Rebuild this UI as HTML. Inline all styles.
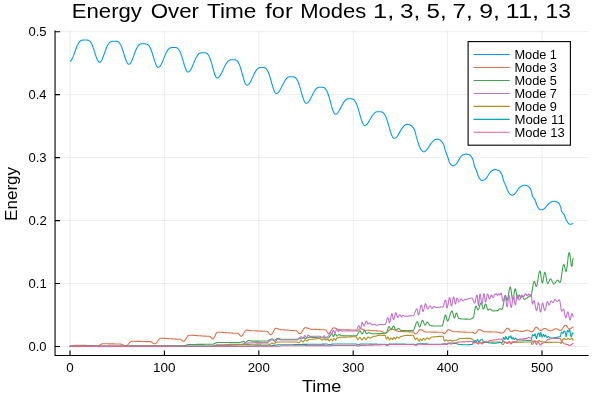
<!DOCTYPE html>
<html><head><meta charset="utf-8"><title>Energy Over Time</title>
<style>html,body{margin:0;padding:0;background:#fff;}svg{display:block;}text{font-family:"Liberation Sans",sans-serif;fill:#000;}</style></head><body>
<svg width="600" height="400" viewBox="0 0 600 400">
<rect width="600" height="400" fill="#fff"/>
<path d="M70.00 31.00 V355.50 M164.40 31.00 V355.50 M258.80 31.00 V355.50 M353.20 31.00 V355.50 M447.60 31.00 V355.50 M542.00 31.00 V355.50 M55.05 346.50 H588.70 M55.05 283.54 H588.70 M55.05 220.58 H588.70 M55.05 157.62 H588.70 M55.05 94.66 H588.70 M55.05 31.70 H588.70" stroke="#000" stroke-opacity="0.1" stroke-width="0.7" fill="none"/>
<g fill="none" stroke-width="1.1" stroke-linejoin="round" stroke-linecap="butt">
<path d="M69.7 61.3 L70.0 61.2 L70.4 61.1 L70.7 60.8 L71.1 60.5 L71.4 60.0 L71.7 59.5 L72.1 58.9 L72.4 58.2 L72.8 57.5 L73.1 56.7 L73.4 55.8 L73.8 54.9 L74.1 54.0 L74.5 53.0 L74.8 52.1 L75.1 51.1 L75.5 50.1 L75.8 49.2 L76.2 48.3 L76.5 47.4 L76.8 46.6 L77.2 45.8 L77.5 45.0 L77.9 44.3 L78.2 43.7 L78.5 43.1 L78.9 42.6 L79.2 42.1 L79.6 41.7 L79.9 41.4 L80.2 41.1 L80.6 40.8 L80.9 40.6 L81.3 40.4 L81.6 40.3 L81.9 40.2 L82.3 40.1 L82.6 40.1 L83.0 40.0 L83.3 40.0 L83.6 40.0 L84.0 40.0 L84.3 40.0 L84.7 40.0 L85.0 40.0 L85.3 40.0 L85.7 40.0 L86.0 40.0 L86.3 40.0 L86.7 40.0 L87.0 40.0 L87.4 40.1 L87.7 40.1 L88.0 40.2 L88.4 40.3 L88.7 40.4 L89.0 40.6 L89.4 40.8 L89.7 41.1 L90.1 41.4 L90.4 41.8 L90.7 42.3 L91.1 42.8 L91.4 43.4 L91.7 44.1 L92.1 44.8 L92.4 45.6 L92.8 46.4 L93.1 47.4 L93.4 48.3 L93.8 49.3 L94.1 50.4 L94.4 51.4 L94.8 52.5 L95.1 53.6 L95.5 54.6 L95.8 55.7 L96.1 56.7 L96.5 57.6 L96.8 58.5 L97.1 59.3 L97.5 60.1 L97.8 60.7 L98.2 61.2 L98.5 61.6 L98.8 62.0 L99.2 62.1 L99.5 62.2 L99.8 62.1 L100.2 62.0 L100.5 61.8 L100.8 61.4 L101.2 61.0 L101.5 60.5 L101.8 59.9 L102.2 59.2 L102.5 58.4 L102.8 57.6 L103.2 56.8 L103.5 55.9 L103.8 55.0 L104.2 54.1 L104.5 53.1 L104.8 52.2 L105.2 51.2 L105.5 50.3 L105.8 49.4 L106.2 48.6 L106.5 47.7 L106.8 46.9 L107.2 46.2 L107.5 45.5 L107.9 44.9 L108.2 44.3 L108.5 43.8 L108.9 43.3 L109.2 42.9 L109.5 42.6 L109.9 42.3 L110.2 42.1 L110.5 41.9 L110.9 41.7 L111.2 41.6 L111.5 41.5 L111.9 41.4 L112.2 41.4 L112.5 41.3 L112.9 41.3 L113.2 41.3 L113.5 41.3 L113.9 41.3 L114.2 41.3 L114.5 41.3 L114.9 41.3 L115.2 41.3 L115.6 41.3 L115.9 41.3 L116.2 41.3 L116.6 41.4 L116.9 41.4 L117.3 41.5 L117.6 41.6 L117.9 41.7 L118.3 41.9 L118.6 42.2 L119.0 42.4 L119.3 42.8 L119.6 43.2 L120.0 43.7 L120.3 44.2 L120.7 44.8 L121.0 45.5 L121.3 46.3 L121.7 47.1 L122.0 48.0 L122.3 48.9 L122.7 49.9 L123.0 51.0 L123.4 52.0 L123.7 53.1 L124.0 54.2 L124.4 55.4 L124.7 56.5 L125.1 57.5 L125.4 58.6 L125.7 59.6 L126.1 60.5 L126.4 61.3 L126.8 62.1 L127.1 62.7 L127.4 63.3 L127.8 63.7 L128.1 64.0 L128.5 64.2 L128.8 64.3 L129.1 64.3 L129.5 64.1 L129.8 63.9 L130.1 63.5 L130.5 63.1 L130.8 62.6 L131.2 62.0 L131.5 61.3 L131.8 60.6 L132.2 59.8 L132.5 59.0 L132.8 58.1 L133.2 57.2 L133.5 56.3 L133.9 55.4 L134.2 54.5 L134.5 53.5 L134.9 52.6 L135.2 51.7 L135.5 50.9 L135.9 50.1 L136.2 49.3 L136.6 48.6 L136.9 47.9 L137.2 47.3 L137.6 46.7 L137.9 46.2 L138.2 45.8 L138.6 45.4 L138.9 45.0 L139.3 44.7 L139.6 44.5 L139.9 44.3 L140.3 44.1 L140.6 44.0 L140.9 43.9 L141.3 43.9 L141.6 43.8 L142.0 43.8 L142.3 43.8 L142.6 43.8 L143.0 43.8 L143.3 43.8 L143.6 43.8 L144.0 43.8 L144.3 43.8 L144.6 43.8 L145.0 43.8 L145.3 43.8 L145.6 43.9 L146.0 43.9 L146.3 44.0 L146.6 44.1 L147.0 44.2 L147.3 44.3 L147.6 44.5 L148.0 44.8 L148.3 45.1 L148.6 45.4 L149.0 45.8 L149.3 46.3 L149.6 46.9 L150.0 47.5 L150.3 48.1 L150.6 48.9 L151.0 49.7 L151.3 50.6 L151.6 51.5 L152.0 52.4 L152.3 53.4 L152.6 54.5 L153.0 55.6 L153.3 56.6 L153.6 57.7 L154.0 58.8 L154.3 59.9 L154.6 60.9 L155.0 61.9 L155.3 62.8 L155.6 63.7 L156.0 64.5 L156.3 65.2 L156.6 65.8 L157.0 66.4 L157.3 66.8 L157.6 67.1 L158.0 67.2 L158.3 67.3 L158.6 67.3 L159.0 67.1 L159.3 66.9 L159.6 66.6 L160.0 66.3 L160.3 65.9 L160.6 65.4 L161.0 64.8 L161.3 64.2 L161.6 63.5 L162.0 62.8 L162.3 62.0 L162.6 61.2 L163.0 60.4 L163.3 59.6 L163.6 58.8 L164.0 57.9 L164.3 57.1 L164.6 56.3 L165.0 55.4 L165.3 54.7 L165.6 53.9 L166.0 53.2 L166.3 52.5 L166.6 51.9 L167.0 51.3 L167.3 50.7 L167.6 50.2 L168.0 49.7 L168.3 49.3 L168.6 49.0 L169.0 48.7 L169.3 48.4 L169.6 48.2 L170.0 48.0 L170.3 47.9 L170.6 47.7 L171.0 47.7 L171.3 47.6 L171.6 47.5 L172.0 47.5 L172.3 47.5 L172.6 47.5 L173.0 47.5 L173.3 47.5 L173.6 47.5 L174.0 47.5 L174.3 47.5 L174.6 47.5 L175.0 47.5 L175.3 47.5 L175.6 47.6 L176.0 47.6 L176.3 47.7 L176.6 47.8 L177.0 47.9 L177.3 48.1 L177.6 48.3 L178.0 48.6 L178.3 49.0 L178.6 49.4 L179.0 49.8 L179.3 50.4 L179.6 51.0 L180.0 51.6 L180.3 52.4 L180.7 53.2 L181.0 54.1 L181.3 55.1 L181.7 56.1 L182.0 57.1 L182.3 58.2 L182.7 59.4 L183.0 60.5 L183.3 61.7 L183.7 62.8 L184.0 64.0 L184.3 65.1 L184.7 66.1 L185.0 67.1 L185.3 68.1 L185.7 69.0 L186.0 69.7 L186.3 70.4 L186.7 71.0 L187.0 71.4 L187.3 71.7 L187.7 71.9 L188.0 72.0 L188.3 72.0 L188.7 71.8 L189.0 71.7 L189.3 71.4 L189.7 71.1 L190.0 70.7 L190.3 70.2 L190.7 69.7 L191.0 69.1 L191.3 68.5 L191.7 67.8 L192.0 67.1 L192.3 66.3 L192.7 65.6 L193.0 64.8 L193.3 64.0 L193.7 63.2 L194.0 62.4 L194.3 61.6 L194.7 60.8 L195.0 60.1 L195.3 59.3 L195.7 58.6 L196.0 57.9 L196.3 57.3 L196.7 56.7 L197.0 56.1 L197.3 55.6 L197.7 55.2 L198.0 54.7 L198.3 54.4 L198.7 54.0 L199.0 53.7 L199.3 53.5 L199.7 53.3 L200.0 53.1 L200.3 53.0 L200.7 52.9 L201.0 52.8 L201.3 52.8 L201.7 52.7 L202.0 52.7 L202.3 52.7 L202.7 52.7 L203.0 52.7 L203.3 52.7 L203.7 52.7 L204.0 52.7 L204.4 52.7 L204.7 52.7 L205.0 52.7 L205.4 52.8 L205.7 52.8 L206.0 52.9 L206.4 53.1 L206.7 53.2 L207.1 53.5 L207.4 53.7 L207.7 54.1 L208.1 54.5 L208.4 55.0 L208.7 55.5 L209.1 56.2 L209.4 56.9 L209.8 57.7 L210.1 58.6 L210.4 59.6 L210.8 60.6 L211.1 61.7 L211.5 62.9 L211.8 64.0 L212.1 65.3 L212.5 66.5 L212.8 67.8 L213.1 69.0 L213.5 70.2 L213.8 71.4 L214.2 72.6 L214.5 73.6 L214.8 74.6 L215.2 75.4 L215.5 76.2 L215.8 76.8 L216.2 77.3 L216.5 77.7 L216.9 77.9 L217.2 78.0 L217.5 78.0 L217.9 77.9 L218.2 77.7 L218.6 77.5 L218.9 77.2 L219.2 76.8 L219.6 76.4 L219.9 75.9 L220.3 75.4 L220.6 74.8 L220.9 74.2 L221.3 73.6 L221.6 72.9 L222.0 72.2 L222.3 71.5 L222.6 70.7 L223.0 70.0 L223.3 69.2 L223.7 68.5 L224.0 67.8 L224.3 67.1 L224.7 66.4 L225.0 65.7 L225.4 65.0 L225.7 64.4 L226.0 63.8 L226.4 63.3 L226.7 62.8 L227.1 62.3 L227.4 61.9 L227.7 61.5 L228.1 61.2 L228.4 60.9 L228.8 60.6 L229.1 60.4 L229.4 60.2 L229.8 60.0 L230.1 59.9 L230.5 59.8 L230.8 59.8 L231.1 59.7 L231.5 59.7 L231.8 59.7 L232.2 59.7 L232.5 59.7 L232.8 59.7 L233.2 59.7 L233.5 59.7 L233.8 59.7 L234.2 59.7 L234.5 59.7 L234.9 59.8 L235.2 59.8 L235.5 59.9 L235.9 60.0 L236.2 60.2 L236.5 60.4 L236.9 60.7 L237.2 61.0 L237.6 61.3 L237.9 61.8 L238.2 62.3 L238.6 62.9 L238.9 63.6 L239.2 64.4 L239.6 65.2 L239.9 66.1 L240.3 67.1 L240.6 68.1 L240.9 69.3 L241.3 70.4 L241.6 71.6 L241.9 72.8 L242.3 74.0 L242.6 75.3 L243.0 76.5 L243.3 77.7 L243.6 78.8 L244.0 79.9 L244.3 81.0 L244.6 81.9 L245.0 82.7 L245.3 83.5 L245.7 84.1 L246.0 84.6 L246.3 84.9 L246.7 85.1 L247.0 85.2 L247.3 85.2 L247.7 85.1 L248.0 84.9 L248.4 84.6 L248.7 84.3 L249.0 83.9 L249.4 83.5 L249.7 83.0 L250.1 82.5 L250.4 81.9 L250.7 81.3 L251.1 80.6 L251.4 79.9 L251.8 79.2 L252.1 78.4 L252.4 77.7 L252.8 76.9 L253.1 76.2 L253.5 75.4 L253.8 74.7 L254.2 74.0 L254.5 73.3 L254.8 72.6 L255.2 72.0 L255.5 71.4 L255.9 70.9 L256.2 70.3 L256.5 69.9 L256.9 69.5 L257.2 69.1 L257.6 68.7 L257.9 68.5 L258.2 68.2 L258.6 68.0 L258.9 67.9 L259.3 67.7 L259.6 67.6 L259.9 67.6 L260.3 67.5 L260.6 67.5 L261.0 67.5 L261.3 67.5 L261.6 67.5 L262.0 67.5 L262.3 67.5 L262.6 67.5 L263.0 67.5 L263.3 67.5 L263.6 67.6 L264.0 67.6 L264.3 67.7 L264.6 67.8 L265.0 67.9 L265.3 68.1 L265.6 68.3 L266.0 68.6 L266.3 68.9 L266.6 69.3 L267.0 69.8 L267.3 70.3 L267.6 70.9 L268.0 71.6 L268.3 72.3 L268.6 73.1 L269.0 74.0 L269.3 75.0 L269.6 76.0 L270.0 77.1 L270.3 78.2 L270.6 79.3 L271.0 80.5 L271.3 81.7 L271.6 82.9 L272.0 84.1 L272.3 85.3 L272.6 86.4 L273.0 87.5 L273.3 88.6 L273.6 89.5 L274.0 90.4 L274.3 91.2 L274.6 91.9 L275.0 92.5 L275.3 92.9 L275.6 93.2 L276.0 93.4 L276.3 93.5 L276.6 93.5 L277.0 93.4 L277.3 93.2 L277.6 93.0 L278.0 92.7 L278.3 92.4 L278.7 92.0 L279.0 91.6 L279.3 91.1 L279.7 90.6 L280.0 90.0 L280.3 89.4 L280.7 88.8 L281.0 88.2 L281.4 87.5 L281.7 86.8 L282.0 86.1 L282.4 85.4 L282.7 84.7 L283.0 84.1 L283.4 83.4 L283.7 82.7 L284.1 82.1 L284.4 81.5 L284.7 80.9 L285.1 80.4 L285.4 79.9 L285.7 79.4 L286.1 79.0 L286.4 78.6 L286.8 78.2 L287.1 77.9 L287.4 77.6 L287.8 77.4 L288.1 77.2 L288.4 77.1 L288.8 76.9 L289.1 76.8 L289.5 76.8 L289.8 76.7 L290.1 76.7 L290.5 76.7 L290.8 76.7 L291.1 76.7 L291.5 76.7 L291.8 76.7 L292.1 76.7 L292.5 76.7 L292.8 76.7 L293.1 76.8 L293.5 76.8 L293.8 76.9 L294.1 77.0 L294.5 77.1 L294.8 77.3 L295.2 77.5 L295.5 77.7 L295.8 78.0 L296.2 78.4 L296.5 78.8 L296.8 79.3 L297.2 79.9 L297.5 80.5 L297.8 81.3 L298.2 82.0 L298.5 82.9 L298.8 83.8 L299.2 84.8 L299.5 85.9 L299.8 86.9 L300.2 88.1 L300.5 89.2 L300.8 90.4 L301.2 91.6 L301.5 92.8 L301.8 94.0 L302.2 95.2 L302.5 96.3 L302.9 97.4 L303.2 98.4 L303.5 99.4 L303.9 100.3 L304.2 101.0 L304.5 101.7 L304.9 102.3 L305.2 102.7 L305.5 103.0 L305.9 103.2 L306.2 103.3 L306.5 103.3 L306.9 103.2 L307.2 103.0 L307.5 102.8 L307.9 102.5 L308.2 102.2 L308.6 101.8 L308.9 101.4 L309.2 100.9 L309.6 100.4 L309.9 99.8 L310.2 99.2 L310.6 98.6 L310.9 98.0 L311.2 97.3 L311.6 96.6 L311.9 96.0 L312.2 95.3 L312.6 94.6 L312.9 93.9 L313.2 93.3 L313.6 92.7 L313.9 92.1 L314.3 91.5 L314.6 90.9 L314.9 90.4 L315.3 90.0 L315.6 89.5 L315.9 89.1 L316.3 88.8 L316.6 88.4 L316.9 88.2 L317.3 87.9 L317.6 87.7 L317.9 87.6 L318.3 87.4 L318.6 87.3 L319.0 87.3 L319.3 87.2 L319.6 87.2 L320.0 87.2 L320.3 87.2 L320.6 87.2 L321.0 87.2 L321.3 87.2 L321.7 87.2 L322.0 87.2 L322.3 87.2 L322.7 87.3 L323.0 87.3 L323.3 87.4 L323.7 87.5 L324.0 87.6 L324.4 87.8 L324.7 88.0 L325.0 88.3 L325.4 88.7 L325.7 89.1 L326.0 89.6 L326.4 90.1 L326.7 90.7 L327.1 91.4 L327.4 92.2 L327.7 93.0 L328.1 94.0 L328.4 95.0 L328.7 96.0 L329.1 97.1 L329.4 98.3 L329.8 99.5 L330.1 100.7 L330.4 102.0 L330.8 103.2 L331.1 104.4 L331.4 105.7 L331.8 106.9 L332.1 108.0 L332.5 109.1 L332.8 110.1 L333.1 111.0 L333.5 111.8 L333.8 112.5 L334.1 113.1 L334.5 113.6 L334.8 113.9 L335.2 114.1 L335.5 114.2 L335.8 114.2 L336.2 114.1 L336.5 113.9 L336.8 113.7 L337.2 113.4 L337.5 113.1 L337.8 112.7 L338.2 112.3 L338.5 111.8 L338.8 111.3 L339.2 110.7 L339.5 110.1 L339.8 109.5 L340.2 108.9 L340.5 108.2 L340.8 107.6 L341.2 106.9 L341.5 106.2 L341.8 105.6 L342.2 105.0 L342.5 104.3 L342.9 103.7 L343.2 103.1 L343.5 102.6 L343.9 102.1 L344.2 101.6 L344.5 101.2 L344.9 100.7 L345.2 100.4 L345.5 100.1 L345.9 99.8 L346.2 99.5 L346.5 99.3 L346.9 99.2 L347.2 99.0 L347.5 98.9 L347.9 98.9 L348.2 98.8 L348.5 98.8 L348.9 98.8 L349.2 98.8 L349.5 98.8 L349.9 98.8 L350.2 98.8 L350.5 98.8 L350.9 98.8 L351.2 98.8 L351.6 98.9 L351.9 98.9 L352.2 99.0 L352.6 99.1 L352.9 99.2 L353.2 99.4 L353.6 99.6 L353.9 99.8 L354.3 100.1 L354.6 100.5 L354.9 100.9 L355.3 101.4 L355.6 102.0 L355.9 102.7 L356.3 103.4 L356.6 104.2 L356.9 105.0 L357.3 106.0 L357.6 106.9 L358.0 108.0 L358.3 109.1 L358.6 110.2 L359.0 111.4 L359.3 112.6 L359.6 113.8 L360.0 115.0 L360.3 116.2 L360.7 117.4 L361.0 118.5 L361.3 119.6 L361.7 120.6 L362.0 121.6 L362.3 122.5 L362.7 123.2 L363.0 123.9 L363.4 124.5 L363.7 124.9 L364.0 125.2 L364.4 125.4 L364.7 125.5 L365.0 125.5 L365.4 125.4 L365.7 125.2 L366.1 125.0 L366.4 124.8 L366.7 124.5 L367.1 124.1 L367.4 123.7 L367.8 123.2 L368.1 122.8 L368.4 122.2 L368.8 121.7 L369.1 121.1 L369.5 120.5 L369.8 119.9 L370.1 119.3 L370.5 118.7 L370.8 118.1 L371.2 117.5 L371.5 116.9 L371.8 116.4 L372.2 115.8 L372.5 115.3 L372.9 114.8 L373.2 114.4 L373.5 113.9 L373.9 113.6 L374.2 113.2 L374.6 112.9 L374.9 112.6 L375.2 112.4 L375.6 112.2 L375.9 112.1 L376.3 111.9 L376.6 111.8 L376.9 111.8 L377.3 111.7 L377.6 111.7 L378.0 111.7 L378.3 111.7 L378.6 111.7 L379.0 111.7 L379.3 111.7 L379.7 111.7 L380.0 111.7 L380.3 111.7 L380.7 111.8 L381.0 111.8 L381.3 111.9 L381.7 111.9 L382.0 112.1 L382.4 112.2 L382.7 112.4 L383.0 112.6 L383.4 112.9 L383.7 113.3 L384.1 113.7 L384.4 114.1 L384.7 114.7 L385.1 115.3 L385.4 115.9 L385.7 116.7 L386.1 117.5 L386.4 118.3 L386.8 119.3 L387.1 120.3 L387.4 121.3 L387.8 122.4 L388.1 123.5 L388.4 124.7 L388.8 125.8 L389.1 127.0 L389.5 128.2 L389.8 129.4 L390.1 130.5 L390.5 131.6 L390.8 132.6 L391.2 133.6 L391.5 134.6 L391.8 135.4 L392.2 136.1 L392.5 136.8 L392.8 137.3 L393.2 137.7 L393.5 138.1 L393.9 138.2 L394.2 138.3 L394.5 138.2 L394.9 138.1 L395.3 138.0 L395.8 137.8 L396.4 137.4 L397.0 136.8 L397.2 136.5 L397.5 136.1 L397.7 135.7 L398.0 135.3 L398.2 134.9 L398.5 134.4 L398.8 133.9 L399.0 133.4 L399.3 132.9 L399.6 132.4 L399.9 131.9 L400.2 131.4 L400.4 130.9 L400.7 130.4 L400.9 130.0 L401.2 129.6 L401.4 129.2 L401.8 128.7 L402.2 128.1 L402.5 127.6 L402.9 127.2 L403.2 126.8 L403.5 126.4 L403.8 126.1 L404.2 125.8 L404.5 125.5 L405.0 125.1 L405.5 124.8 L406.0 124.6 L406.5 124.5 L407.0 124.4 L407.6 124.4 L408.0 124.4 L408.5 124.5 L409.0 124.6 L409.5 124.7 L410.0 124.9 L410.5 125.2 L411.0 125.4 L411.4 125.8 L411.7 126.0 L412.1 126.4 L412.4 126.7 L412.7 127.1 L413.1 127.5 L413.4 127.9 L413.7 128.4 L414.0 128.9 L414.2 129.4 L414.5 129.9 L414.7 130.3 L414.8 130.7 L415.0 131.2 L415.1 131.6 L415.2 132.1 L415.4 132.6 L415.5 133.1 L415.6 133.6 L415.7 134.1 L415.8 134.6 L416.0 135.1 L416.1 135.7 L416.2 136.2 L416.4 136.8 L416.5 137.2 L416.7 137.7 L416.8 138.2 L417.0 138.7 L417.1 139.2 L417.3 139.7 L417.4 140.2 L417.6 140.7 L417.7 141.2 L417.9 141.8 L418.0 142.3 L418.2 142.7 L418.3 143.2 L418.5 143.7 L418.6 144.1 L418.8 144.5 L418.9 144.9 L419.1 145.6 L419.4 146.2 L419.6 146.7 L419.8 147.2 L420.0 147.7 L420.2 148.1 L420.4 148.5 L420.6 148.9 L420.8 149.2 L421.1 149.8 L421.4 150.3 L421.8 150.6 L422.1 150.9 L422.4 151.2 L422.9 151.5 L423.4 151.7 L423.9 151.8 L424.4 151.7 L424.9 151.4 L425.5 151.0 L425.8 150.7 L426.1 150.4 L426.4 150.1 L426.8 149.7 L427.1 149.2 L427.6 148.6 L427.8 148.3 L428.1 147.9 L428.4 147.5 L428.7 147.0 L429.0 146.6 L429.3 146.1 L429.6 145.6 L429.9 145.1 L430.2 144.6 L430.5 144.2 L430.8 143.8 L431.1 143.4 L431.4 143.0 L431.8 142.5 L432.2 142.0 L432.6 141.5 L433.0 141.1 L433.4 140.8 L433.8 140.4 L434.1 140.2 L434.5 139.9 L435.0 139.6 L435.6 139.4 L436.1 139.4 L436.5 139.3 L437.0 139.3 L437.5 139.3 L438.0 139.4 L438.5 139.5 L439.0 139.6 L439.6 139.7 L440.1 140.0 L440.8 140.5 L441.0 140.8 L441.3 141.1 L441.6 141.5 L442.0 141.9 L442.3 142.3 L442.6 142.8 L442.9 143.2 L443.2 143.7 L443.5 144.2 L443.7 144.7 L443.8 145.1 L444.0 145.6 L444.1 146.1 L444.3 146.6 L444.4 147.1 L444.5 147.7 L444.6 148.2 L444.8 148.8 L444.9 149.3 L445.1 149.9 L445.3 150.4 L445.4 150.8 L445.6 151.3 L445.8 151.8 L446.0 152.3 L446.1 152.8 L446.3 153.3 L446.5 153.8 L446.7 154.3 L446.9 154.8 L447.1 155.3 L447.3 155.8 L447.4 156.3 L447.6 156.8 L447.8 157.3 L448.0 157.9 L448.2 158.5 L448.3 159.0 L448.5 159.6 L448.7 160.1 L448.8 160.6 L449.0 161.1 L449.2 161.6 L449.3 162.0 L449.5 162.4 L449.8 163.0 L450.1 163.5 L450.4 164.0 L450.7 164.3 L451.0 164.6 L451.3 164.9 L451.9 165.4 L452.4 165.6 L453.0 165.7 L453.5 165.6 L454.0 165.5 L454.5 165.2 L455.0 164.9 L455.4 164.7 L455.7 164.4 L456.1 164.1 L456.5 163.7 L457.0 163.0 L457.2 162.7 L457.5 162.3 L457.7 161.9 L458.0 161.4 L458.3 160.9 L458.5 160.4 L458.8 159.9 L459.1 159.4 L459.4 158.9 L459.7 158.4 L460.0 157.9 L460.3 157.5 L460.5 157.1 L460.8 156.8 L461.3 156.1 L461.7 155.7 L462.2 155.4 L462.6 155.1 L463.0 154.9 L463.5 154.7 L464.1 154.5 L464.7 154.3 L465.3 154.2 L465.8 154.1 L466.4 154.1 L467.0 154.1 L467.5 154.2 L468.0 154.4 L468.5 154.5 L469.0 154.7 L469.5 154.9 L469.9 155.0 L470.3 155.3 L470.8 155.8 L471.0 156.1 L471.2 156.4 L471.5 156.8 L471.8 157.3 L472.0 157.7 L472.3 158.2 L472.5 158.8 L472.8 159.3 L473.0 159.9 L473.1 160.4 L473.3 160.8 L473.4 161.3 L473.5 161.9 L473.7 162.4 L473.8 163.0 L473.9 163.5 L474.0 164.1 L474.1 164.6 L474.2 165.1 L474.4 165.6 L474.5 166.1 L474.7 166.7 L474.9 167.2 L475.1 167.7 L475.3 168.1 L475.5 168.6 L475.8 169.0 L476.0 169.5 L476.2 170.0 L476.4 170.5 L476.6 171.0 L476.7 171.5 L476.9 172.0 L477.1 172.6 L477.2 173.1 L477.4 173.7 L477.6 174.2 L477.7 174.7 L477.9 175.2 L478.1 175.7 L478.2 176.1 L478.5 176.7 L478.8 177.2 L479.1 177.7 L479.3 178.2 L479.6 178.6 L479.9 178.9 L480.1 179.2 L480.6 179.8 L481.1 180.0 L481.5 180.2 L482.2 180.4 L482.9 180.4 L483.4 180.3 L483.9 180.1 L484.5 179.8 L484.8 179.6 L485.2 179.3 L485.5 179.1 L485.9 178.6 L486.4 178.0 L486.6 177.7 L486.9 177.3 L487.2 176.9 L487.4 176.4 L487.7 176.0 L488.0 175.5 L488.4 175.0 L488.7 174.5 L489.0 174.0 L489.3 173.5 L489.6 173.1 L489.8 172.7 L490.1 172.4 L490.6 171.8 L491.1 171.4 L491.5 171.0 L492.0 170.7 L492.4 170.4 L492.8 170.2 L493.4 169.9 L494.0 169.7 L494.5 169.6 L495.1 169.6 L495.7 169.6 L496.3 169.8 L496.9 169.9 L497.5 170.1 L498.0 170.2 L498.5 170.4 L499.0 170.6 L499.5 171.1 L499.8 171.4 L500.0 171.7 L500.3 172.1 L500.6 172.5 L500.9 172.9 L501.2 173.4 L501.5 173.9 L501.8 174.4 L502.0 174.9 L502.2 175.3 L502.3 175.8 L502.5 176.3 L502.6 176.9 L502.7 177.4 L502.8 177.9 L503.0 178.5 L503.1 179.0 L503.2 179.5 L503.3 180.0 L503.5 180.5 L503.7 181.0 L503.9 181.5 L504.1 182.0 L504.3 182.5 L504.6 182.9 L504.8 183.4 L505.0 183.9 L505.3 184.4 L505.5 184.9 L505.7 185.4 L505.9 185.9 L506.1 186.4 L506.3 187.0 L506.5 187.5 L506.7 188.1 L506.8 188.6 L507.0 189.1 L507.2 189.6 L507.4 190.1 L507.6 190.5 L507.9 191.1 L508.2 191.6 L508.4 192.1 L508.7 192.5 L509.0 192.9 L509.3 193.3 L509.5 193.6 L510.0 194.2 L510.5 194.5 L511.0 194.8 L511.7 195.1 L512.4 195.2 L512.9 195.1 L513.5 194.8 L514.0 194.5 L514.4 194.2 L514.8 193.8 L515.1 193.4 L515.5 193.0 L515.9 192.6 L516.2 192.1 L516.6 191.7 L517.0 191.1 L517.3 190.7 L517.5 190.3 L517.8 189.8 L518.0 189.3 L518.3 188.8 L518.7 188.4 L519.0 188.0 L519.4 187.6 L519.8 187.3 L520.2 187.0 L520.7 186.6 L521.2 186.4 L521.6 186.1 L522.0 185.9 L522.5 185.6 L523.0 185.5 L523.5 185.3 L524.0 185.2 L524.5 185.2 L525.0 185.2 L525.5 185.3 L526.0 185.5 L526.5 185.6 L527.0 185.8 L527.5 186.0 L528.0 186.3 L528.5 186.6 L529.0 187.0 L529.3 187.3 L529.6 187.6 L529.9 188.0 L530.2 188.4 L530.5 188.9 L530.7 189.4 L531.0 190.0 L531.1 190.4 L531.3 190.8 L531.4 191.3 L531.5 191.9 L531.6 192.4 L531.7 192.9 L531.8 193.5 L531.9 194.0 L532.1 194.6 L532.2 195.1 L532.3 195.6 L532.5 196.0 L532.7 196.5 L533.0 197.0 L533.3 197.5 L533.6 197.9 L533.9 198.3 L534.2 198.7 L534.5 199.1 L534.8 199.6 L535.0 200.0 L535.2 200.5 L535.4 201.0 L535.6 201.5 L535.8 202.0 L536.0 202.5 L536.1 203.0 L536.3 203.5 L536.5 204.0 L536.7 204.5 L536.9 205.1 L537.1 205.6 L537.3 206.1 L537.5 206.6 L537.8 207.1 L538.0 207.5 L538.3 208.0 L538.7 208.4 L539.1 208.8 L539.4 209.1 L539.8 209.3 L540.4 209.6 L540.9 209.8 L541.5 209.8 L542.1 209.7 L542.6 209.6 L543.2 209.3 L543.6 209.1 L544.0 208.9 L544.4 208.6 L545.0 208.0 L545.3 207.7 L545.6 207.4 L545.9 207.0 L546.2 206.6 L546.6 206.2 L547.0 205.8 L547.3 205.3 L547.7 204.9 L548.1 204.5 L548.4 204.1 L548.7 203.8 L549.0 203.5 L549.6 203.0 L550.1 202.6 L550.6 202.3 L551.0 202.1 L551.5 201.9 L552.0 201.7 L552.5 201.5 L553.0 201.3 L553.5 201.2 L554.0 201.2 L554.5 201.2 L555.0 201.3 L555.5 201.5 L556.0 201.6 L556.5 201.8 L557.0 202.0 L557.5 202.2 L558.0 202.5 L558.5 203.0 L558.8 203.3 L559.0 203.7 L559.3 204.1 L559.5 204.5 L559.8 205.0 L560.0 205.5 L560.3 206.0 L560.5 206.5 L560.7 206.9 L560.8 207.4 L560.9 208.0 L561.0 208.5 L561.1 209.0 L561.2 209.6 L561.4 210.1 L561.5 210.6 L561.6 211.1 L561.8 211.5 L562.1 212.0 L562.4 212.4 L562.7 212.8 L563.0 213.1 L563.3 213.5 L563.7 213.9 L564.0 214.5 L564.2 214.9 L564.4 215.3 L564.6 215.8 L564.8 216.3 L565.0 216.8 L565.2 217.3 L565.4 217.8 L565.6 218.4 L565.8 218.9 L566.0 219.4 L566.2 219.8 L566.4 220.2 L566.6 220.6 L567.0 221.3 L567.3 221.8 L567.6 222.3 L567.9 222.7 L568.2 223.0 L568.5 223.3 L568.9 223.7 L569.3 224.0 L569.8 224.2 L570.3 224.3 L570.8 224.2 L571.3 224.1 L571.9 223.9 L572.5 223.7 L573.0 223.5 L573.3 223.4" stroke="#009AFA"/>
<path d="M69.7 346.3 L70.0 346.3 L70.4 346.3 L70.7 346.3 L71.0 346.2 L71.4 346.2 L71.7 346.1 L72.0 346.1 L72.4 346.0 L72.7 345.9 L73.0 345.8 L73.4 345.8 L73.7 345.7 L74.0 345.6 L74.4 345.6 L74.7 345.5 L75.0 345.4 L75.4 345.4 L75.7 345.3 L76.0 345.3 L76.4 345.3 L76.7 345.3 L77.0 345.3 L77.4 345.3 L77.7 345.3 L78.0 345.3 L78.4 345.3 L78.7 345.3 L79.0 345.3 L79.4 345.3 L79.7 345.3 L80.0 345.3 L80.4 345.3 L80.7 345.3 L81.0 345.3 L81.4 345.3 L81.7 345.4 L82.0 345.4 L82.4 345.4 L82.7 345.4 L83.0 345.4 L83.4 345.4 L83.7 345.4 L84.0 345.4 L84.4 345.4 L84.7 345.4 L85.0 345.4 L85.4 345.4 L85.7 345.4 L86.0 345.4 L86.4 345.4 L86.7 345.4 L87.0 345.5 L87.4 345.5 L87.7 345.5 L88.0 345.5 L88.4 345.5 L88.7 345.5 L89.0 345.5 L89.4 345.5 L89.7 345.5 L90.0 345.5 L90.4 345.5 L90.7 345.5 L91.0 345.5 L91.4 345.5 L91.7 345.5 L92.0 345.5 L92.4 345.5 L92.7 345.6 L93.1 345.6 L93.4 345.6 L93.7 345.7 L94.1 345.8 L94.4 345.8 L94.8 345.9 L95.1 345.9 L95.5 346.0 L95.8 346.1 L96.1 346.1 L96.5 346.1 L96.8 346.2 L97.2 346.2 L97.5 346.2 L97.8 346.2 L98.2 346.1 L98.5 346.0 L98.8 345.8 L99.2 345.6 L99.5 345.4 L99.8 345.1 L100.2 344.9 L100.5 344.6 L100.8 344.4 L101.2 344.2 L101.5 344.0 L101.8 343.9 L102.2 343.8 L102.5 343.8 L102.8 343.8 L103.2 343.8 L103.5 343.8 L103.8 343.8 L104.2 343.8 L104.5 343.8 L104.9 343.8 L105.2 343.8 L105.5 343.8 L105.9 343.8 L106.2 343.8 L106.5 343.8 L106.9 343.8 L107.2 343.8 L107.5 343.8 L107.9 343.8 L108.2 343.8 L108.6 343.9 L108.9 343.9 L109.2 343.9 L109.6 343.9 L109.9 343.9 L110.2 343.9 L110.6 343.9 L110.9 343.9 L111.2 343.9 L111.6 343.9 L111.9 343.9 L112.3 343.9 L112.6 343.9 L112.9 343.9 L113.3 343.9 L113.6 343.9 L113.9 343.9 L114.3 344.0 L114.6 344.0 L115.0 344.0 L115.3 344.0 L115.6 344.0 L116.0 344.0 L116.3 344.0 L116.6 344.0 L117.0 344.0 L117.3 344.0 L117.6 344.0 L118.0 344.0 L118.3 344.0 L118.7 344.0 L119.0 344.0 L119.3 344.0 L119.7 344.0 L120.0 344.0 L120.3 344.0 L120.7 344.1 L121.0 344.1 L121.4 344.2 L121.7 344.4 L122.0 344.5 L122.4 344.7 L122.7 344.8 L123.1 345.0 L123.4 345.1 L123.8 345.3 L124.1 345.4 L124.4 345.6 L124.8 345.7 L125.1 345.7 L125.5 345.8 L125.8 345.8 L126.1 345.8 L126.5 345.6 L126.8 345.5 L127.2 345.2 L127.5 344.9 L127.9 344.6 L128.2 344.2 L128.6 343.8 L128.9 343.3 L129.3 342.9 L129.6 342.5 L130.0 342.2 L130.3 341.9 L130.7 341.6 L131.0 341.5 L131.4 341.3 L131.7 341.3 L132.0 341.3 L132.4 341.3 L132.7 341.3 L133.1 341.3 L133.4 341.3 L133.7 341.3 L134.1 341.3 L134.4 341.3 L134.8 341.3 L135.1 341.3 L135.4 341.3 L135.8 341.3 L136.1 341.3 L136.4 341.3 L136.8 341.4 L137.1 341.4 L137.5 341.4 L137.8 341.4 L138.1 341.4 L138.5 341.4 L138.8 341.4 L139.2 341.4 L139.5 341.4 L139.8 341.4 L140.2 341.4 L140.5 341.4 L140.8 341.4 L141.2 341.5 L141.5 341.5 L141.9 341.5 L142.2 341.5 L142.5 341.5 L142.9 341.5 L143.2 341.5 L143.6 341.5 L143.9 341.5 L144.2 341.5 L144.6 341.5 L144.9 341.5 L145.3 341.6 L145.6 341.6 L145.9 341.6 L146.3 341.6 L146.6 341.6 L146.9 341.6 L147.3 341.6 L147.6 341.6 L148.0 341.6 L148.3 341.6 L148.6 341.6 L149.0 341.6 L149.3 341.6 L149.7 341.6 L150.0 341.6 L150.3 341.6 L150.7 341.7 L151.0 341.8 L151.4 342.0 L151.7 342.2 L152.1 342.5 L152.4 342.7 L152.7 342.9 L153.1 343.2 L153.4 343.4 L153.8 343.6 L154.1 343.7 L154.5 343.8 L154.8 343.8 L155.1 343.8 L155.5 343.6 L155.8 343.4 L156.1 343.2 L156.5 342.8 L156.8 342.4 L157.1 342.0 L157.5 341.5 L157.8 341.1 L158.1 340.6 L158.5 340.1 L158.8 339.7 L159.1 339.3 L159.5 338.9 L159.8 338.7 L160.1 338.5 L160.5 338.3 L160.8 338.3 L161.1 338.3 L161.5 338.3 L161.8 338.3 L162.1 338.3 L162.5 338.3 L162.8 338.3 L163.2 338.3 L163.5 338.3 L163.8 338.4 L164.2 338.4 L164.5 338.4 L164.8 338.4 L165.2 338.4 L165.5 338.4 L165.9 338.4 L166.2 338.5 L166.5 338.5 L166.9 338.5 L167.2 338.5 L167.5 338.5 L167.9 338.6 L168.2 338.6 L168.5 338.6 L168.9 338.6 L169.2 338.7 L169.6 338.7 L169.9 338.7 L170.2 338.7 L170.6 338.8 L170.9 338.8 L171.2 338.8 L171.6 338.8 L171.9 338.9 L172.3 338.9 L172.6 338.9 L172.9 338.9 L173.3 339.0 L173.6 339.0 L173.9 339.0 L174.3 339.0 L174.6 339.0 L174.9 339.1 L175.3 339.1 L175.6 339.1 L176.0 339.1 L176.3 339.1 L176.6 339.1 L177.0 339.1 L177.3 339.2 L177.6 339.2 L178.0 339.2 L178.3 339.2 L178.7 339.2 L179.0 339.2 L179.3 339.2 L179.7 339.2 L180.0 339.2 L180.4 339.3 L180.7 339.4 L181.1 339.7 L181.5 340.1 L181.8 340.4 L182.2 340.8 L182.6 341.1 L182.9 341.2 L183.3 341.3 L183.6 341.2 L184.0 341.1 L184.3 340.9 L184.7 340.5 L185.0 340.1 L185.4 339.6 L185.7 339.1 L186.1 338.6 L186.4 338.0 L186.8 337.5 L187.1 337.0 L187.5 336.5 L187.8 336.1 L188.2 335.7 L188.5 335.5 L188.9 335.4 L189.2 335.3 L189.5 335.3 L189.9 335.3 L190.2 335.3 L190.5 335.3 L190.9 335.3 L191.2 335.3 L191.5 335.3 L191.9 335.3 L192.2 335.3 L192.5 335.4 L192.9 335.4 L193.2 335.4 L193.5 335.4 L193.9 335.4 L194.2 335.4 L194.5 335.4 L194.9 335.5 L195.2 335.5 L195.5 335.5 L195.9 335.5 L196.2 335.5 L196.5 335.6 L196.9 335.6 L197.2 335.6 L197.5 335.6 L197.9 335.7 L198.2 335.7 L198.5 335.7 L198.9 335.7 L199.2 335.8 L199.5 335.8 L199.9 335.8 L200.2 335.8 L200.5 335.8 L200.9 335.9 L201.2 335.9 L201.5 335.9 L201.9 335.9 L202.2 336.0 L202.5 336.0 L202.9 336.0 L203.2 336.0 L203.5 336.0 L203.9 336.1 L204.2 336.1 L204.5 336.1 L204.9 336.1 L205.2 336.1 L205.5 336.1 L205.9 336.1 L206.2 336.2 L206.5 336.2 L206.9 336.2 L207.2 336.2 L207.5 336.2 L207.9 336.2 L208.2 336.2 L208.5 336.2 L208.9 336.2 L209.2 336.2 L209.6 336.3 L209.9 336.4 L210.3 336.7 L210.6 337.1 L211.0 337.5 L211.4 337.9 L211.7 338.3 L212.1 338.6 L212.4 338.7 L212.8 338.8 L213.1 338.7 L213.5 338.5 L213.8 338.1 L214.1 337.6 L214.5 336.9 L214.8 336.2 L215.2 335.5 L215.5 334.8 L215.8 334.1 L216.2 333.4 L216.5 332.9 L216.8 332.5 L217.2 332.3 L217.5 332.2 L217.8 332.2 L218.2 332.2 L218.5 332.2 L218.8 332.2 L219.2 332.2 L219.5 332.2 L219.8 332.2 L220.2 332.2 L220.5 332.3 L220.8 332.3 L221.2 332.3 L221.5 332.3 L221.8 332.3 L222.2 332.3 L222.5 332.4 L222.8 332.4 L223.2 332.4 L223.5 332.4 L223.8 332.5 L224.2 332.5 L224.5 332.5 L224.8 332.5 L225.2 332.6 L225.5 332.6 L225.8 332.6 L226.2 332.6 L226.5 332.7 L226.8 332.7 L227.2 332.7 L227.5 332.8 L227.8 332.8 L228.2 332.8 L228.5 332.8 L228.8 332.9 L229.2 332.9 L229.5 332.9 L229.8 332.9 L230.2 333.0 L230.5 333.0 L230.8 333.0 L231.2 333.0 L231.5 333.1 L231.8 333.1 L232.2 333.1 L232.5 333.1 L232.8 333.2 L233.2 333.2 L233.5 333.2 L233.8 333.2 L234.2 333.2 L234.5 333.2 L234.8 333.3 L235.2 333.3 L235.5 333.3 L235.8 333.3 L236.2 333.3 L236.5 333.3 L236.8 333.3 L237.2 333.3 L237.5 333.3 L237.8 333.4 L238.2 333.5 L238.5 333.8 L238.8 334.1 L239.2 334.5 L239.5 335.0 L239.9 335.4 L240.2 335.7 L240.5 336.0 L240.9 336.1 L241.2 336.2 L241.6 336.1 L241.9 335.9 L242.3 335.6 L242.6 335.2 L243.0 334.7 L243.3 334.1 L243.7 333.5 L244.0 332.8 L244.4 332.2 L244.7 331.6 L245.1 331.1 L245.4 330.7 L245.8 330.4 L246.1 330.2 L246.5 330.1 L246.8 330.1 L247.2 330.1 L247.5 330.1 L247.9 330.2 L248.2 330.2 L248.6 330.3 L248.9 330.3 L249.2 330.4 L249.6 330.4 L249.9 330.5 L250.3 330.5 L250.6 330.6 L250.9 330.6 L251.3 330.7 L251.6 330.7 L252.0 330.8 L252.3 330.8 L252.7 330.8 L253.0 330.8 L253.3 330.8 L253.7 330.8 L254.0 330.8 L254.3 330.8 L254.7 330.8 L255.0 330.8 L255.3 330.8 L255.7 330.8 L256.0 330.9 L256.3 330.9 L256.7 330.9 L257.0 330.9 L257.3 330.9 L257.7 330.9 L258.0 330.9 L258.3 331.0 L258.7 331.0 L259.0 331.0 L259.3 331.0 L259.7 331.0 L260.0 331.1 L260.4 331.1 L260.7 331.1 L261.0 331.1 L261.4 331.1 L261.7 331.2 L262.0 331.2 L262.4 331.2 L262.7 331.2 L263.0 331.2 L263.4 331.2 L263.7 331.2 L264.0 331.3 L264.4 331.3 L264.7 331.3 L265.0 331.3 L265.4 331.3 L265.7 331.3 L266.0 331.3 L266.4 331.3 L266.7 331.3 L267.1 331.4 L267.4 331.5 L267.8 331.8 L268.1 332.1 L268.5 332.6 L268.9 333.0 L269.2 333.4 L269.6 333.8 L269.9 334.2 L270.3 334.5 L270.6 334.6 L271.0 334.7 L271.3 334.6 L271.7 334.4 L272.0 334.0 L272.3 333.5 L272.7 332.9 L273.0 332.3 L273.4 331.6 L273.7 330.8 L274.0 330.2 L274.4 329.6 L274.7 329.1 L275.0 328.7 L275.4 328.5 L275.7 328.4 L276.1 328.4 L276.4 328.4 L276.8 328.5 L277.1 328.6 L277.4 328.7 L277.8 328.8 L278.1 328.9 L278.5 329.0 L278.9 329.1 L279.2 329.2 L279.6 329.3 L279.9 329.4 L280.2 329.5 L280.6 329.6 L280.9 329.7 L281.3 329.8 L281.6 329.8 L282.0 329.8 L282.3 329.8 L282.7 329.8 L283.0 329.8 L283.3 329.8 L283.7 329.8 L284.0 329.8 L284.3 329.9 L284.7 329.9 L285.0 329.9 L285.3 329.9 L285.7 329.9 L286.0 330.0 L286.3 330.0 L286.7 330.0 L287.0 330.1 L287.3 330.1 L287.7 330.1 L288.0 330.1 L288.3 330.2 L288.7 330.2 L289.0 330.2 L289.3 330.3 L289.7 330.3 L290.0 330.4 L290.3 330.4 L290.7 330.4 L291.0 330.4 L291.3 330.5 L291.7 330.5 L292.0 330.5 L292.3 330.6 L292.7 330.6 L293.0 330.6 L293.3 330.6 L293.7 330.6 L294.0 330.7 L294.3 330.7 L294.7 330.7 L295.0 330.7 L295.3 330.7 L295.7 330.7 L296.0 330.7 L296.3 330.8 L296.7 330.9 L297.0 331.1 L297.3 331.4 L297.7 331.8 L298.0 332.2 L298.3 332.6 L298.7 332.9 L299.0 333.3 L299.3 333.5 L299.7 333.6 L300.0 333.7 L300.3 333.6 L300.7 333.4 L301.0 333.1 L301.4 332.7 L301.7 332.2 L302.1 331.6 L302.4 331.0 L302.8 330.4 L303.1 329.8 L303.5 329.2 L303.8 328.7 L304.2 328.3 L304.5 328.0 L304.9 327.8 L305.2 327.7 L305.5 327.7 L305.9 327.7 L306.2 327.8 L306.6 327.9 L306.9 327.9 L307.2 328.0 L307.6 328.1 L307.9 328.3 L308.3 328.4 L308.6 328.5 L308.9 328.6 L309.3 328.7 L309.6 328.9 L310.0 329.0 L310.3 329.1 L310.6 329.1 L311.0 329.2 L311.3 329.3 L311.7 329.3 L312.0 329.3 L312.3 329.3 L312.7 329.3 L313.0 329.3 L313.4 329.3 L313.7 329.3 L314.0 329.3 L314.4 329.3 L314.7 329.3 L315.0 329.4 L315.4 329.4 L315.7 329.4 L316.1 329.4 L316.4 329.4 L316.7 329.4 L317.1 329.5 L317.4 329.5 L317.7 329.5 L318.1 329.5 L318.4 329.5 L318.8 329.6 L319.1 329.6 L319.4 329.6 L319.8 329.6 L320.1 329.6 L320.4 329.6 L320.8 329.7 L321.1 329.7 L321.4 329.7 L321.8 329.7 L322.1 329.7 L322.5 329.7 L322.8 329.8 L323.1 329.8 L323.5 329.8 L323.8 329.8 L324.1 329.8 L324.5 329.8 L324.8 329.8 L325.2 329.8 L325.5 329.8 L325.8 329.9 L326.2 330.2 L326.5 330.7 L326.8 331.3 L327.2 332.0 L327.5 332.6 L327.8 333.1 L328.2 333.4 L328.5 333.5 L328.8 333.4 L329.2 333.3 L329.5 333.0 L329.9 332.6 L330.2 332.1 L330.6 331.6 L330.9 331.0 L331.3 330.4 L331.6 329.8 L332.0 329.3 L332.3 328.8 L332.7 328.4 L333.0 328.1 L333.4 328.0 L333.7 327.9 L334.1 327.9 L334.4 328.0 L334.8 328.0 L335.1 328.1 L335.4 328.2 L335.8 328.4 L336.1 328.5 L336.5 328.7 L336.9 328.8 L337.2 329.0 L337.6 329.2 L337.9 329.3 L338.2 329.5 L338.6 329.6 L338.9 329.7 L339.3 329.7 L339.6 329.8 L340.0 329.8 L340.3 329.8 L340.7 329.8 L341.0 329.8 L341.3 329.8 L341.7 329.8 L342.0 329.8 L342.4 329.8 L342.7 329.8 L343.0 329.8 L343.4 329.8 L343.7 329.8 L344.0 329.8 L344.4 329.8 L344.7 329.8 L345.1 329.8 L345.4 329.9 L345.7 329.9 L346.1 329.9 L346.4 329.9 L346.7 329.9 L347.1 329.9 L347.4 329.9 L347.8 329.9 L348.1 329.9 L348.4 329.9 L348.8 329.9 L349.1 329.9 L349.4 329.9 L349.8 329.9 L350.1 329.9 L350.4 330.0 L350.8 330.0 L351.1 330.0 L351.5 330.0 L351.8 330.0 L352.1 330.0 L352.5 330.0 L352.8 330.0 L353.1 330.0 L353.5 330.0 L353.8 330.0 L354.2 330.0 L354.5 330.0 L354.8 330.0 L355.2 330.0 L355.5 330.0 L355.9 330.1 L356.2 330.5 L356.6 330.9 L357.0 331.0 L357.3 330.9 L357.7 330.7 L358.0 330.4 L358.3 330.0 L358.7 329.7 L359.0 329.3 L359.3 329.0 L359.7 328.8 L360.0 328.7 L360.3 328.7 L360.7 328.7 L361.0 328.8 L361.3 328.9 L361.7 329.0 L362.0 329.1 L362.3 329.2 L362.7 329.4 L363.0 329.5 L363.3 329.6 L363.7 329.8 L364.0 329.9 L364.3 330.0 L364.7 330.1 L365.0 330.2 L365.3 330.3 L365.7 330.3 L366.0 330.3 L366.3 330.3 L366.7 330.3 L367.0 330.3 L367.3 330.3 L367.7 330.3 L368.0 330.3 L368.3 330.3 L368.7 330.4 L369.0 330.4 L369.3 330.4 L369.7 330.4 L370.0 330.4 L370.3 330.5 L370.7 330.5 L371.0 330.5 L371.3 330.5 L371.7 330.5 L372.0 330.6 L372.3 330.6 L372.7 330.6 L373.0 330.6 L373.3 330.7 L373.7 330.7 L374.0 330.7 L374.3 330.8 L374.7 330.8 L375.0 330.8 L375.3 330.8 L375.7 330.8 L376.0 330.9 L376.3 330.9 L376.7 330.9 L377.0 330.9 L377.3 330.9 L377.7 331.0 L378.0 331.0 L378.3 331.0 L378.7 331.0 L379.0 331.0 L379.3 331.0 L379.7 331.0 L380.0 331.0 L380.3 331.0 L380.7 331.1 L381.0 331.2 L381.3 331.3 L381.7 331.5 L382.0 331.7 L382.3 331.9 L382.7 332.1 L383.0 332.3 L383.3 332.5 L383.7 332.7 L384.0 332.8 L384.3 332.9 L384.7 333.0 L385.0 333.0 L385.3 333.0 L385.7 332.9 L386.0 332.8 L386.4 332.6 L386.7 332.4 L387.1 332.2 L387.4 331.9 L387.7 331.6 L388.1 331.3 L388.4 331.0 L388.8 330.7 L389.1 330.4 L389.4 330.1 L389.8 329.9 L390.1 329.7 L390.5 329.5 L390.8 329.4 L391.2 329.3 L391.5 329.3 L391.8 329.3 L392.2 329.3 L392.5 329.4 L392.9 329.4 L393.2 329.5 L393.5 329.6 L393.9 329.7 L394.2 329.8 L394.6 329.9 L394.9 330.1 L395.2 330.2 L395.6 330.3 L395.9 330.5 L396.3 330.6 L396.6 330.7 L396.9 330.9 L397.3 331.0 L397.6 331.1 L398.0 331.2 L398.3 331.3 L398.6 331.4 L399.0 331.4 L399.3 331.5 L399.7 331.5 L400.0 331.5 L400.3 331.5 L400.7 331.5 L401.0 331.5 L401.3 331.5 L401.7 331.5 L402.0 331.5 L402.3 331.5 L402.7 331.6 L403.0 331.6 L403.3 331.6 L403.7 331.6 L404.0 331.6 L404.3 331.6 L404.7 331.6 L405.0 331.7 L405.3 331.7 L405.7 331.7 L406.0 331.7 L406.3 331.7 L406.7 331.8 L407.0 331.8 L407.3 331.8 L407.7 331.8 L408.0 331.8 L408.3 331.9 L408.7 331.9 L409.0 331.9 L409.3 331.9 L409.7 331.9 L410.0 331.9 L410.3 331.9 L410.7 332.0 L411.0 332.0 L411.3 332.0 L411.7 332.0 L412.0 332.0 L412.3 332.0 L412.7 332.0 L413.0 332.0 L413.4 332.1 L413.7 332.4 L414.1 332.8 L414.4 333.2 L414.8 333.6 L415.1 333.9 L415.5 334.0 L415.8 334.0 L416.2 333.8 L416.5 333.6 L416.8 333.3 L417.2 332.9 L417.5 332.5 L417.8 332.0 L418.2 331.6 L418.5 331.1 L418.8 330.7 L419.2 330.3 L419.5 330.0 L419.8 329.8 L420.2 329.6 L420.5 329.6 L420.8 329.6 L421.2 329.7 L421.5 329.8 L421.9 330.0 L422.2 330.1 L422.6 330.3 L422.9 330.6 L423.2 330.8 L423.6 331.0 L423.9 331.3 L424.3 331.5 L424.6 331.6 L425.0 331.8 L425.3 331.9 L425.7 332.0 L426.0 332.0 L426.3 332.0 L426.7 332.0 L427.0 332.0 L427.3 332.0 L427.7 332.0 L428.0 332.0 L428.3 332.0 L428.7 332.0 L429.0 332.0 L429.3 332.0 L429.7 332.0 L430.0 332.0 L430.3 332.0 L430.7 332.0 L431.0 332.0 L431.3 332.1 L431.7 332.1 L432.0 332.1 L432.3 332.1 L432.7 332.1 L433.0 332.1 L433.3 332.1 L433.7 332.1 L434.0 332.1 L434.3 332.1 L434.7 332.1 L435.0 332.1 L435.3 332.1 L435.7 332.1 L436.0 332.1 L436.3 332.1 L436.7 332.1 L437.0 332.2 L437.3 332.2 L437.7 332.2 L438.0 332.2 L438.3 332.2 L438.7 332.2 L439.0 332.2 L439.3 332.2 L439.7 332.2 L440.0 332.2 L440.3 332.2 L440.7 332.2 L441.0 332.2 L441.3 332.2 L441.7 332.2 L442.0 332.2 L442.4 332.3 L442.8 332.5 L443.1 332.8 L443.5 333.2 L443.9 333.4 L444.3 333.5 L444.7 333.4 L445.0 333.3 L445.4 333.0 L445.7 332.6 L446.1 332.1 L446.4 331.7 L446.8 331.2 L447.1 330.7 L447.4 330.3 L447.8 330.0 L448.1 329.9 L448.5 329.8 L448.8 329.8 L449.2 329.9 L449.5 330.0 L449.9 330.1 L450.2 330.2 L450.6 330.4 L450.9 330.6 L451.2 330.8 L451.6 331.0 L451.9 331.2 L452.3 331.4 L452.6 331.5 L453.0 331.6 L453.3 331.7 L453.7 331.8 L454.0 331.8 L454.3 331.8 L454.7 331.8 L455.0 331.8 L455.3 331.8 L455.7 331.8 L456.0 331.8 L456.4 331.8 L456.7 331.8 L457.0 331.8 L457.4 331.8 L457.7 331.8 L458.0 331.9 L458.4 331.9 L458.7 331.9 L459.0 331.9 L459.4 331.9 L459.7 331.9 L460.1 331.9 L460.4 331.9 L460.7 331.9 L461.1 332.0 L461.4 332.0 L461.7 332.0 L462.1 332.0 L462.4 332.0 L462.7 332.0 L463.1 332.0 L463.4 332.1 L463.8 332.1 L464.1 332.1 L464.4 332.1 L464.8 332.1 L465.1 332.1 L465.4 332.1 L465.8 332.2 L466.1 332.2 L466.4 332.2 L466.8 332.2 L467.1 332.2 L467.5 332.2 L467.8 332.2 L468.1 332.2 L468.5 332.2 L468.8 332.3 L469.1 332.3 L469.5 332.3 L469.8 332.3 L470.1 332.3 L470.5 332.3 L470.8 332.3 L471.2 332.3 L471.5 332.3 L471.8 332.3 L472.2 332.3 L472.5 332.3 L472.9 332.4 L473.2 332.5 L473.6 332.8 L473.9 333.0 L474.3 333.3 L474.6 333.4 L475.0 333.5 L475.3 333.4 L475.7 333.2 L476.0 332.9 L476.3 332.5 L476.7 332.1 L477.0 331.6 L477.3 331.0 L477.7 330.6 L478.0 330.2 L478.3 329.9 L478.7 329.7 L479.0 329.6 L479.3 329.6 L479.7 329.7 L480.0 329.7 L480.3 329.9 L480.7 330.0 L481.0 330.2 L481.3 330.3 L481.7 330.5 L482.0 330.7 L482.3 330.9 L482.7 331.1 L483.0 331.2 L483.3 331.4 L483.7 331.5 L484.0 331.7 L484.3 331.7 L484.7 331.8 L485.0 331.8 L485.3 331.8 L485.7 331.8 L486.0 331.8 L486.3 331.8 L486.7 331.8 L487.0 331.8 L487.3 331.8 L487.7 331.8 L488.0 331.8 L488.3 331.9 L488.7 331.9 L489.0 331.9 L489.3 331.9 L489.7 331.9 L490.0 331.9 L490.3 331.9 L490.7 331.9 L491.0 331.9 L491.3 331.9 L491.7 331.9 L492.0 332.0 L492.3 332.0 L492.7 332.0 L493.0 332.0 L493.3 332.0 L493.7 332.0 L494.0 332.0 L494.3 332.0 L494.7 332.0 L495.0 332.0 L495.3 332.0 L495.7 332.0 L496.0 332.0 L496.4 332.1 L496.7 332.1 L497.0 332.2 L497.4 332.2 L497.7 332.3 L498.1 332.4 L498.4 332.4 L498.8 332.5 L499.1 332.6 L499.4 332.6 L499.8 332.7 L500.1 332.8 L500.5 332.8 L500.8 332.9 L501.1 332.9 L501.5 333.0 L501.8 333.0 L502.2 333.0 L502.5 333.0 L502.8 332.9 L503.2 332.8 L503.5 332.5 L503.8 332.2 L504.2 331.8 L504.5 331.3 L504.8 330.9 L505.2 330.3 L505.5 329.9 L505.8 329.4 L506.2 329.0 L506.5 328.7 L506.8 328.4 L507.2 328.3 L507.5 328.2 L507.8 328.3 L508.2 328.4 L508.5 328.7 L508.8 329.0 L509.2 329.4 L509.5 329.8 L509.8 330.3 L510.2 330.7 L510.5 331.0 L510.8 331.3 L511.2 331.4 L511.5 331.5 L511.8 331.5 L512.2 331.3 L512.5 331.2 L512.8 331.0 L513.2 330.7 L513.5 330.5 L513.8 330.4 L514.2 330.2 L514.5 330.2 L514.8 330.2 L515.2 330.2 L515.5 330.3 L515.9 330.3 L516.2 330.4 L516.5 330.4 L516.9 330.5 L517.2 330.6 L517.6 330.7 L517.9 330.8 L518.2 330.8 L518.6 330.9 L518.9 331.0 L519.3 331.1 L519.6 331.2 L520.0 331.3 L520.3 331.3 L520.6 331.4 L521.0 331.4 L521.3 331.5 L521.7 331.5 L522.0 331.5 L522.3 331.5 L522.7 331.4 L523.0 331.4 L523.3 331.3 L523.7 331.2 L524.0 331.1 L524.3 330.9 L524.7 330.8 L525.0 330.6 L525.3 330.5 L525.7 330.4 L526.0 330.3 L526.3 330.3 L526.7 330.2 L527.0 330.2 L527.3 330.2 L527.7 330.3 L528.0 330.4 L528.3 330.5 L528.7 330.6 L529.0 330.8 L529.3 330.9 L529.7 331.1 L530.0 331.2 L530.3 331.4 L530.7 331.5 L531.0 331.6 L531.3 331.7 L531.7 331.8 L532.0 331.8 L532.4 331.7 L532.7 331.5 L533.0 331.1 L533.4 330.7 L533.8 330.1 L534.1 329.5 L534.5 328.9 L534.8 328.4 L535.2 327.9 L535.5 327.5 L535.9 327.3 L536.2 327.2 L536.6 327.3 L536.9 327.4 L537.3 327.7 L537.6 328.0 L538.0 328.4 L538.4 328.8 L538.7 329.3 L539.1 329.7 L539.4 330.0 L539.8 330.3 L540.1 330.4 L540.5 330.5 L540.8 330.5 L541.2 330.4 L541.5 330.2 L541.8 330.0 L542.2 329.8 L542.5 329.5 L542.8 329.2 L543.2 329.0 L543.5 328.8 L543.8 328.6 L544.2 328.5 L544.5 328.5 L544.8 328.5 L545.2 328.6 L545.5 328.7 L545.8 328.8 L546.2 328.9 L546.5 329.1 L546.8 329.3 L547.2 329.5 L547.5 329.6 L547.8 329.8 L548.2 330.0 L548.5 330.2 L548.8 330.4 L549.2 330.5 L549.5 330.6 L549.8 330.7 L550.2 330.8 L550.5 330.8 L550.8 330.8 L551.2 330.7 L551.5 330.6 L551.9 330.5 L552.2 330.4 L552.6 330.2 L552.9 330.0 L553.2 329.8 L553.6 329.6 L553.9 329.4 L554.3 329.2 L554.6 329.1 L555.0 329.0 L555.3 328.9 L555.7 328.8 L556.0 328.8 L556.3 328.8 L556.7 328.9 L557.0 329.0 L557.4 329.2 L557.7 329.3 L558.1 329.5 L558.4 329.8 L558.8 330.0 L559.1 330.1 L559.5 330.3 L559.8 330.4 L560.2 330.5 L560.5 330.5 L560.8 330.4 L561.2 330.3 L561.5 330.0 L561.8 329.6 L562.2 329.2 L562.5 328.7 L562.8 328.1 L563.2 327.6 L563.5 327.0 L563.8 326.5 L564.2 326.1 L564.5 325.7 L564.8 325.4 L565.2 325.3 L565.5 325.2 L565.8 325.3 L566.2 325.5 L566.5 325.8 L566.8 326.1 L567.2 326.6 L567.5 327.1 L567.8 327.6 L568.2 328.1 L568.5 328.4 L568.8 328.7 L569.2 328.9 L569.5 329.0 L569.8 329.0 L570.2 328.9 L570.5 328.7 L570.8 328.5 L571.2 328.3 L571.5 328.0 L571.8 327.7 L572.2 327.5 L572.5 327.3 L572.8 327.1 L573.2 327.0 L573.5 327.0" stroke="#E36F47"/>
<path d="M69.7 346.4 L70.0 346.4 L70.4 346.4 L70.7 346.4 L71.0 346.4 L71.4 346.4 L71.7 346.4 L72.0 346.4 L72.4 346.4 L72.7 346.4 L73.1 346.4 L73.4 346.4 L73.7 346.4 L74.1 346.4 L74.4 346.4 L74.7 346.4 L75.1 346.4 L75.4 346.4 L75.7 346.4 L76.1 346.4 L76.4 346.4 L76.7 346.4 L77.1 346.4 L77.4 346.4 L77.7 346.4 L78.1 346.4 L78.4 346.4 L78.7 346.4 L79.1 346.4 L79.4 346.4 L79.8 346.4 L80.1 346.4 L80.4 346.4 L80.8 346.4 L81.1 346.4 L81.4 346.4 L81.8 346.4 L82.1 346.4 L82.4 346.4 L82.8 346.4 L83.1 346.4 L83.4 346.4 L83.8 346.4 L84.1 346.4 L84.4 346.4 L84.8 346.4 L85.1 346.4 L85.4 346.4 L85.8 346.4 L86.1 346.4 L86.5 346.4 L86.8 346.4 L87.1 346.4 L87.5 346.4 L87.8 346.4 L88.1 346.4 L88.5 346.4 L88.8 346.4 L89.1 346.4 L89.5 346.4 L89.8 346.4 L90.1 346.4 L90.5 346.4 L90.8 346.4 L91.1 346.4 L91.5 346.4 L91.8 346.4 L92.1 346.4 L92.5 346.4 L92.8 346.4 L93.2 346.4 L93.5 346.4 L93.8 346.4 L94.2 346.4 L94.5 346.4 L94.8 346.4 L95.2 346.4 L95.5 346.4 L95.8 346.4 L96.2 346.4 L96.5 346.4 L96.8 346.4 L97.2 346.4 L97.5 346.4 L97.8 346.4 L98.2 346.4 L98.5 346.4 L98.8 346.4 L99.2 346.3 L99.5 346.3 L99.9 346.3 L100.2 346.3 L100.5 346.3 L100.9 346.3 L101.2 346.3 L101.5 346.3 L101.9 346.3 L102.2 346.3 L102.5 346.3 L102.9 346.3 L103.2 346.3 L103.5 346.3 L103.9 346.3 L104.2 346.3 L104.5 346.3 L104.9 346.3 L105.2 346.3 L105.6 346.3 L105.9 346.3 L106.2 346.3 L106.6 346.3 L106.9 346.3 L107.2 346.3 L107.6 346.3 L107.9 346.3 L108.2 346.3 L108.6 346.3 L108.9 346.3 L109.2 346.3 L109.6 346.3 L109.9 346.3 L110.2 346.3 L110.6 346.3 L110.9 346.3 L111.2 346.3 L111.6 346.3 L111.9 346.3 L112.3 346.3 L112.6 346.3 L112.9 346.3 L113.3 346.3 L113.6 346.3 L113.9 346.3 L114.3 346.3 L114.6 346.3 L114.9 346.3 L115.3 346.3 L115.6 346.3 L115.9 346.3 L116.3 346.3 L116.6 346.3 L116.9 346.3 L117.3 346.3 L117.6 346.3 L117.9 346.3 L118.3 346.3 L118.6 346.3 L119.0 346.3 L119.3 346.3 L119.6 346.3 L120.0 346.3 L120.3 346.3 L120.6 346.3 L121.0 346.3 L121.3 346.3 L121.6 346.3 L122.0 346.3 L122.3 346.3 L122.6 346.3 L123.0 346.3 L123.3 346.3 L123.6 346.3 L124.0 346.3 L124.3 346.3 L124.6 346.3 L125.0 346.3 L125.3 346.3 L125.7 346.3 L126.0 346.3 L126.3 346.3 L126.7 346.3 L127.0 346.3 L127.3 346.3 L127.7 346.3 L128.0 346.3 L128.3 346.3 L128.7 346.3 L129.0 346.2 L129.3 346.2 L129.7 346.1 L130.0 346.1 L130.3 346.0 L130.7 345.9 L131.0 345.9 L131.3 345.8 L131.7 345.8 L132.0 345.8 L132.3 345.8 L132.7 345.8 L133.0 345.8 L133.3 345.8 L133.7 345.8 L134.0 345.8 L134.3 345.8 L134.7 345.8 L135.0 345.8 L135.3 345.8 L135.7 345.8 L136.0 345.8 L136.3 345.8 L136.7 345.8 L137.0 345.8 L137.3 345.8 L137.7 345.8 L138.0 345.8 L138.3 345.8 L138.7 345.8 L139.0 345.8 L139.3 345.8 L139.7 345.8 L140.0 345.8 L140.3 345.8 L140.7 345.8 L141.0 345.8 L141.3 345.8 L141.7 345.8 L142.0 345.8 L142.3 345.8 L142.7 345.8 L143.0 345.8 L143.3 345.8 L143.7 345.8 L144.0 345.8 L144.3 345.8 L144.7 345.8 L145.0 345.8 L145.3 345.8 L145.7 345.8 L146.0 345.8 L146.3 345.8 L146.7 345.8 L147.0 345.8 L147.3 345.8 L147.7 345.8 L148.0 345.8 L148.3 345.8 L148.7 345.8 L149.0 345.8 L149.3 345.8 L149.7 345.8 L150.0 345.8 L150.3 345.8 L150.7 345.8 L151.0 345.8 L151.3 345.8 L151.7 345.8 L152.0 345.8 L152.3 345.8 L152.7 345.8 L153.0 345.8 L153.3 345.8 L153.7 345.8 L154.0 345.8 L154.3 345.8 L154.7 345.8 L155.0 345.8 L155.3 345.8 L155.7 345.8 L156.0 345.8 L156.3 345.8 L156.7 345.8 L157.0 345.8 L157.3 345.8 L157.7 345.8 L158.0 345.8 L158.3 345.7 L158.7 345.7 L159.0 345.7 L159.3 345.7 L159.7 345.7 L160.0 345.7 L160.3 345.7 L160.7 345.7 L161.0 345.7 L161.3 345.7 L161.7 345.7 L162.0 345.7 L162.3 345.7 L162.7 345.7 L163.0 345.7 L163.3 345.7 L163.7 345.7 L164.0 345.7 L164.3 345.7 L164.7 345.7 L165.0 345.7 L165.3 345.7 L165.7 345.7 L166.0 345.7 L166.3 345.7 L166.7 345.7 L167.0 345.7 L167.3 345.7 L167.7 345.7 L168.0 345.7 L168.3 345.7 L168.7 345.7 L169.0 345.7 L169.3 345.7 L169.7 345.7 L170.0 345.7 L170.3 345.7 L170.7 345.7 L171.0 345.7 L171.3 345.7 L171.7 345.7 L172.0 345.7 L172.3 345.7 L172.7 345.7 L173.0 345.7 L173.3 345.7 L173.7 345.7 L174.0 345.7 L174.3 345.7 L174.7 345.7 L175.0 345.7 L175.3 345.7 L175.7 345.7 L176.0 345.7 L176.3 345.7 L176.7 345.7 L177.0 345.7 L177.3 345.7 L177.7 345.7 L178.0 345.7 L178.3 345.7 L178.7 345.7 L179.0 345.7 L179.3 345.7 L179.7 345.7 L180.0 345.7 L180.3 345.7 L180.7 345.7 L181.0 345.7 L181.3 345.7 L181.7 345.7 L182.0 345.7 L182.3 345.7 L182.7 345.7 L183.0 345.7 L183.3 345.7 L183.7 345.7 L184.0 345.7 L184.3 345.7 L184.7 345.6 L185.0 345.6 L185.3 345.5 L185.7 345.4 L186.0 345.3 L186.3 345.2 L186.7 345.0 L187.0 344.9 L187.3 344.8 L187.7 344.7 L188.0 344.6 L188.3 344.6 L188.7 344.5 L189.0 344.5 L189.3 344.5 L189.7 344.5 L190.0 344.5 L190.3 344.5 L190.7 344.5 L191.0 344.5 L191.3 344.5 L191.7 344.5 L192.0 344.5 L192.3 344.5 L192.7 344.5 L193.0 344.5 L193.3 344.5 L193.7 344.5 L194.0 344.5 L194.3 344.5 L194.7 344.5 L195.0 344.5 L195.3 344.5 L195.7 344.5 L196.0 344.5 L196.3 344.5 L196.7 344.4 L197.0 344.4 L197.3 344.4 L197.7 344.4 L198.0 344.4 L198.3 344.4 L198.7 344.4 L199.0 344.4 L199.3 344.4 L199.7 344.4 L200.0 344.4 L200.3 344.4 L200.7 344.4 L201.0 344.4 L201.3 344.4 L201.7 344.4 L202.0 344.4 L202.3 344.4 L202.7 344.4 L203.0 344.4 L203.3 344.4 L203.7 344.4 L204.0 344.4 L204.3 344.4 L204.7 344.3 L205.0 344.3 L205.3 344.3 L205.7 344.3 L206.0 344.3 L206.3 344.3 L206.7 344.3 L207.0 344.3 L207.3 344.3 L207.7 344.3 L208.0 344.3 L208.3 344.3 L208.7 344.3 L209.0 344.3 L209.3 344.3 L209.7 344.3 L210.0 344.3 L210.3 344.3 L210.7 344.3 L211.0 344.3 L211.3 344.3 L211.7 344.3 L212.0 344.3 L212.3 344.3 L212.7 344.2 L213.0 344.2 L213.3 344.1 L213.7 344.0 L214.0 343.9 L214.3 343.7 L214.7 343.6 L215.0 343.4 L215.3 343.2 L215.7 343.1 L216.0 342.9 L216.3 342.8 L216.7 342.7 L217.0 342.6 L217.3 342.6 L217.7 342.5 L218.0 342.5 L218.3 342.5 L218.7 342.5 L219.0 342.5 L219.3 342.5 L219.7 342.5 L220.0 342.5 L220.3 342.5 L220.7 342.5 L221.0 342.5 L221.3 342.5 L221.7 342.5 L222.0 342.5 L222.3 342.5 L222.7 342.5 L223.0 342.5 L223.3 342.5 L223.7 342.5 L224.0 342.5 L224.3 342.5 L224.7 342.5 L225.0 342.5 L225.3 342.5 L225.7 342.5 L226.0 342.5 L226.3 342.5 L226.7 342.5 L227.0 342.5 L227.3 342.5 L227.7 342.5 L228.0 342.5 L228.3 342.5 L228.7 342.5 L229.0 342.6 L229.3 342.6 L229.7 342.6 L230.0 342.6 L230.3 342.6 L230.7 342.6 L231.0 342.6 L231.3 342.6 L231.7 342.6 L232.0 342.6 L232.3 342.6 L232.7 342.6 L233.0 342.6 L233.3 342.6 L233.7 342.6 L234.0 342.6 L234.3 342.6 L234.7 342.6 L235.0 342.6 L235.3 342.6 L235.7 342.6 L236.0 342.6 L236.3 342.6 L236.7 342.6 L237.0 342.6 L237.3 342.6 L237.7 342.6 L238.0 342.6 L238.3 342.6 L238.7 342.6 L239.0 342.6 L239.3 342.6 L239.7 342.6 L240.0 342.6 L240.4 342.6 L240.7 342.4 L241.1 342.3 L241.5 342.1 L241.8 341.8 L242.2 341.6 L242.6 341.5 L242.9 341.3 L243.3 341.3 L243.6 341.4 L244.0 341.6 L244.3 341.9 L244.6 342.2 L245.0 342.4 L245.3 342.5 L245.6 342.4 L246.0 342.3 L246.3 342.1 L246.7 341.8 L247.0 341.4 L247.3 341.1 L247.7 340.8 L248.0 340.6 L248.4 340.5 L248.7 340.4 L249.1 340.4 L249.4 340.5 L249.8 340.6 L250.2 340.7 L250.5 340.8 L250.9 340.9 L251.3 341.0 L251.6 341.1 L252.0 341.1 L252.3 341.1 L252.7 341.1 L253.0 341.1 L253.3 341.1 L253.7 341.1 L254.0 341.1 L254.3 341.1 L254.7 341.1 L255.0 341.1 L255.3 341.1 L255.7 341.1 L256.0 341.1 L256.3 341.1 L256.7 341.1 L257.0 341.1 L257.3 341.1 L257.7 341.1 L258.0 341.1 L258.3 341.1 L258.7 341.1 L259.0 341.1 L259.3 341.1 L259.7 341.0 L260.0 341.0 L260.3 341.0 L260.7 341.0 L261.0 341.0 L261.3 341.0 L261.7 341.0 L262.0 341.0 L262.3 341.0 L262.7 341.0 L263.0 341.0 L263.3 341.0 L263.7 341.0 L264.0 341.0 L264.3 341.0 L264.7 341.0 L265.0 341.0 L265.3 341.0 L265.7 341.0 L266.0 341.0 L266.3 341.0 L266.7 341.0 L267.0 341.0 L267.3 341.0 L267.7 340.9 L268.0 340.8 L268.3 340.7 L268.7 340.5 L269.0 340.3 L269.3 340.1 L269.7 339.9 L270.0 339.7 L270.3 339.5 L270.7 339.3 L271.0 339.2 L271.3 339.1 L271.7 339.0 L272.0 339.0 L272.3 339.0 L272.7 339.2 L273.0 339.4 L273.4 339.6 L273.7 339.9 L274.0 340.1 L274.4 340.3 L274.7 340.3 L275.1 340.2 L275.4 340.1 L275.8 339.8 L276.2 339.5 L276.5 339.1 L276.9 338.8 L277.3 338.5 L277.6 338.4 L278.0 338.3 L278.3 338.3 L278.7 338.4 L279.0 338.4 L279.3 338.6 L279.7 338.7 L280.0 338.8 L280.3 338.9 L280.7 339.1 L281.0 339.2 L281.3 339.2 L281.7 339.3 L282.0 339.3 L282.3 339.3 L282.7 339.3 L283.0 339.3 L283.4 339.3 L283.7 339.3 L284.0 339.3 L284.4 339.3 L284.7 339.3 L285.1 339.3 L285.4 339.3 L285.7 339.3 L286.1 339.3 L286.4 339.3 L286.8 339.3 L287.1 339.3 L287.4 339.3 L287.8 339.3 L288.1 339.3 L288.5 339.3 L288.8 339.3 L289.1 339.3 L289.5 339.3 L289.8 339.3 L290.2 339.3 L290.5 339.3 L290.8 339.3 L291.2 339.3 L291.5 339.3 L291.9 339.3 L292.2 339.3 L292.5 339.3 L292.9 339.3 L293.2 339.3 L293.6 339.3 L293.9 339.3 L294.2 339.3 L294.6 339.3 L294.9 339.3 L295.3 339.3 L295.6 339.3 L295.9 339.3 L296.3 339.3 L296.6 339.3 L297.0 339.3 L297.3 339.3 L297.6 339.3 L298.0 339.1 L298.3 338.9 L298.6 338.7 L299.0 338.4 L299.3 338.2 L299.7 338.0 L300.0 338.0 L300.4 338.1 L300.8 338.5 L301.1 338.9 L301.5 339.0 L301.8 338.9 L302.2 338.6 L302.5 338.2 L302.8 337.9 L303.2 337.6 L303.5 337.5 L303.8 337.6 L304.2 337.8 L304.5 338.0 L304.8 338.2 L305.2 338.4 L305.5 338.5 L305.8 338.5 L306.2 338.4 L306.5 338.3 L306.9 338.1 L307.2 338.0 L307.6 337.8 L307.9 337.7 L308.3 337.5 L308.6 337.4 L309.0 337.3 L309.3 337.3 L309.6 337.3 L310.0 337.3 L310.3 337.3 L310.6 337.3 L311.0 337.3 L311.3 337.3 L311.6 337.3 L312.0 337.4 L312.3 337.4 L312.6 337.4 L313.0 337.4 L313.3 337.4 L313.6 337.4 L314.0 337.5 L314.3 337.5 L314.6 337.5 L315.0 337.5 L315.3 337.5 L315.7 337.6 L316.0 337.6 L316.3 337.6 L316.7 337.6 L317.0 337.6 L317.3 337.6 L317.7 337.7 L318.0 337.7 L318.3 337.7 L318.7 337.7 L319.0 337.7 L319.3 337.7 L319.7 337.7 L320.0 337.7 L320.3 337.7 L320.7 337.7 L321.0 337.7 L321.3 337.7 L321.7 337.7 L322.0 337.7 L322.3 337.8 L322.7 337.8 L323.0 337.8 L323.3 337.8 L323.7 337.8 L324.0 337.8 L324.3 337.9 L324.7 337.9 L325.0 337.9 L325.3 337.9 L325.7 337.9 L326.0 338.0 L326.3 338.0 L326.7 338.0 L327.0 338.0 L327.3 338.0 L327.7 338.0 L328.0 338.0 L328.3 337.9 L328.7 337.7 L329.0 337.3 L329.4 336.9 L329.7 336.4 L330.1 335.8 L330.4 335.3 L330.8 334.9 L331.1 334.5 L331.5 334.3 L331.8 334.2 L332.1 334.4 L332.5 335.0 L332.8 335.7 L333.2 336.3 L333.5 336.5 L333.8 336.2 L334.2 335.6 L334.5 334.7 L334.9 334.1 L335.2 333.8 L335.6 334.0 L335.9 334.6 L336.3 335.2 L336.6 335.8 L337.0 336.0 L337.3 335.9 L337.7 335.7 L338.0 335.4 L338.3 335.0 L338.7 334.8 L339.0 334.7 L339.3 334.7 L339.7 334.8 L340.0 335.0 L340.3 335.2 L340.7 335.3 L341.0 335.5 L341.3 335.7 L341.7 335.8 L342.0 335.8 L342.3 335.8 L342.7 335.8 L343.0 335.8 L343.3 335.8 L343.7 335.8 L344.0 335.8 L344.3 335.8 L344.7 335.8 L345.0 335.8 L345.3 335.8 L345.7 335.8 L346.0 335.8 L346.3 335.8 L346.7 335.8 L347.0 335.8 L347.3 335.8 L347.7 335.8 L348.0 335.8 L348.3 335.8 L348.7 335.8 L349.0 335.8 L349.3 335.8 L349.7 335.8 L350.0 335.8 L350.3 335.8 L350.7 335.8 L351.0 335.8 L351.3 335.8 L351.7 335.8 L352.0 335.8 L352.3 335.8 L352.7 335.8 L353.0 335.8 L353.3 335.8 L353.7 335.8 L354.0 335.8 L354.3 335.8 L354.7 335.8 L355.0 335.8 L355.3 335.8 L355.7 335.8 L356.0 335.8 L356.3 335.7 L356.7 335.5 L357.0 335.1 L357.3 334.6 L357.7 333.9 L358.0 333.3 L358.3 332.7 L358.7 332.1 L359.0 331.5 L359.3 331.1 L359.7 330.9 L360.0 330.8 L360.3 331.0 L360.7 331.6 L361.0 332.4 L361.3 333.2 L361.7 333.8 L362.0 334.0 L362.4 333.8 L362.7 333.3 L363.1 332.6 L363.4 331.9 L363.8 331.2 L364.1 330.7 L364.5 330.5 L364.8 330.7 L365.2 331.2 L365.5 332.0 L365.8 332.8 L366.2 333.3 L366.5 333.5 L366.9 333.5 L367.2 333.3 L367.6 333.2 L367.9 333.0 L368.3 332.9 L368.6 332.7 L369.0 332.7 L369.3 332.7 L369.7 332.8 L370.0 333.0 L370.3 333.2 L370.7 333.3 L371.0 333.5 L371.3 333.7 L371.7 333.8 L372.0 333.8 L372.3 333.8 L372.7 333.8 L373.0 333.8 L373.3 333.8 L373.7 333.8 L374.0 333.8 L374.3 333.8 L374.7 333.8 L375.0 333.7 L375.3 333.7 L375.7 333.7 L376.0 333.7 L376.3 333.7 L376.7 333.7 L377.0 333.7 L377.3 333.7 L377.7 333.6 L378.0 333.6 L378.3 333.6 L378.7 333.6 L379.0 333.6 L379.3 333.6 L379.7 333.6 L380.0 333.6 L380.3 333.6 L380.7 333.6 L381.0 333.6 L381.3 333.6 L381.7 333.5 L382.0 333.5 L382.3 333.5 L382.7 333.4 L383.0 333.4 L383.3 333.4 L383.7 333.3 L384.0 333.3 L384.3 333.3 L384.7 333.2 L385.0 333.2 L385.3 333.2 L385.7 333.2 L386.0 333.2 L386.3 333.0 L386.7 332.4 L387.0 331.5 L387.3 330.4 L387.7 329.3 L388.0 328.2 L388.3 327.3 L388.7 326.7 L389.0 326.5 L389.3 326.7 L389.7 327.3 L390.0 328.1 L390.3 328.9 L390.7 329.5 L391.0 329.7 L391.4 329.5 L391.7 329.0 L392.1 328.3 L392.4 327.4 L392.8 326.7 L393.1 326.2 L393.5 326.0 L393.9 326.2 L394.2 326.8 L394.6 327.6 L394.9 328.4 L395.3 329.2 L395.6 329.8 L396.0 330.0 L396.4 329.9 L396.7 329.7 L397.1 329.4 L397.4 329.1 L397.8 328.8 L398.1 328.6 L398.5 328.5 L398.9 328.6 L399.2 328.9 L399.6 329.3 L399.9 329.7 L400.3 330.1 L400.6 330.4 L401.0 330.5 L401.3 330.5 L401.7 330.5 L402.0 330.5 L402.3 330.5 L402.7 330.5 L403.0 330.5 L403.3 330.5 L403.7 330.5 L404.0 330.5 L404.3 330.5 L404.7 330.5 L405.0 330.5 L405.3 330.5 L405.7 330.5 L406.0 330.5 L406.3 330.5 L406.7 330.5 L407.0 330.6 L407.3 330.6 L407.7 330.6 L408.0 330.6 L408.3 330.6 L408.7 330.6 L409.0 330.6 L409.3 330.6 L409.7 330.6 L410.0 330.6 L410.3 330.6 L410.7 330.6 L411.0 330.6 L411.3 330.6 L411.7 330.6 L412.0 330.6 L412.3 330.6 L412.7 330.6 L413.0 330.6 L413.4 330.4 L413.7 330.0 L414.1 329.3 L414.4 328.4 L414.8 327.3 L415.1 326.2 L415.5 325.0 L415.9 323.9 L416.2 323.0 L416.6 322.3 L416.9 321.9 L417.3 321.7 L417.7 322.1 L418.0 323.0 L418.4 324.3 L418.8 325.7 L419.1 326.6 L419.5 327.0 L419.8 326.8 L420.2 326.2 L420.5 325.3 L420.8 324.2 L421.2 323.1 L421.5 322.0 L421.8 321.1 L422.2 320.5 L422.5 320.3 L422.9 320.5 L423.2 321.2 L423.6 322.1 L423.9 323.2 L424.3 324.1 L424.6 324.8 L425.0 325.0 L425.3 324.9 L425.7 324.4 L426.0 323.8 L426.4 323.2 L426.7 322.6 L427.1 322.1 L427.4 322.0 L427.8 322.2 L428.1 322.7 L428.5 323.4 L428.9 324.1 L429.3 324.8 L429.6 325.3 L430.0 325.5 L430.3 325.5 L430.7 325.5 L431.0 325.6 L431.3 325.6 L431.7 325.7 L432.0 325.8 L432.3 325.8 L432.7 325.9 L433.0 325.9 L433.3 326.0 L433.7 326.0 L434.0 326.0 L434.3 326.0 L434.7 326.0 L435.0 326.0 L435.3 326.0 L435.7 326.0 L436.0 326.0 L436.3 326.0 L436.7 326.0 L437.0 326.0 L437.3 326.0 L437.7 326.0 L438.0 326.0 L438.3 326.0 L438.7 326.0 L439.0 326.0 L439.3 326.0 L439.7 326.0 L440.0 326.0 L440.3 326.0 L440.7 326.0 L441.0 326.0 L441.3 326.0 L441.7 326.0 L442.0 326.0 L442.4 325.7 L442.7 324.9 L443.1 323.7 L443.4 322.2 L443.8 320.5 L444.2 318.8 L444.5 317.3 L444.9 316.1 L445.2 315.3 L445.6 315.0 L446.0 315.6 L446.4 317.1 L446.7 318.9 L447.1 320.4 L447.5 321.0 L447.8 320.9 L448.2 320.4 L448.5 319.7 L448.9 318.8 L449.2 317.8 L449.6 316.6 L449.9 315.4 L450.3 314.2 L450.6 313.2 L451.0 312.3 L451.3 311.6 L451.7 311.1 L452.0 311.0 L452.4 311.3 L452.7 312.3 L453.1 313.7 L453.4 315.3 L453.8 316.7 L454.1 317.7 L454.5 318.0 L454.9 317.5 L455.3 316.3 L455.6 314.7 L456.0 313.5 L456.4 313.0 L456.8 313.3 L457.1 314.0 L457.5 315.1 L457.9 316.4 L458.3 317.5 L458.6 318.2 L459.0 318.5 L459.3 318.5 L459.7 318.6 L460.0 318.6 L460.3 318.7 L460.7 318.8 L461.0 318.9 L461.3 318.9 L461.7 319.0 L462.0 319.0 L462.3 319.0 L462.7 319.0 L463.0 319.0 L463.3 319.0 L463.7 319.0 L464.0 319.0 L464.3 319.0 L464.7 319.1 L465.0 319.1 L465.3 319.1 L465.7 319.1 L466.0 319.1 L466.3 319.1 L466.7 319.1 L467.0 319.1 L467.3 319.1 L467.7 319.2 L468.0 319.2 L468.3 319.2 L468.7 319.2 L469.0 319.2 L469.3 319.2 L469.7 319.2 L470.0 319.2 L470.3 319.2 L470.7 319.1 L471.0 318.9 L471.3 318.7 L471.7 318.5 L472.0 318.3 L472.3 318.1 L472.7 318.0 L473.0 318.0 L473.3 317.6 L473.7 316.6 L474.0 315.0 L474.3 313.0 L474.7 311.0 L475.0 309.0 L475.3 307.4 L475.7 306.4 L476.0 306.0 L476.3 306.3 L476.7 307.0 L477.0 308.0 L477.3 309.0 L477.7 309.7 L478.0 310.0 L478.3 309.8 L478.7 309.2 L479.0 308.2 L479.3 307.1 L479.7 305.9 L480.0 304.8 L480.3 303.8 L480.7 303.2 L481.0 303.0 L481.4 303.3 L481.7 304.1 L482.1 305.3 L482.4 306.7 L482.8 307.9 L483.1 308.7 L483.5 309.0 L483.9 308.7 L484.2 307.8 L484.6 306.5 L484.9 305.2 L485.2 304.3 L485.6 304.0 L485.9 304.3 L486.3 305.1 L486.6 306.3 L487.0 307.7 L487.3 308.9 L487.7 309.7 L488.0 310.0 L488.3 309.9 L488.7 309.8 L489.0 309.5 L489.3 309.2 L489.7 309.1 L490.0 309.0 L490.3 309.1 L490.7 309.2 L491.0 309.5 L491.3 309.8 L491.7 310.2 L492.0 310.5 L492.3 310.8 L492.7 310.9 L493.0 311.0 L493.3 311.0 L493.7 311.0 L494.0 310.9 L494.4 310.9 L494.7 310.9 L495.1 310.8 L495.4 310.8 L495.8 310.7 L496.1 310.7 L496.5 310.7 L496.8 310.6 L497.2 310.6 L497.5 310.6 L497.9 310.5 L498.2 310.3 L498.6 309.9 L498.9 309.5 L499.3 309.1 L499.6 308.8 L500.0 308.8 L500.4 308.8 L500.8 309.0 L501.1 309.2 L501.5 309.3 L501.9 309.4 L502.2 309.1 L502.6 308.3 L502.9 307.0 L503.2 305.4 L503.6 303.5 L503.9 301.5 L504.3 299.6 L504.6 298.0 L504.9 296.7 L505.3 295.9 L505.6 295.6 L506.0 296.3 L506.4 298.1 L506.7 299.9 L507.1 300.6 L507.5 300.2 L507.8 299.0 L508.2 297.2 L508.5 294.9 L508.9 292.6 L509.2 290.3 L509.6 288.5 L509.9 287.3 L510.2 286.9 L510.6 287.5 L511.0 289.4 L511.3 292.0 L511.7 294.9 L512.0 297.5 L512.4 299.4 L512.8 300.0 L513.1 299.4 L513.5 297.9 L513.8 295.6 L514.2 293.1 L514.5 290.9 L514.9 289.3 L515.2 288.8 L515.6 289.4 L516.0 291.1 L516.4 293.4 L516.8 295.8 L517.1 297.5 L517.5 298.1 L517.9 297.8 L518.3 297.0 L518.6 296.1 L519.0 295.3 L519.4 295.0 L519.8 295.8 L520.2 297.3 L520.6 298.1 L521.0 297.5 L521.5 296.2 L521.9 295.6 L522.3 295.8 L522.6 296.3 L523.0 297.1 L523.3 297.9 L523.7 298.7 L524.0 299.2 L524.4 299.4 L524.8 299.3 L525.1 299.2 L525.5 298.9 L525.8 298.6 L526.2 298.3 L526.5 298.2 L526.9 298.1 L527.3 298.0 L527.6 297.7 L528.0 297.3 L528.4 297.0 L528.8 296.9 L529.1 296.8 L529.5 296.7 L529.9 296.5 L530.2 296.3 L530.6 296.2 L530.9 295.9 L531.3 295.1 L531.6 293.7 L531.9 291.9 L532.3 289.9 L532.6 287.8 L533.0 285.7 L533.3 284.0 L533.6 282.6 L534.0 281.7 L534.3 281.4 L534.6 281.7 L535.0 282.7 L535.3 283.9 L535.6 285.2 L536.0 286.2 L536.3 286.5 L536.7 286.1 L537.0 285.0 L537.4 283.3 L537.7 281.2 L538.1 278.8 L538.5 276.4 L538.8 274.3 L539.2 272.6 L539.5 271.5 L539.9 271.1 L540.3 271.7 L540.6 273.3 L541.0 275.7 L541.3 278.4 L541.7 280.8 L542.0 282.4 L542.4 283.0 L542.7 282.5 L543.1 281.0 L543.4 278.8 L543.8 276.5 L544.1 274.3 L544.5 272.8 L544.8 272.3 L545.1 272.6 L545.5 273.6 L545.8 275.1 L546.1 276.9 L546.5 278.9 L546.8 280.7 L547.1 282.2 L547.5 283.2 L547.8 283.5 L548.1 283.3 L548.5 282.8 L548.8 282.1 L549.1 281.2 L549.5 280.4 L549.8 279.7 L550.2 279.2 L550.5 279.0 L550.9 279.1 L551.2 279.5 L551.5 280.0 L551.9 280.7 L552.2 281.5 L552.6 282.3 L553.0 283.0 L553.3 283.5 L553.6 283.9 L554.0 284.0 L554.4 283.9 L554.7 283.6 L555.0 283.2 L555.4 282.7 L555.8 282.1 L556.1 281.5 L556.5 281.0 L556.8 280.6 L557.1 280.3 L557.5 280.2 L557.9 280.3 L558.2 280.6 L558.6 281.1 L558.9 281.6 L559.3 282.1 L559.6 282.4 L560.0 282.5 L560.3 282.1 L560.7 281.1 L561.0 279.4 L561.4 277.2 L561.7 274.8 L562.1 272.2 L562.4 269.8 L562.8 267.6 L563.1 265.9 L563.5 264.9 L563.8 264.5 L564.2 265.0 L564.5 266.2 L564.9 268.0 L565.3 269.8 L565.6 271.0 L566.0 271.5 L566.4 270.9 L566.7 269.3 L567.1 266.8 L567.4 263.6 L567.8 260.4 L568.1 257.2 L568.5 254.7 L568.8 253.1 L569.2 252.5 L569.6 253.2 L569.9 255.1 L570.3 257.9 L570.7 261.1 L571.1 263.9 L571.4 265.8 L571.8 266.5 L572.2 265.3 L572.5 262.2 L572.9 259.2 L573.3 258.0" stroke="#3EA44E"/>
<path d="M69.7 346.4 L70.0 346.4 L70.4 346.4 L70.7 346.4 L71.0 346.4 L71.4 346.4 L71.7 346.4 L72.0 346.4 L72.4 346.4 L72.7 346.4 L73.0 346.4 L73.4 346.4 L73.7 346.4 L74.0 346.4 L74.4 346.4 L74.7 346.4 L75.0 346.4 L75.4 346.4 L75.7 346.4 L76.0 346.4 L76.4 346.4 L76.7 346.4 L77.0 346.4 L77.4 346.4 L77.7 346.4 L78.1 346.4 L78.4 346.4 L78.7 346.4 L79.1 346.4 L79.4 346.4 L79.7 346.4 L80.1 346.4 L80.4 346.4 L80.7 346.4 L81.1 346.4 L81.4 346.4 L81.7 346.4 L82.1 346.4 L82.4 346.4 L82.7 346.4 L83.1 346.4 L83.4 346.4 L83.7 346.4 L84.1 346.4 L84.4 346.4 L84.7 346.4 L85.1 346.4 L85.4 346.4 L85.7 346.4 L86.1 346.4 L86.4 346.4 L86.7 346.4 L87.1 346.4 L87.4 346.4 L87.7 346.4 L88.1 346.4 L88.4 346.4 L88.7 346.4 L89.1 346.4 L89.4 346.4 L89.7 346.4 L90.1 346.4 L90.4 346.4 L90.7 346.4 L91.1 346.4 L91.4 346.4 L91.7 346.4 L92.1 346.4 L92.4 346.4 L92.7 346.4 L93.1 346.4 L93.4 346.4 L93.8 346.4 L94.1 346.4 L94.4 346.4 L94.8 346.4 L95.1 346.4 L95.4 346.4 L95.8 346.4 L96.1 346.4 L96.4 346.4 L96.8 346.4 L97.1 346.4 L97.4 346.4 L97.8 346.4 L98.1 346.4 L98.4 346.4 L98.8 346.4 L99.1 346.4 L99.4 346.4 L99.8 346.4 L100.1 346.4 L100.4 346.4 L100.8 346.4 L101.1 346.4 L101.4 346.4 L101.8 346.4 L102.1 346.4 L102.4 346.4 L102.8 346.4 L103.1 346.4 L103.4 346.4 L103.8 346.4 L104.1 346.4 L104.4 346.4 L104.8 346.4 L105.1 346.4 L105.4 346.4 L105.8 346.4 L106.1 346.4 L106.4 346.4 L106.8 346.4 L107.1 346.4 L107.4 346.4 L107.8 346.4 L108.1 346.4 L108.4 346.4 L108.8 346.4 L109.1 346.4 L109.5 346.4 L109.8 346.4 L110.1 346.4 L110.5 346.4 L110.8 346.4 L111.1 346.4 L111.5 346.4 L111.8 346.4 L112.1 346.4 L112.5 346.4 L112.8 346.4 L113.1 346.4 L113.5 346.4 L113.8 346.4 L114.1 346.4 L114.5 346.4 L114.8 346.4 L115.1 346.4 L115.5 346.4 L115.8 346.4 L116.1 346.4 L116.5 346.4 L116.8 346.4 L117.1 346.4 L117.5 346.4 L117.8 346.4 L118.1 346.4 L118.5 346.4 L118.8 346.4 L119.1 346.4 L119.5 346.4 L119.8 346.4 L120.1 346.4 L120.5 346.4 L120.8 346.4 L121.1 346.4 L121.5 346.4 L121.8 346.4 L122.1 346.4 L122.5 346.4 L122.8 346.4 L123.1 346.4 L123.5 346.4 L123.8 346.4 L124.1 346.4 L124.5 346.4 L124.8 346.4 L125.2 346.4 L125.5 346.4 L125.8 346.4 L126.2 346.4 L126.5 346.4 L126.8 346.4 L127.2 346.4 L127.5 346.4 L127.8 346.4 L128.2 346.4 L128.5 346.4 L128.8 346.4 L129.2 346.4 L129.5 346.4 L129.8 346.4 L130.2 346.4 L130.5 346.4 L130.8 346.4 L131.2 346.4 L131.5 346.4 L131.8 346.4 L132.2 346.4 L132.5 346.4 L132.8 346.4 L133.2 346.4 L133.5 346.4 L133.8 346.4 L134.2 346.4 L134.5 346.4 L134.8 346.4 L135.2 346.4 L135.5 346.4 L135.8 346.4 L136.2 346.4 L136.5 346.4 L136.8 346.4 L137.2 346.4 L137.5 346.4 L137.8 346.4 L138.2 346.4 L138.5 346.4 L138.8 346.4 L139.2 346.4 L139.5 346.4 L139.8 346.4 L140.2 346.4 L140.5 346.4 L140.9 346.4 L141.2 346.3 L141.5 346.3 L141.9 346.3 L142.2 346.3 L142.5 346.3 L142.9 346.3 L143.2 346.3 L143.5 346.3 L143.9 346.3 L144.2 346.3 L144.5 346.3 L144.9 346.3 L145.2 346.3 L145.5 346.3 L145.9 346.3 L146.2 346.3 L146.5 346.3 L146.9 346.3 L147.2 346.3 L147.5 346.3 L147.9 346.3 L148.2 346.3 L148.5 346.3 L148.9 346.3 L149.2 346.3 L149.5 346.3 L149.9 346.3 L150.2 346.3 L150.5 346.3 L150.9 346.3 L151.2 346.3 L151.5 346.3 L151.9 346.3 L152.2 346.3 L152.5 346.3 L152.9 346.3 L153.2 346.3 L153.5 346.3 L153.9 346.3 L154.2 346.3 L154.5 346.3 L154.9 346.3 L155.2 346.3 L155.5 346.3 L155.9 346.3 L156.2 346.3 L156.5 346.3 L156.9 346.3 L157.2 346.3 L157.6 346.3 L157.9 346.3 L158.2 346.3 L158.6 346.3 L158.9 346.3 L159.2 346.3 L159.6 346.3 L159.9 346.3 L160.2 346.3 L160.6 346.3 L160.9 346.3 L161.2 346.3 L161.6 346.3 L161.9 346.3 L162.2 346.3 L162.6 346.3 L162.9 346.3 L163.2 346.3 L163.6 346.3 L163.9 346.3 L164.2 346.3 L164.6 346.3 L164.9 346.3 L165.2 346.3 L165.6 346.3 L165.9 346.3 L166.2 346.3 L166.6 346.3 L166.9 346.3 L167.2 346.3 L167.6 346.3 L167.9 346.3 L168.2 346.3 L168.6 346.3 L168.9 346.3 L169.2 346.3 L169.6 346.3 L169.9 346.3 L170.2 346.3 L170.6 346.3 L170.9 346.3 L171.2 346.3 L171.6 346.3 L171.9 346.3 L172.2 346.3 L172.6 346.3 L172.9 346.3 L173.3 346.3 L173.6 346.3 L173.9 346.3 L174.3 346.3 L174.6 346.3 L174.9 346.3 L175.3 346.3 L175.6 346.3 L175.9 346.3 L176.3 346.3 L176.6 346.3 L176.9 346.3 L177.3 346.3 L177.6 346.3 L177.9 346.3 L178.3 346.3 L178.6 346.3 L178.9 346.3 L179.3 346.3 L179.6 346.3 L179.9 346.3 L180.3 346.3 L180.6 346.3 L180.9 346.3 L181.3 346.3 L181.6 346.3 L181.9 346.3 L182.3 346.3 L182.6 346.3 L182.9 346.3 L183.3 346.3 L183.6 346.3 L183.9 346.3 L184.3 346.3 L184.6 346.3 L184.9 346.3 L185.3 346.3 L185.6 346.3 L185.9 346.3 L186.3 346.3 L186.6 346.3 L186.9 346.3 L187.3 346.3 L187.6 346.3 L187.9 346.3 L188.3 346.3 L188.6 346.3 L189.0 346.3 L189.3 346.3 L189.6 346.3 L190.0 346.3 L190.3 346.3 L190.6 346.3 L191.0 346.3 L191.3 346.3 L191.6 346.3 L192.0 346.3 L192.3 346.3 L192.6 346.3 L193.0 346.3 L193.3 346.3 L193.6 346.3 L194.0 346.3 L194.3 346.3 L194.6 346.3 L195.0 346.3 L195.3 346.3 L195.6 346.3 L196.0 346.3 L196.3 346.3 L196.6 346.3 L197.0 346.3 L197.3 346.3 L197.6 346.3 L198.0 346.3 L198.3 346.3 L198.6 346.3 L199.0 346.3 L199.3 346.3 L199.6 346.3 L200.0 346.3 L200.3 346.3 L200.6 346.3 L201.0 346.3 L201.3 346.3 L201.6 346.3 L202.0 346.3 L202.3 346.3 L202.6 346.3 L203.0 346.3 L203.3 346.3 L203.6 346.3 L204.0 346.3 L204.3 346.3 L204.7 346.3 L205.0 346.3 L205.3 346.3 L205.7 346.3 L206.0 346.3 L206.3 346.3 L206.7 346.3 L207.0 346.3 L207.3 346.3 L207.7 346.3 L208.0 346.3 L208.3 346.3 L208.7 346.3 L209.0 346.3 L209.3 346.3 L209.7 346.3 L210.0 346.3 L210.3 346.3 L210.7 346.3 L211.0 346.3 L211.3 346.3 L211.7 346.3 L212.0 346.3 L212.3 346.3 L212.7 346.3 L213.0 346.2 L213.3 346.1 L213.7 346.0 L214.0 345.9 L214.3 345.8 L214.7 345.6 L215.0 345.5 L215.3 345.4 L215.7 345.2 L216.0 345.1 L216.3 345.0 L216.7 344.9 L217.0 344.8 L217.3 344.7 L217.7 344.7 L218.0 344.7 L218.3 344.7 L218.7 344.7 L219.0 344.7 L219.3 344.7 L219.7 344.7 L220.0 344.7 L220.3 344.7 L220.7 344.7 L221.0 344.7 L221.3 344.7 L221.7 344.7 L222.0 344.7 L222.3 344.7 L222.7 344.7 L223.0 344.7 L223.3 344.7 L223.7 344.7 L224.0 344.7 L224.3 344.7 L224.7 344.7 L225.0 344.7 L225.3 344.6 L225.7 344.6 L226.0 344.6 L226.3 344.6 L226.7 344.6 L227.0 344.6 L227.3 344.6 L227.7 344.6 L228.0 344.6 L228.3 344.6 L228.7 344.6 L229.0 344.6 L229.3 344.6 L229.7 344.6 L230.0 344.6 L230.3 344.6 L230.7 344.6 L231.0 344.6 L231.3 344.6 L231.7 344.6 L232.0 344.6 L232.3 344.6 L232.7 344.6 L233.0 344.5 L233.3 344.5 L233.7 344.5 L234.0 344.5 L234.3 344.5 L234.7 344.5 L235.0 344.5 L235.3 344.5 L235.7 344.5 L236.0 344.5 L236.3 344.5 L236.7 344.5 L237.0 344.5 L237.3 344.5 L237.7 344.5 L238.0 344.5 L238.3 344.5 L238.7 344.5 L239.0 344.5 L239.3 344.5 L239.7 344.5 L240.0 344.5 L240.3 344.5 L240.7 344.5 L241.0 344.4 L241.3 344.4 L241.7 344.3 L242.0 344.2 L242.3 344.1 L242.7 344.0 L243.0 343.9 L243.3 343.8 L243.7 343.7 L244.0 343.6 L244.3 343.5 L244.7 343.4 L245.0 343.4 L245.3 343.3 L245.7 343.3 L246.0 343.3 L246.3 343.3 L246.7 343.3 L247.0 343.2 L247.3 343.2 L247.7 343.1 L248.0 343.0 L248.3 342.9 L248.7 342.9 L249.0 342.8 L249.3 342.7 L249.7 342.7 L250.0 342.7 L250.3 342.7 L250.7 342.7 L251.0 342.7 L251.3 342.7 L251.7 342.7 L252.0 342.7 L252.3 342.7 L252.7 342.7 L253.0 342.7 L253.3 342.7 L253.7 342.7 L254.0 342.7 L254.3 342.7 L254.7 342.7 L255.0 342.7 L255.3 342.7 L255.7 342.6 L256.0 342.6 L256.3 342.6 L256.7 342.6 L257.0 342.6 L257.3 342.6 L257.7 342.6 L258.0 342.6 L258.3 342.6 L258.7 342.6 L259.0 342.6 L259.3 342.6 L259.7 342.6 L260.0 342.6 L260.3 342.6 L260.7 342.6 L261.0 342.6 L261.3 342.6 L261.7 342.5 L262.0 342.5 L262.3 342.5 L262.7 342.5 L263.0 342.5 L263.3 342.5 L263.7 342.5 L264.0 342.5 L264.3 342.5 L264.7 342.5 L265.0 342.5 L265.3 342.5 L265.7 342.5 L266.0 342.5 L266.3 342.5 L266.7 342.5 L267.0 342.5 L267.3 342.5 L267.7 342.4 L268.0 342.3 L268.4 342.1 L268.7 341.9 L269.0 341.6 L269.4 341.3 L269.7 341.1 L270.0 340.8 L270.4 340.5 L270.7 340.2 L271.0 340.0 L271.4 339.8 L271.7 339.7 L272.1 339.6 L272.4 339.6 L272.8 339.7 L273.1 340.0 L273.5 340.3 L273.9 340.8 L274.3 341.1 L274.6 341.4 L275.0 341.5 L275.3 341.4 L275.7 341.2 L276.0 340.9 L276.3 340.5 L276.7 340.1 L277.0 339.7 L277.3 339.4 L277.7 339.2 L278.0 339.1 L278.3 339.1 L278.7 339.2 L279.0 339.3 L279.3 339.5 L279.7 339.6 L280.0 339.8 L280.3 339.9 L280.7 340.0 L281.0 340.0 L281.3 340.0 L281.7 340.0 L282.0 340.0 L282.3 340.0 L282.7 340.0 L283.0 340.0 L283.3 340.0 L283.7 340.0 L284.0 340.0 L284.3 340.0 L284.7 340.0 L285.0 340.0 L285.3 340.0 L285.7 340.0 L286.0 340.0 L286.3 340.0 L286.7 340.0 L287.0 340.0 L287.3 340.0 L287.7 340.0 L288.0 340.0 L288.3 340.0 L288.7 340.0 L289.0 340.0 L289.3 340.0 L289.7 340.0 L290.0 340.0 L290.3 340.0 L290.7 340.0 L291.0 340.0 L291.3 340.0 L291.7 340.0 L292.0 340.0 L292.3 340.0 L292.7 340.0 L293.0 340.0 L293.3 340.0 L293.7 340.0 L294.0 340.0 L294.3 340.0 L294.7 340.0 L295.0 340.0 L295.3 340.0 L295.7 340.0 L296.0 340.0 L296.3 340.0 L296.7 340.0 L297.0 340.0 L297.4 339.9 L297.7 339.8 L298.1 339.5 L298.4 339.2 L298.8 338.8 L299.1 338.4 L299.5 337.9 L299.9 337.5 L300.2 337.2 L300.6 336.9 L300.9 336.8 L301.3 336.7 L301.6 336.9 L302.0 337.3 L302.3 337.9 L302.7 338.3 L303.0 338.5 L303.3 338.2 L303.7 337.5 L304.0 336.6 L304.4 335.9 L304.7 335.6 L305.1 335.8 L305.4 336.3 L305.8 336.8 L306.1 337.3 L306.5 337.5 L306.9 337.3 L307.2 336.7 L307.6 335.9 L307.9 335.3 L308.3 335.1 L308.6 335.2 L309.0 335.6 L309.3 336.0 L309.7 336.4 L310.0 336.5 L310.3 336.5 L310.7 336.4 L311.0 336.4 L311.3 336.4 L311.7 336.3 L312.0 336.3 L312.3 336.3 L312.7 336.3 L313.0 336.3 L313.3 336.3 L313.7 336.3 L314.0 336.3 L314.3 336.3 L314.7 336.3 L315.0 336.3 L315.3 336.3 L315.7 336.3 L316.0 336.3 L316.3 336.3 L316.7 336.3 L317.0 336.3 L317.3 336.3 L317.7 336.3 L318.0 336.3 L318.3 336.3 L318.7 336.3 L319.0 336.3 L319.3 336.3 L319.7 336.3 L320.0 336.3 L320.3 336.4 L320.7 336.6 L321.0 336.9 L321.3 337.2 L321.7 337.4 L322.0 337.5 L322.3 337.4 L322.7 337.1 L323.0 336.7 L323.3 336.2 L323.7 335.9 L324.0 335.8 L324.3 335.9 L324.7 336.2 L325.0 336.6 L325.3 337.1 L325.7 337.4 L326.0 337.5 L326.4 337.4 L326.7 337.2 L327.1 336.9 L327.4 336.6 L327.8 336.3 L328.1 336.1 L328.5 336.0 L328.9 335.4 L329.2 334.0 L329.6 332.6 L330.0 332.0 L330.4 332.4 L330.8 333.2 L331.1 334.1 L331.5 334.5 L331.9 334.1 L332.2 333.1 L332.6 331.9 L332.9 330.9 L333.3 330.5 L333.6 330.7 L334.0 331.4 L334.3 332.1 L334.7 332.8 L335.0 333.0 L335.3 332.6 L335.7 331.7 L336.0 330.6 L336.4 329.7 L336.7 329.3 L337.1 329.5 L337.4 330.1 L337.8 330.7 L338.1 331.3 L338.5 331.5 L338.9 331.3 L339.2 330.8 L339.6 330.2 L340.0 330.0 L340.3 330.1 L340.7 330.2 L341.0 330.5 L341.3 330.8 L341.7 330.9 L342.0 331.0 L342.3 331.0 L342.7 331.0 L343.0 331.0 L343.3 331.0 L343.7 331.0 L344.0 331.0 L344.3 331.0 L344.7 331.0 L345.0 331.0 L345.3 331.0 L345.7 331.0 L346.0 331.0 L346.3 331.0 L346.7 331.0 L347.0 331.0 L347.3 331.0 L347.7 331.0 L348.0 331.0 L348.3 331.0 L348.7 331.0 L349.0 331.0 L349.3 331.0 L349.7 331.0 L350.0 331.0 L350.3 331.0 L350.7 331.0 L351.0 331.0 L351.3 331.0 L351.7 331.0 L352.0 331.0 L352.3 331.0 L352.7 331.0 L353.0 331.0 L353.3 331.0 L353.7 331.0 L354.0 331.0 L354.3 331.0 L354.7 331.0 L355.0 331.0 L355.3 331.0 L355.7 331.0 L356.0 331.0 L356.4 330.8 L356.7 330.2 L357.1 329.4 L357.4 328.4 L357.8 327.3 L358.1 326.5 L358.4 325.9 L358.8 325.7 L359.1 326.0 L359.5 326.7 L359.8 327.5 L360.2 328.2 L360.5 328.5 L360.8 327.9 L361.2 326.3 L361.5 324.4 L361.9 322.8 L362.2 322.2 L362.6 322.6 L362.9 323.5 L363.3 324.7 L363.6 325.6 L364.0 326.0 L364.3 325.8 L364.7 325.1 L365.0 324.1 L365.4 323.1 L365.7 322.1 L366.1 321.4 L366.4 321.2 L366.8 321.6 L367.2 322.6 L367.6 323.6 L368.0 324.0 L368.4 323.9 L368.7 323.8 L369.1 323.5 L369.5 323.2 L369.8 323.1 L370.2 323.0 L370.6 323.2 L370.9 323.7 L371.3 324.3 L371.6 324.8 L372.0 325.0 L372.4 324.9 L372.7 324.8 L373.1 324.6 L373.5 324.4 L373.8 324.3 L374.2 324.2 L374.6 324.2 L374.9 324.4 L375.2 324.5 L375.6 324.8 L375.9 325.0 L376.3 325.1 L376.6 325.3 L377.0 325.3 L377.3 325.3 L377.7 325.2 L378.0 325.1 L378.3 325.0 L378.7 324.8 L379.0 324.7 L379.3 324.6 L379.7 324.5 L380.0 324.5 L380.3 324.5 L380.7 324.5 L381.0 324.5 L381.3 324.5 L381.7 324.5 L382.0 324.5 L382.3 324.5 L382.7 324.5 L383.0 324.5 L383.3 324.5 L383.7 324.5 L384.0 324.5 L384.3 324.5 L384.7 324.5 L385.0 324.5 L385.3 324.3 L385.7 323.7 L386.0 322.8 L386.3 321.7 L386.7 320.5 L387.0 319.4 L387.3 318.5 L387.7 317.9 L388.0 317.7 L388.4 318.5 L388.8 320.3 L389.1 322.1 L389.5 322.9 L389.8 322.4 L390.2 321.1 L390.5 319.3 L390.9 317.2 L391.2 315.4 L391.6 314.1 L391.9 313.6 L392.3 314.5 L392.7 316.6 L393.1 318.6 L393.5 319.5 L393.8 319.2 L394.2 318.2 L394.5 316.9 L394.9 315.3 L395.2 314.0 L395.6 313.0 L395.9 312.7 L396.3 313.4 L396.7 315.1 L397.1 316.8 L397.5 317.5 L397.9 317.3 L398.3 316.8 L398.6 316.1 L399.0 315.4 L399.4 314.9 L399.8 314.7 L400.1 314.9 L400.5 315.5 L400.8 316.2 L401.2 316.8 L401.5 317.0 L401.9 316.8 L402.2 316.2 L402.6 315.7 L403.0 315.5 L403.3 315.5 L403.7 315.7 L404.0 315.8 L404.3 316.0 L404.7 316.2 L405.0 316.2 L405.3 316.2 L405.7 316.2 L406.0 316.2 L406.3 316.2 L406.7 316.2 L407.0 316.1 L407.3 316.1 L407.7 316.1 L408.0 316.1 L408.3 316.1 L408.7 316.0 L409.0 316.0 L409.3 316.0 L409.7 315.9 L410.0 315.9 L410.3 315.9 L410.7 315.9 L411.0 315.9 L411.3 315.8 L411.7 315.8 L412.0 315.8 L412.3 315.8 L412.7 315.8 L413.0 315.8 L413.3 315.7 L413.7 315.3 L414.0 314.8 L414.3 314.1 L414.7 313.2 L415.0 312.4 L415.3 311.5 L415.7 310.6 L416.0 309.9 L416.3 309.4 L416.7 309.0 L417.0 308.9 L417.4 309.8 L417.8 311.9 L418.1 314.1 L418.5 315.0 L418.9 314.6 L419.2 313.5 L419.6 311.9 L419.9 310.0 L420.2 308.1 L420.6 306.5 L420.9 305.4 L421.3 305.0 L421.6 305.6 L422.0 307.2 L422.3 309.3 L422.7 310.9 L423.0 311.5 L423.4 311.1 L423.7 310.0 L424.1 308.4 L424.4 306.7 L424.8 305.1 L425.1 304.0 L425.5 303.6 L425.8 304.0 L426.2 304.9 L426.5 306.3 L426.8 307.6 L427.2 308.6 L427.5 309.0 L427.9 308.8 L428.2 308.4 L428.6 307.8 L428.9 307.1 L429.3 306.5 L429.6 306.1 L430.0 305.9 L430.3 306.1 L430.7 306.5 L431.0 307.2 L431.3 307.8 L431.7 308.3 L432.0 308.5 L432.3 308.4 L432.7 308.0 L433.0 307.5 L433.3 307.0 L433.7 306.6 L434.0 306.5 L434.3 306.6 L434.7 306.8 L435.0 307.0 L435.3 307.2 L435.7 307.4 L436.0 307.5 L436.3 307.5 L436.7 307.5 L437.0 307.5 L437.3 307.5 L437.7 307.4 L438.0 307.4 L438.3 307.4 L438.7 307.3 L439.0 307.3 L439.4 307.2 L439.7 307.2 L440.0 307.2 L440.4 307.1 L440.7 307.1 L441.0 307.1 L441.4 307.0 L441.7 307.0 L442.0 307.0 L442.4 307.0 L442.7 307.0 L443.1 306.7 L443.4 306.0 L443.8 304.8 L444.1 303.5 L444.5 302.2 L444.9 301.0 L445.2 300.3 L445.6 300.0 L446.0 301.2 L446.3 304.0 L446.6 306.8 L447.0 308.0 L447.4 307.5 L447.7 306.0 L448.1 304.0 L448.5 301.6 L448.9 299.6 L449.2 298.1 L449.6 297.6 L450.0 298.4 L450.4 300.5 L450.7 303.1 L451.1 305.2 L451.5 306.0 L451.9 305.4 L452.2 303.8 L452.6 301.5 L452.9 299.2 L453.2 297.6 L453.6 297.0 L454.0 297.7 L454.4 299.4 L454.7 301.6 L455.1 303.3 L455.5 304.0 L455.9 303.1 L456.2 301.0 L456.6 298.9 L457.0 298.0 L457.3 298.3 L457.7 299.0 L458.0 300.0 L458.3 301.0 L458.7 301.7 L459.0 302.0 L459.3 301.8 L459.7 301.2 L460.0 300.5 L460.3 299.8 L460.7 299.2 L461.0 299.0 L461.3 299.1 L461.7 299.5 L462.0 300.0 L462.3 300.5 L462.7 300.9 L463.0 301.0 L463.3 300.9 L463.7 300.6 L464.0 300.2 L464.3 299.9 L464.7 299.6 L465.0 299.5 L465.3 299.5 L465.7 299.5 L466.0 299.4 L466.3 299.4 L466.7 299.3 L467.0 299.2 L467.3 299.1 L467.7 299.0 L468.0 298.9 L468.3 298.8 L468.7 298.7 L469.0 298.6 L469.3 298.5 L469.7 298.4 L470.0 298.3 L470.3 298.2 L470.7 298.1 L471.0 298.1 L471.3 298.0 L471.7 298.0 L472.0 298.0 L472.4 298.2 L472.7 298.9 L473.1 299.9 L473.4 301.1 L473.8 302.1 L474.1 302.8 L474.5 303.0 L474.9 302.6 L475.2 301.5 L475.6 299.9 L475.9 298.1 L476.3 296.5 L476.6 295.4 L477.0 295.0 L477.4 296.5 L477.8 300.2 L478.1 304.0 L478.5 305.5 L478.9 303.8 L479.2 299.8 L479.6 295.7 L480.0 294.0 L480.3 294.7 L480.7 296.5 L481.0 299.0 L481.3 301.5 L481.7 303.3 L482.0 304.0 L482.3 303.3 L482.7 301.4 L483.0 298.8 L483.3 296.2 L483.7 294.3 L484.0 293.6 L484.4 294.8 L484.8 297.8 L485.1 300.8 L485.5 302.0 L485.9 301.5 L486.2 300.0 L486.6 298.0 L486.9 296.0 L487.2 294.5 L487.6 294.0 L488.0 294.5 L488.4 295.7 L488.7 297.3 L489.1 298.5 L489.5 299.0 L489.8 298.7 L490.2 298.0 L490.5 297.0 L490.8 296.0 L491.2 295.3 L491.5 295.0 L491.9 295.4 L492.2 296.2 L492.6 297.1 L493.0 297.5 L493.3 297.3 L493.7 296.8 L494.0 296.0 L494.3 295.2 L494.7 294.7 L495.0 294.5 L495.4 294.3 L495.8 293.9 L496.2 293.8 L496.7 294.2 L497.1 295.1 L497.5 295.6 L497.9 295.1 L498.3 294.2 L498.8 293.8 L499.2 294.1 L499.6 294.7 L500.0 295.0 L500.3 294.5 L500.7 293.6 L501.0 293.1 L501.4 293.6 L501.7 295.1 L502.1 297.2 L502.4 299.2 L502.8 300.7 L503.1 301.2 L503.5 300.7 L503.9 299.3 L504.2 297.6 L504.6 296.1 L505.0 295.6 L505.4 296.4 L505.7 298.4 L506.1 301.2 L506.4 304.1 L506.8 306.1 L507.1 306.9 L507.5 305.8 L507.9 303.0 L508.2 299.5 L508.6 296.7 L509.0 295.6 L509.4 296.4 L509.8 298.6 L510.1 301.6 L510.5 304.5 L510.9 306.7 L511.2 307.5 L511.6 306.7 L512.0 304.5 L512.3 301.6 L512.7 298.6 L513.0 296.4 L513.4 295.6 L513.7 296.2 L514.1 297.9 L514.4 300.3 L514.7 302.6 L515.1 304.4 L515.4 305.0 L515.8 304.0 L516.1 301.5 L516.5 298.5 L516.9 296.0 L517.2 295.0 L517.6 295.3 L518.0 296.2 L518.3 297.5 L518.7 298.8 L519.0 299.7 L519.4 300.0 L519.8 299.8 L520.1 299.1 L520.5 298.1 L520.8 296.9 L521.2 295.9 L521.5 295.2 L521.9 295.0 L522.3 295.3 L522.7 295.9 L523.1 296.6 L523.5 296.9 L523.9 296.7 L524.2 296.1 L524.5 295.3 L524.9 294.5 L525.2 294.0 L525.6 293.8 L526.0 294.0 L526.4 294.5 L526.7 295.2 L527.1 295.8 L527.5 296.0 L527.9 295.4 L528.3 294.3 L528.8 293.8 L529.2 294.4 L529.6 295.8 L530.0 296.5 L530.3 296.0 L530.7 294.9 L531.0 294.4 L531.4 295.8 L531.8 299.2 L532.1 302.6 L532.5 304.0 L532.9 303.5 L533.2 302.2 L533.6 301.0 L534.0 300.5 L534.4 301.0 L534.7 302.4 L535.1 304.4 L535.4 306.6 L535.8 308.6 L536.1 310.0 L536.5 310.5 L536.8 310.0 L537.2 308.5 L537.5 306.5 L537.8 304.5 L538.2 303.0 L538.5 302.5 L538.8 303.1 L539.2 304.9 L539.5 307.2 L539.8 309.6 L540.2 311.4 L540.5 312.0 L540.8 311.4 L541.2 309.8 L541.5 307.5 L541.8 305.2 L542.2 303.6 L542.5 303.0 L542.9 303.5 L543.2 304.9 L543.6 306.8 L544.0 308.6 L544.3 310.0 L544.7 310.5 L545.1 310.2 L545.4 309.2 L545.8 307.7 L546.1 306.0 L546.5 304.3 L546.8 302.8 L547.1 301.8 L547.5 301.5 L547.9 302.0 L548.2 303.2 L548.6 304.5 L549.0 305.0 L549.4 304.7 L549.7 304.0 L550.1 303.0 L550.5 302.0 L550.8 301.3 L551.2 301.0 L551.6 301.1 L551.9 301.5 L552.3 302.0 L552.6 302.4 L553.0 302.5 L553.3 302.3 L553.7 301.8 L554.0 301.0 L554.3 300.2 L554.7 299.7 L555.0 299.5 L555.4 299.6 L555.7 300.0 L556.1 300.5 L556.5 301.0 L556.8 301.4 L557.2 301.5 L557.6 301.4 L557.9 301.1 L558.2 300.7 L558.6 300.2 L558.9 299.9 L559.3 299.8 L559.7 300.4 L560.0 301.9 L560.4 304.2 L560.7 306.8 L561.1 309.1 L561.4 310.6 L561.8 311.2 L562.1 311.0 L562.5 310.5 L562.8 309.9 L563.2 309.4 L563.5 309.2 L563.9 309.8 L564.3 311.3 L564.6 313.5 L565.0 315.6 L565.4 317.2 L565.8 317.8 L566.1 317.4 L566.5 316.3 L566.8 314.8 L567.1 313.3 L567.5 312.2 L567.8 311.8 L568.2 312.3 L568.5 313.9 L568.9 315.9 L569.3 317.9 L569.6 319.5 L570.0 320.0 L570.3 319.6 L570.7 318.4 L571.0 316.8 L571.3 315.1 L571.7 313.9 L572.0 313.5 L572.4 314.0 L572.8 315.3 L573.1 316.7 L573.5 317.2" stroke="#C371D2"/>
<path d="M69.7 346.4 L70.0 346.4 L70.4 346.4 L70.7 346.4 L71.0 346.4 L71.4 346.4 L71.7 346.4 L72.0 346.4 L72.4 346.4 L72.7 346.4 L73.0 346.4 L73.4 346.4 L73.7 346.4 L74.0 346.4 L74.4 346.4 L74.7 346.4 L75.0 346.4 L75.4 346.4 L75.7 346.4 L76.0 346.4 L76.4 346.4 L76.7 346.4 L77.0 346.4 L77.4 346.4 L77.7 346.4 L78.1 346.4 L78.4 346.4 L78.7 346.4 L79.1 346.4 L79.4 346.4 L79.7 346.4 L80.1 346.4 L80.4 346.4 L80.7 346.4 L81.1 346.4 L81.4 346.4 L81.7 346.4 L82.1 346.4 L82.4 346.4 L82.7 346.4 L83.1 346.4 L83.4 346.4 L83.7 346.4 L84.1 346.4 L84.4 346.4 L84.7 346.4 L85.1 346.4 L85.4 346.4 L85.7 346.4 L86.1 346.4 L86.4 346.4 L86.7 346.4 L87.1 346.4 L87.4 346.4 L87.7 346.4 L88.1 346.4 L88.4 346.4 L88.7 346.4 L89.1 346.4 L89.4 346.4 L89.7 346.4 L90.1 346.4 L90.4 346.4 L90.7 346.4 L91.1 346.4 L91.4 346.4 L91.7 346.4 L92.1 346.4 L92.4 346.4 L92.7 346.4 L93.1 346.4 L93.4 346.4 L93.8 346.4 L94.1 346.4 L94.4 346.4 L94.8 346.4 L95.1 346.4 L95.4 346.4 L95.8 346.4 L96.1 346.4 L96.4 346.4 L96.8 346.4 L97.1 346.4 L97.4 346.4 L97.8 346.4 L98.1 346.4 L98.4 346.4 L98.8 346.4 L99.1 346.4 L99.4 346.4 L99.8 346.4 L100.1 346.4 L100.4 346.4 L100.8 346.4 L101.1 346.4 L101.4 346.4 L101.8 346.4 L102.1 346.4 L102.4 346.4 L102.8 346.4 L103.1 346.4 L103.4 346.4 L103.8 346.4 L104.1 346.4 L104.4 346.4 L104.8 346.4 L105.1 346.4 L105.4 346.4 L105.8 346.4 L106.1 346.4 L106.4 346.4 L106.8 346.4 L107.1 346.4 L107.4 346.4 L107.8 346.4 L108.1 346.4 L108.4 346.4 L108.8 346.4 L109.1 346.4 L109.5 346.4 L109.8 346.4 L110.1 346.4 L110.5 346.4 L110.8 346.4 L111.1 346.4 L111.5 346.4 L111.8 346.4 L112.1 346.4 L112.5 346.4 L112.8 346.4 L113.1 346.4 L113.5 346.4 L113.8 346.4 L114.1 346.4 L114.5 346.4 L114.8 346.4 L115.1 346.4 L115.5 346.4 L115.8 346.4 L116.1 346.4 L116.5 346.4 L116.8 346.4 L117.1 346.4 L117.5 346.4 L117.8 346.4 L118.1 346.4 L118.5 346.4 L118.8 346.4 L119.1 346.4 L119.5 346.4 L119.8 346.4 L120.1 346.4 L120.5 346.4 L120.8 346.4 L121.1 346.4 L121.5 346.4 L121.8 346.4 L122.1 346.4 L122.5 346.4 L122.8 346.4 L123.1 346.4 L123.5 346.4 L123.8 346.4 L124.1 346.4 L124.5 346.4 L124.8 346.4 L125.2 346.4 L125.5 346.4 L125.8 346.4 L126.2 346.4 L126.5 346.4 L126.8 346.4 L127.2 346.4 L127.5 346.4 L127.8 346.4 L128.2 346.4 L128.5 346.4 L128.8 346.4 L129.2 346.4 L129.5 346.4 L129.8 346.4 L130.2 346.4 L130.5 346.4 L130.8 346.4 L131.2 346.4 L131.5 346.4 L131.8 346.4 L132.2 346.4 L132.5 346.4 L132.8 346.4 L133.2 346.4 L133.5 346.4 L133.8 346.4 L134.2 346.4 L134.5 346.4 L134.8 346.4 L135.2 346.4 L135.5 346.4 L135.8 346.4 L136.2 346.4 L136.5 346.4 L136.8 346.4 L137.2 346.4 L137.5 346.4 L137.8 346.4 L138.2 346.4 L138.5 346.4 L138.8 346.4 L139.2 346.4 L139.5 346.4 L139.8 346.4 L140.2 346.4 L140.5 346.4 L140.9 346.4 L141.2 346.3 L141.5 346.3 L141.9 346.3 L142.2 346.3 L142.5 346.3 L142.9 346.3 L143.2 346.3 L143.5 346.3 L143.9 346.3 L144.2 346.3 L144.5 346.3 L144.9 346.3 L145.2 346.3 L145.5 346.3 L145.9 346.3 L146.2 346.3 L146.5 346.3 L146.9 346.3 L147.2 346.3 L147.5 346.3 L147.9 346.3 L148.2 346.3 L148.5 346.3 L148.9 346.3 L149.2 346.3 L149.5 346.3 L149.9 346.3 L150.2 346.3 L150.5 346.3 L150.9 346.3 L151.2 346.3 L151.5 346.3 L151.9 346.3 L152.2 346.3 L152.5 346.3 L152.9 346.3 L153.2 346.3 L153.5 346.3 L153.9 346.3 L154.2 346.3 L154.5 346.3 L154.9 346.3 L155.2 346.3 L155.5 346.3 L155.9 346.3 L156.2 346.3 L156.5 346.3 L156.9 346.3 L157.2 346.3 L157.6 346.3 L157.9 346.3 L158.2 346.3 L158.6 346.3 L158.9 346.3 L159.2 346.3 L159.6 346.3 L159.9 346.3 L160.2 346.3 L160.6 346.3 L160.9 346.3 L161.2 346.3 L161.6 346.3 L161.9 346.3 L162.2 346.3 L162.6 346.3 L162.9 346.3 L163.2 346.3 L163.6 346.3 L163.9 346.3 L164.2 346.3 L164.6 346.3 L164.9 346.3 L165.2 346.3 L165.6 346.3 L165.9 346.3 L166.2 346.3 L166.6 346.3 L166.9 346.3 L167.2 346.3 L167.6 346.3 L167.9 346.3 L168.2 346.3 L168.6 346.3 L168.9 346.3 L169.2 346.3 L169.6 346.3 L169.9 346.3 L170.2 346.3 L170.6 346.3 L170.9 346.3 L171.2 346.3 L171.6 346.3 L171.9 346.3 L172.2 346.3 L172.6 346.3 L172.9 346.3 L173.3 346.3 L173.6 346.3 L173.9 346.3 L174.3 346.3 L174.6 346.3 L174.9 346.3 L175.3 346.3 L175.6 346.3 L175.9 346.3 L176.3 346.3 L176.6 346.3 L176.9 346.3 L177.3 346.3 L177.6 346.3 L177.9 346.3 L178.3 346.3 L178.6 346.3 L178.9 346.3 L179.3 346.3 L179.6 346.3 L179.9 346.3 L180.3 346.3 L180.6 346.3 L180.9 346.3 L181.3 346.3 L181.6 346.3 L181.9 346.3 L182.3 346.3 L182.6 346.3 L182.9 346.3 L183.3 346.3 L183.6 346.3 L183.9 346.3 L184.3 346.3 L184.6 346.3 L184.9 346.3 L185.3 346.3 L185.6 346.3 L185.9 346.3 L186.3 346.3 L186.6 346.3 L186.9 346.3 L187.3 346.3 L187.6 346.3 L187.9 346.3 L188.3 346.3 L188.6 346.3 L189.0 346.3 L189.3 346.3 L189.6 346.3 L190.0 346.3 L190.3 346.3 L190.6 346.3 L191.0 346.3 L191.3 346.3 L191.6 346.3 L192.0 346.3 L192.3 346.3 L192.6 346.3 L193.0 346.3 L193.3 346.3 L193.6 346.3 L194.0 346.3 L194.3 346.3 L194.6 346.3 L195.0 346.3 L195.3 346.3 L195.6 346.3 L196.0 346.3 L196.3 346.3 L196.6 346.3 L197.0 346.3 L197.3 346.3 L197.6 346.3 L198.0 346.3 L198.3 346.3 L198.6 346.3 L199.0 346.3 L199.3 346.3 L199.6 346.3 L200.0 346.3 L200.3 346.3 L200.6 346.3 L201.0 346.3 L201.3 346.3 L201.6 346.3 L202.0 346.3 L202.3 346.3 L202.6 346.3 L203.0 346.3 L203.3 346.3 L203.6 346.3 L204.0 346.3 L204.3 346.3 L204.7 346.3 L205.0 346.3 L205.3 346.3 L205.7 346.3 L206.0 346.3 L206.3 346.3 L206.7 346.3 L207.0 346.3 L207.3 346.3 L207.7 346.3 L208.0 346.3 L208.3 346.3 L208.7 346.3 L209.0 346.3 L209.3 346.3 L209.7 346.3 L210.0 346.3 L210.3 346.3 L210.7 346.3 L211.0 346.3 L211.3 346.3 L211.7 346.3 L212.0 346.3 L212.3 346.3 L212.7 346.3 L213.0 346.2 L213.3 346.2 L213.7 346.1 L214.0 346.1 L214.3 346.0 L214.7 345.9 L215.0 345.8 L215.3 345.7 L215.7 345.6 L216.0 345.6 L216.3 345.5 L216.7 345.4 L217.0 345.4 L217.3 345.3 L217.7 345.3 L218.0 345.3 L218.3 345.3 L218.7 345.3 L219.0 345.3 L219.3 345.3 L219.7 345.3 L220.0 345.3 L220.3 345.3 L220.7 345.3 L221.0 345.3 L221.3 345.3 L221.7 345.3 L222.0 345.3 L222.3 345.3 L222.7 345.3 L223.0 345.3 L223.3 345.3 L223.7 345.3 L224.0 345.3 L224.3 345.2 L224.7 345.2 L225.0 345.2 L225.3 345.2 L225.7 345.2 L226.0 345.2 L226.3 345.2 L226.7 345.2 L227.0 345.2 L227.3 345.2 L227.7 345.2 L228.0 345.2 L228.3 345.2 L228.7 345.2 L229.0 345.1 L229.3 345.1 L229.7 345.1 L230.0 345.1 L230.3 345.1 L230.7 345.1 L231.0 345.1 L231.3 345.1 L231.7 345.1 L232.0 345.1 L232.3 345.0 L232.7 345.0 L233.0 345.0 L233.3 345.0 L233.7 345.0 L234.0 345.0 L234.3 345.0 L234.7 345.0 L235.0 345.0 L235.3 344.9 L235.7 344.9 L236.0 344.9 L236.3 344.9 L236.7 344.9 L237.0 344.9 L237.3 344.9 L237.7 344.8 L238.0 344.8 L238.3 344.8 L238.7 344.8 L239.0 344.8 L239.3 344.8 L239.7 344.8 L240.0 344.8 L240.3 344.7 L240.7 344.7 L241.0 344.7 L241.3 344.7 L241.7 344.7 L242.0 344.7 L242.3 344.7 L242.7 344.6 L243.0 344.6 L243.3 344.6 L243.7 344.6 L244.0 344.6 L244.3 344.6 L244.7 344.6 L245.0 344.5 L245.3 344.5 L245.7 344.5 L246.0 344.5 L246.3 344.5 L246.7 344.5 L247.0 344.5 L247.3 344.5 L247.7 344.4 L248.0 344.4 L248.3 344.4 L248.7 344.4 L249.0 344.4 L249.3 344.4 L249.7 344.4 L250.0 344.3 L250.3 344.3 L250.7 344.3 L251.0 344.3 L251.3 344.3 L251.7 344.3 L252.0 344.3 L252.3 344.3 L252.7 344.3 L253.0 344.2 L253.3 344.2 L253.7 344.2 L254.0 344.2 L254.3 344.2 L254.7 344.2 L255.0 344.2 L255.3 344.2 L255.7 344.2 L256.0 344.2 L256.3 344.1 L256.7 344.1 L257.0 344.1 L257.3 344.1 L257.7 344.1 L258.0 344.1 L258.3 344.1 L258.7 344.1 L259.0 344.1 L259.3 344.1 L259.7 344.1 L260.0 344.1 L260.3 344.1 L260.7 344.1 L261.0 344.0 L261.3 344.0 L261.7 344.0 L262.0 344.0 L262.3 344.0 L262.7 344.0 L263.0 344.0 L263.3 344.0 L263.7 344.0 L264.0 344.0 L264.3 344.0 L264.7 344.0 L265.0 344.0 L265.3 344.0 L265.7 344.0 L266.0 344.0 L266.3 344.0 L266.7 344.0 L267.0 344.0 L267.3 344.0 L267.7 344.0 L268.0 344.1 L268.3 344.1 L268.7 344.2 L269.0 344.2 L269.3 344.3 L269.7 344.3 L270.0 344.3 L270.3 344.2 L270.7 344.0 L271.0 343.7 L271.3 343.3 L271.7 343.1 L272.0 343.0 L272.3 343.1 L272.7 343.2 L273.0 343.5 L273.3 343.8 L273.7 343.9 L274.0 344.0 L274.3 343.9 L274.7 343.6 L275.0 343.2 L275.3 342.7 L275.7 342.4 L276.0 342.3 L276.3 342.3 L276.7 342.2 L277.0 342.2 L277.3 342.1 L277.7 342.0 L278.0 342.0 L278.3 342.0 L278.7 342.0 L279.0 342.0 L279.3 342.0 L279.7 342.0 L280.0 342.0 L280.3 342.0 L280.7 342.0 L281.0 342.0 L281.3 342.0 L281.7 342.0 L282.0 342.0 L282.3 342.0 L282.7 342.0 L283.0 342.0 L283.3 342.0 L283.7 342.0 L284.0 342.0 L284.3 342.0 L284.7 342.0 L285.0 342.0 L285.3 342.0 L285.7 342.0 L286.0 342.0 L286.3 342.0 L286.7 342.0 L287.0 342.0 L287.3 342.0 L287.7 342.0 L288.0 342.0 L288.3 342.0 L288.7 342.0 L289.0 342.0 L289.3 342.0 L289.7 342.0 L290.0 342.0 L290.3 342.0 L290.7 342.0 L291.0 342.0 L291.3 342.0 L291.7 342.0 L292.0 342.0 L292.3 342.0 L292.7 342.0 L293.0 342.0 L293.3 342.0 L293.7 342.0 L294.0 342.0 L294.3 342.0 L294.7 342.0 L295.0 342.0 L295.3 342.0 L295.7 342.0 L296.0 342.0 L296.3 342.0 L296.7 342.0 L297.0 342.0 L297.3 342.1 L297.7 342.2 L298.0 342.4 L298.3 342.6 L298.7 342.7 L299.0 342.8 L299.3 342.6 L299.7 342.2 L300.0 341.7 L300.3 341.1 L300.7 340.7 L301.0 340.5 L301.3 340.6 L301.7 340.9 L302.0 341.2 L302.3 341.6 L302.7 341.9 L303.0 342.0 L303.3 341.9 L303.7 341.4 L304.0 340.9 L304.3 340.4 L304.7 339.9 L305.0 339.8 L305.3 339.9 L305.7 340.1 L306.0 340.4 L306.3 340.7 L306.7 340.9 L307.0 341.0 L307.3 340.9 L307.7 340.6 L308.0 340.2 L308.3 339.7 L308.7 339.4 L309.0 339.3 L309.3 339.3 L309.7 339.3 L310.0 339.3 L310.3 339.3 L310.7 339.3 L311.0 339.3 L311.3 339.2 L311.7 339.2 L312.0 339.2 L312.3 339.2 L312.7 339.2 L313.0 339.1 L313.3 339.1 L313.7 339.1 L314.0 339.0 L314.3 339.0 L314.7 339.0 L315.0 339.0 L315.3 338.9 L315.7 338.9 L316.0 338.9 L316.3 338.9 L316.7 338.8 L317.0 338.8 L317.3 338.8 L317.7 338.8 L318.0 338.7 L318.3 338.7 L318.7 338.7 L319.0 338.7 L319.3 338.7 L319.7 338.7 L320.0 338.7 L320.3 338.8 L320.7 339.0 L321.0 339.3 L321.3 339.7 L321.7 339.9 L322.0 340.0 L322.3 339.9 L322.7 339.8 L323.0 339.5 L323.3 339.2 L323.7 339.1 L324.0 339.0 L324.3 339.1 L324.7 339.2 L325.0 339.5 L325.3 339.8 L325.7 339.9 L326.0 340.0 L326.3 340.0 L326.7 339.8 L327.0 339.7 L327.3 339.5 L327.7 339.3 L328.0 339.3 L328.4 339.7 L328.8 340.6 L329.2 341.0 L329.6 340.8 L329.9 340.3 L330.3 339.7 L330.6 339.2 L331.0 339.0 L331.4 339.3 L331.8 339.9 L332.1 340.5 L332.5 340.8 L332.9 340.5 L333.2 339.7 L333.6 338.9 L334.0 338.6 L334.4 338.8 L334.8 339.3 L335.1 339.8 L335.5 340.0 L335.9 339.7 L336.2 339.0 L336.6 338.3 L337.0 338.0 L337.3 338.0 L337.7 337.9 L338.0 337.8 L338.3 337.7 L338.7 337.5 L339.0 337.4 L339.3 337.3 L339.7 337.2 L340.0 337.2 L340.3 337.2 L340.7 337.2 L341.0 337.2 L341.3 337.2 L341.7 337.2 L342.0 337.2 L342.3 337.2 L342.7 337.2 L343.0 337.2 L343.3 337.2 L343.7 337.2 L344.0 337.1 L344.3 337.1 L344.7 337.1 L345.0 337.1 L345.3 337.1 L345.7 337.1 L346.0 337.1 L346.3 337.1 L346.7 337.1 L347.0 337.0 L347.3 337.0 L347.7 337.0 L348.0 337.0 L348.3 337.0 L348.7 337.0 L349.0 337.0 L349.3 336.9 L349.7 336.9 L350.0 336.9 L350.3 336.9 L350.7 336.9 L351.0 336.9 L351.3 336.9 L351.7 336.9 L352.0 336.9 L352.3 336.8 L352.7 336.8 L353.0 336.8 L353.3 336.8 L353.7 336.8 L354.0 336.8 L354.3 336.8 L354.7 336.8 L355.0 336.8 L355.3 336.8 L355.7 336.8 L356.0 336.8 L356.3 337.1 L356.7 337.7 L357.0 338.6 L357.4 339.2 L357.7 339.5 L358.1 339.4 L358.5 339.0 L358.9 338.5 L359.2 338.0 L359.6 337.6 L360.0 337.5 L360.3 337.7 L360.7 338.1 L361.0 338.8 L361.3 339.4 L361.7 339.8 L362.0 340.0 L362.3 339.8 L362.7 339.4 L363.0 338.8 L363.3 338.1 L363.7 337.7 L364.0 337.5 L364.3 337.6 L364.7 338.0 L365.0 338.5 L365.3 339.0 L365.7 339.4 L366.0 339.5 L366.3 339.3 L366.7 338.9 L367.0 338.2 L367.3 337.6 L367.7 337.2 L368.0 337.0 L368.3 337.1 L368.7 337.2 L369.0 337.5 L369.3 337.8 L369.7 337.9 L370.0 338.0 L370.3 338.0 L370.7 337.9 L371.0 337.8 L371.3 337.6 L371.7 337.4 L372.0 337.2 L372.3 336.9 L372.7 336.7 L373.0 336.5 L373.3 336.4 L373.7 336.3 L374.0 336.3 L374.3 336.3 L374.7 336.3 L375.0 336.2 L375.3 336.2 L375.7 336.1 L376.0 336.1 L376.3 336.0 L376.7 335.9 L377.0 335.8 L377.3 335.7 L377.7 335.6 L378.0 335.6 L378.3 335.5 L378.7 335.4 L379.0 335.4 L379.3 335.3 L379.7 335.3 L380.0 335.3 L380.3 335.3 L380.7 335.3 L381.0 335.3 L381.3 335.3 L381.7 335.3 L382.0 335.3 L382.3 335.3 L382.7 335.4 L383.0 335.4 L383.3 335.4 L383.7 335.4 L384.0 335.4 L384.3 335.4 L384.7 335.4 L385.0 335.4 L385.4 335.9 L385.8 337.2 L386.1 338.5 L386.5 339.0 L386.9 338.7 L387.2 338.0 L387.6 337.3 L388.0 337.0 L388.4 337.4 L388.8 338.5 L389.1 339.6 L389.5 340.0 L389.9 339.7 L390.2 339.0 L390.6 338.3 L391.0 338.0 L391.4 338.2 L391.8 338.8 L392.1 339.3 L392.5 339.5 L392.9 339.2 L393.2 338.5 L393.6 337.8 L394.0 337.5 L394.4 337.7 L394.8 338.2 L395.1 338.8 L395.5 339.0 L395.9 338.7 L396.2 338.0 L396.6 337.3 L397.0 337.0 L397.3 337.1 L397.7 337.2 L398.0 337.5 L398.3 337.8 L398.7 337.9 L399.0 338.0 L399.3 337.9 L399.7 337.6 L400.0 337.2 L400.3 336.9 L400.7 336.6 L401.0 336.5 L401.3 336.5 L401.7 336.4 L402.0 336.4 L402.3 336.2 L402.7 336.1 L403.0 336.0 L403.3 335.9 L403.7 335.8 L404.0 335.6 L404.3 335.6 L404.7 335.5 L405.0 335.5 L405.3 335.5 L405.7 335.5 L406.0 335.5 L406.3 335.5 L406.7 335.5 L407.0 335.5 L407.3 335.5 L407.7 335.4 L408.0 335.4 L408.3 335.4 L408.7 335.4 L409.0 335.4 L409.3 335.4 L409.7 335.4 L410.0 335.4 L410.3 335.4 L410.7 335.3 L411.0 335.3 L411.3 335.3 L411.7 335.3 L412.0 335.3 L412.3 335.3 L412.7 335.3 L413.0 335.3 L413.4 335.5 L413.7 336.1 L414.1 336.9 L414.4 337.9 L414.8 338.7 L415.1 339.3 L415.5 339.5 L415.9 339.3 L416.2 338.8 L416.6 338.2 L417.0 338.0 L417.3 338.2 L417.7 338.8 L418.0 339.5 L418.3 340.2 L418.7 340.8 L419.0 341.0 L419.4 340.7 L419.8 340.0 L420.1 339.3 L420.5 339.0 L420.9 339.2 L421.2 339.8 L421.6 340.3 L422.0 340.5 L422.4 340.2 L422.8 339.5 L423.1 338.8 L423.5 338.5 L423.9 338.7 L424.2 339.2 L424.6 339.8 L425.0 340.0 L425.3 339.9 L425.7 339.5 L426.0 339.0 L426.3 338.5 L426.7 338.1 L427.0 338.0 L427.3 338.1 L427.7 338.2 L428.0 338.5 L428.3 338.8 L428.7 338.9 L429.0 339.0 L429.3 338.9 L429.7 338.8 L430.0 338.5 L430.3 338.2 L430.7 337.8 L431.0 337.5 L431.3 337.2 L431.7 337.1 L432.0 337.0 L432.3 337.0 L432.7 337.0 L433.0 337.0 L433.3 337.0 L433.7 336.9 L434.0 336.9 L434.3 336.9 L434.7 336.9 L435.0 336.8 L435.3 336.8 L435.7 336.7 L436.0 336.7 L436.3 336.7 L436.7 336.6 L437.0 336.6 L437.3 336.6 L437.7 336.5 L438.0 336.5 L438.3 336.5 L438.7 336.4 L439.0 336.4 L439.3 336.4 L439.7 336.4 L440.0 336.4 L440.3 336.4 L440.7 336.4 L441.0 336.4 L441.3 336.4 L441.7 336.3 L442.0 336.3 L442.3 336.3 L442.7 336.3 L443.0 336.3 L443.4 337.0 L443.7 338.6 L444.0 340.3 L444.4 341.0 L444.8 340.8 L445.2 340.4 L445.6 340.0 L446.0 339.8 L446.3 339.9 L446.7 340.1 L447.0 340.4 L447.3 340.7 L447.7 340.9 L448.0 341.0 L448.3 340.9 L448.7 340.8 L449.0 340.5 L449.3 340.2 L449.7 340.1 L450.0 340.0 L450.3 340.1 L450.7 340.2 L451.0 340.5 L451.3 340.8 L451.7 340.9 L452.0 341.0 L452.3 341.0 L452.7 340.9 L453.0 340.9 L453.3 340.8 L453.7 340.7 L454.0 340.6 L454.3 340.5 L454.7 340.4 L455.0 340.3 L455.3 340.3 L455.7 340.2 L456.0 340.2 L456.3 340.2 L456.7 340.1 L457.0 340.0 L457.3 339.8 L457.7 339.6 L458.0 339.4 L458.3 339.1 L458.7 338.9 L459.0 338.7 L459.3 338.6 L459.7 338.5 L460.0 338.5 L460.3 338.5 L460.7 338.5 L461.0 338.5 L461.3 338.5 L461.7 338.5 L462.0 338.5 L462.3 338.5 L462.7 338.5 L463.0 338.5 L463.3 338.5 L463.7 338.5 L464.0 338.5 L464.3 338.5 L464.7 338.5 L465.0 338.4 L465.3 338.4 L465.7 338.4 L466.0 338.4 L466.3 338.4 L466.7 338.4 L467.0 338.4 L467.3 338.4 L467.7 338.4 L468.0 338.4 L468.3 338.4 L468.7 338.4 L469.0 338.4 L469.3 338.4 L469.7 338.4 L470.0 338.4 L470.4 338.4 L470.7 338.6 L471.1 338.7 L471.4 339.0 L471.8 339.1 L472.1 339.3 L472.5 339.3 L472.8 339.5 L473.2 340.1 L473.5 340.9 L473.8 341.7 L474.2 342.3 L474.5 342.5 L474.9 342.5 L475.2 342.5 L475.6 342.6 L475.9 342.7 L476.2 342.8 L476.6 342.8 L476.9 342.9 L477.3 343.0 L477.6 343.0 L478.0 343.0 L478.3 343.0 L478.7 343.0 L479.0 343.0 L479.3 343.0 L479.7 342.9 L480.0 342.9 L480.3 342.9 L480.7 342.8 L481.0 342.8 L481.3 342.8 L481.7 342.7 L482.0 342.7 L482.3 342.7 L482.7 342.6 L483.0 342.6 L483.3 342.6 L483.7 342.5 L484.0 342.5 L484.3 342.5 L484.7 342.5 L485.0 342.5 L485.3 342.5 L485.7 342.5 L486.0 342.5 L486.3 342.4 L486.7 342.4 L487.0 342.3 L487.3 342.3 L487.7 342.2 L488.0 342.2 L488.3 342.1 L488.7 342.1 L489.0 342.0 L489.3 342.0 L489.7 342.0 L490.0 342.0 L490.3 342.0 L490.7 342.0 L491.0 342.0 L491.3 342.0 L491.7 342.0 L492.0 342.0 L492.3 342.0 L492.7 342.0 L493.0 342.0 L493.3 342.0 L493.7 342.0 L494.0 342.0 L494.3 342.0 L494.7 342.0 L495.0 342.0 L495.3 342.0 L495.7 342.0 L496.0 342.0 L496.3 342.0 L496.7 342.0 L497.0 342.0 L497.3 342.0 L497.7 342.0 L498.0 342.0 L498.3 342.0 L498.7 342.0 L499.0 342.0 L499.3 342.0 L499.7 342.0 L500.0 342.0 L500.3 342.1 L500.7 342.3 L501.0 342.6 L501.3 343.0 L501.7 343.5 L502.0 343.9 L502.3 344.2 L502.7 344.4 L503.0 344.5 L503.3 344.4 L503.7 343.9 L504.0 343.4 L504.3 342.9 L504.7 342.4 L505.0 342.3 L505.3 342.3 L505.7 342.5 L506.0 342.6 L506.3 342.8 L506.7 343.0 L507.0 343.0 L507.3 343.0 L507.7 342.9 L508.0 342.8 L508.3 342.7 L508.7 342.5 L509.0 342.4 L509.3 342.3 L509.7 342.2 L510.0 342.2 L510.3 342.2 L510.7 342.2 L511.0 342.2 L511.3 342.2 L511.7 342.2 L512.0 342.2 L512.3 342.2 L512.7 342.2 L513.0 342.2 L513.3 342.2 L513.7 342.2 L514.0 342.2 L514.3 342.2 L514.7 342.2 L515.0 342.2 L515.3 342.2 L515.7 342.2 L516.0 342.2 L516.3 342.2 L516.7 342.2 L517.0 342.1 L517.3 342.1 L517.7 342.1 L518.0 342.1 L518.3 342.1 L518.7 342.1 L519.0 342.1 L519.3 342.1 L519.7 342.1 L520.0 342.1 L520.3 342.1 L520.7 342.1 L521.0 342.1 L521.3 342.1 L521.7 342.1 L522.0 342.1 L522.3 342.1 L522.7 342.1 L523.0 342.1 L523.3 342.1 L523.7 342.1 L524.0 342.1 L524.3 342.0 L524.7 342.0 L525.0 342.0 L525.3 342.0 L525.7 342.0 L526.0 342.0 L526.3 342.0 L526.7 342.0 L527.0 342.0 L527.3 342.0 L527.7 342.0 L528.0 342.0 L528.3 342.0 L528.7 342.0 L529.0 342.0 L529.3 342.0 L529.7 342.0 L530.0 342.0 L530.3 342.0 L530.7 342.0 L531.0 342.0 L531.3 342.6 L531.7 343.9 L532.0 344.5 L532.3 344.4 L532.7 344.1 L533.0 343.6 L533.3 343.1 L533.7 342.4 L534.0 341.9 L534.3 341.4 L534.7 341.1 L535.0 341.0 L535.3 341.1 L535.7 341.2 L536.0 341.4 L536.3 341.6 L536.7 341.7 L537.0 341.8 L537.3 341.7 L537.7 341.5 L538.0 341.2 L538.3 340.8 L538.7 340.6 L539.0 340.5 L539.3 340.6 L539.7 340.8 L540.0 341.1 L540.3 341.3 L540.7 341.5 L541.0 341.6 L541.3 341.6 L541.7 341.7 L542.0 341.7 L542.3 341.8 L542.7 341.9 L543.0 342.0 L543.3 342.1 L543.7 342.2 L544.0 342.3 L544.3 342.3 L544.7 342.4 L545.0 342.4 L545.3 342.4 L545.7 342.4 L546.0 342.4 L546.3 342.4 L546.7 342.4 L547.0 342.4 L547.3 342.4 L547.7 342.4 L548.0 342.4 L548.3 342.4 L548.7 342.4 L549.0 342.4 L549.3 342.4 L549.7 342.4 L550.0 342.4 L550.3 342.4 L550.7 342.4 L551.0 342.4 L551.3 342.4 L551.7 342.4 L552.0 342.4 L552.3 342.4 L552.7 342.3 L553.0 342.3 L553.3 342.3 L553.7 342.3 L554.0 342.3 L554.3 342.3 L554.7 342.3 L555.0 342.3 L555.3 342.3 L555.7 342.3 L556.0 342.3 L556.3 342.3 L556.7 342.3 L557.0 342.3 L557.3 342.3 L557.7 342.3 L558.0 342.3 L558.3 342.3 L558.7 342.3 L559.0 342.3 L559.3 342.3 L559.7 342.3 L560.0 342.3 L560.4 342.6 L560.8 343.2 L561.2 343.5 L561.6 342.5 L562.1 340.5 L562.5 339.5 L562.9 339.4 L563.2 339.0 L563.6 338.6 L564.0 338.5 L564.3 338.6 L564.7 338.8 L565.0 339.0 L565.3 339.2 L565.7 339.4 L566.0 339.5 L566.3 339.4 L566.7 339.2 L567.0 339.0 L567.3 338.8 L567.7 338.6 L568.0 338.5 L568.3 338.6 L568.7 338.8 L569.0 339.0 L569.3 339.2 L569.7 339.4 L570.0 339.5 L570.3 339.4 L570.7 339.2 L571.0 338.9 L571.3 338.6 L571.7 338.4 L572.0 338.3 L572.4 338.6 L572.8 339.4 L573.1 340.2 L573.5 340.5" stroke="#AC8E18"/>
<path d="M69.7 346.4 L70.0 346.4 L70.4 346.4 L70.7 346.4 L71.0 346.4 L71.4 346.4 L71.7 346.4 L72.0 346.4 L72.4 346.4 L72.7 346.4 L73.0 346.4 L73.4 346.4 L73.7 346.4 L74.0 346.4 L74.4 346.4 L74.7 346.4 L75.0 346.4 L75.4 346.4 L75.7 346.4 L76.0 346.4 L76.4 346.4 L76.7 346.4 L77.0 346.4 L77.4 346.4 L77.7 346.4 L78.0 346.4 L78.4 346.4 L78.7 346.4 L79.0 346.4 L79.4 346.4 L79.7 346.4 L80.1 346.4 L80.4 346.4 L80.7 346.4 L81.1 346.4 L81.4 346.4 L81.7 346.4 L82.1 346.4 L82.4 346.4 L82.7 346.4 L83.1 346.4 L83.4 346.4 L83.7 346.4 L84.1 346.4 L84.4 346.4 L84.7 346.4 L85.1 346.4 L85.4 346.4 L85.7 346.4 L86.1 346.4 L86.4 346.4 L86.7 346.4 L87.1 346.4 L87.4 346.4 L87.7 346.4 L88.1 346.4 L88.4 346.4 L88.7 346.4 L89.1 346.4 L89.4 346.4 L89.7 346.4 L90.1 346.4 L90.4 346.4 L90.7 346.4 L91.1 346.4 L91.4 346.4 L91.7 346.4 L92.1 346.4 L92.4 346.4 L92.7 346.4 L93.1 346.4 L93.4 346.4 L93.7 346.4 L94.1 346.4 L94.4 346.4 L94.7 346.4 L95.1 346.4 L95.4 346.4 L95.7 346.4 L96.1 346.4 L96.4 346.4 L96.7 346.4 L97.1 346.4 L97.4 346.4 L97.7 346.4 L98.1 346.4 L98.4 346.4 L98.8 346.4 L99.1 346.4 L99.4 346.4 L99.8 346.4 L100.1 346.4 L100.4 346.4 L100.8 346.4 L101.1 346.4 L101.4 346.4 L101.8 346.4 L102.1 346.4 L102.4 346.4 L102.8 346.4 L103.1 346.4 L103.4 346.4 L103.8 346.4 L104.1 346.4 L104.4 346.4 L104.8 346.4 L105.1 346.4 L105.4 346.4 L105.8 346.4 L106.1 346.4 L106.4 346.4 L106.8 346.4 L107.1 346.4 L107.4 346.4 L107.8 346.4 L108.1 346.4 L108.4 346.4 L108.8 346.4 L109.1 346.4 L109.4 346.4 L109.8 346.4 L110.1 346.4 L110.4 346.4 L110.8 346.4 L111.1 346.4 L111.4 346.4 L111.8 346.4 L112.1 346.4 L112.4 346.4 L112.8 346.4 L113.1 346.4 L113.4 346.4 L113.8 346.4 L114.1 346.4 L114.4 346.4 L114.8 346.4 L115.1 346.4 L115.4 346.4 L115.8 346.4 L116.1 346.4 L116.4 346.4 L116.8 346.4 L117.1 346.4 L117.5 346.4 L117.8 346.4 L118.1 346.4 L118.5 346.4 L118.8 346.4 L119.1 346.4 L119.5 346.4 L119.8 346.4 L120.1 346.4 L120.5 346.4 L120.8 346.4 L121.1 346.4 L121.5 346.4 L121.8 346.4 L122.1 346.4 L122.5 346.4 L122.8 346.4 L123.1 346.4 L123.5 346.4 L123.8 346.4 L124.1 346.4 L124.5 346.4 L124.8 346.4 L125.1 346.4 L125.5 346.4 L125.8 346.4 L126.1 346.4 L126.5 346.3 L126.8 346.3 L127.1 346.3 L127.5 346.3 L127.8 346.3 L128.1 346.3 L128.5 346.3 L128.8 346.3 L129.1 346.3 L129.5 346.3 L129.8 346.3 L130.1 346.3 L130.5 346.3 L130.8 346.3 L131.1 346.3 L131.5 346.3 L131.8 346.3 L132.1 346.3 L132.5 346.3 L132.8 346.3 L133.1 346.3 L133.5 346.3 L133.8 346.3 L134.1 346.3 L134.5 346.3 L134.8 346.3 L135.1 346.3 L135.5 346.3 L135.8 346.3 L136.2 346.3 L136.5 346.3 L136.8 346.3 L137.2 346.3 L137.5 346.3 L137.8 346.3 L138.2 346.3 L138.5 346.3 L138.8 346.3 L139.2 346.3 L139.5 346.3 L139.8 346.3 L140.2 346.3 L140.5 346.3 L140.8 346.3 L141.2 346.3 L141.5 346.3 L141.8 346.3 L142.2 346.3 L142.5 346.3 L142.8 346.3 L143.2 346.3 L143.5 346.3 L143.8 346.3 L144.2 346.3 L144.5 346.3 L144.8 346.3 L145.2 346.3 L145.5 346.3 L145.8 346.3 L146.2 346.3 L146.5 346.3 L146.8 346.3 L147.2 346.3 L147.5 346.3 L147.8 346.3 L148.2 346.3 L148.5 346.3 L148.8 346.3 L149.2 346.3 L149.5 346.3 L149.8 346.3 L150.2 346.3 L150.5 346.3 L150.8 346.3 L151.2 346.3 L151.5 346.3 L151.8 346.3 L152.2 346.3 L152.5 346.3 L152.8 346.3 L153.2 346.3 L153.5 346.3 L153.8 346.3 L154.2 346.3 L154.5 346.3 L154.9 346.3 L155.2 346.3 L155.5 346.3 L155.9 346.3 L156.2 346.3 L156.5 346.3 L156.9 346.3 L157.2 346.3 L157.5 346.3 L157.9 346.3 L158.2 346.3 L158.5 346.3 L158.9 346.3 L159.2 346.3 L159.5 346.3 L159.9 346.3 L160.2 346.3 L160.5 346.3 L160.9 346.3 L161.2 346.3 L161.5 346.3 L161.9 346.3 L162.2 346.3 L162.5 346.3 L162.9 346.3 L163.2 346.3 L163.5 346.3 L163.9 346.3 L164.2 346.3 L164.5 346.3 L164.9 346.3 L165.2 346.3 L165.5 346.3 L165.9 346.3 L166.2 346.3 L166.5 346.3 L166.9 346.3 L167.2 346.3 L167.5 346.3 L167.9 346.3 L168.2 346.3 L168.5 346.3 L168.9 346.3 L169.2 346.3 L169.5 346.3 L169.9 346.3 L170.2 346.3 L170.5 346.3 L170.9 346.3 L171.2 346.3 L171.5 346.3 L171.9 346.3 L172.2 346.3 L172.5 346.3 L172.9 346.3 L173.2 346.3 L173.5 346.3 L173.9 346.3 L174.2 346.3 L174.6 346.3 L174.9 346.3 L175.2 346.3 L175.6 346.3 L175.9 346.3 L176.2 346.3 L176.6 346.3 L176.9 346.3 L177.2 346.3 L177.6 346.3 L177.9 346.3 L178.2 346.3 L178.6 346.3 L178.9 346.3 L179.2 346.3 L179.6 346.3 L179.9 346.3 L180.2 346.3 L180.6 346.3 L180.9 346.3 L181.2 346.3 L181.6 346.3 L181.9 346.3 L182.2 346.3 L182.6 346.3 L182.9 346.3 L183.2 346.2 L183.6 346.2 L183.9 346.2 L184.2 346.2 L184.6 346.2 L184.9 346.2 L185.2 346.2 L185.6 346.2 L185.9 346.2 L186.2 346.2 L186.6 346.2 L186.9 346.2 L187.2 346.2 L187.6 346.2 L187.9 346.2 L188.2 346.2 L188.6 346.2 L188.9 346.2 L189.2 346.2 L189.6 346.2 L189.9 346.2 L190.2 346.2 L190.6 346.2 L190.9 346.2 L191.2 346.2 L191.6 346.2 L191.9 346.2 L192.2 346.2 L192.6 346.2 L192.9 346.2 L193.3 346.2 L193.6 346.2 L193.9 346.2 L194.3 346.2 L194.6 346.2 L194.9 346.2 L195.3 346.2 L195.6 346.2 L195.9 346.2 L196.3 346.2 L196.6 346.2 L196.9 346.2 L197.3 346.2 L197.6 346.2 L197.9 346.2 L198.3 346.2 L198.6 346.2 L198.9 346.2 L199.3 346.2 L199.6 346.2 L199.9 346.2 L200.3 346.2 L200.6 346.2 L200.9 346.2 L201.3 346.2 L201.6 346.2 L201.9 346.2 L202.3 346.2 L202.6 346.2 L202.9 346.2 L203.3 346.2 L203.6 346.2 L203.9 346.2 L204.3 346.2 L204.6 346.2 L204.9 346.2 L205.3 346.2 L205.6 346.2 L205.9 346.2 L206.3 346.2 L206.6 346.2 L206.9 346.2 L207.3 346.2 L207.6 346.2 L207.9 346.2 L208.3 346.2 L208.6 346.2 L208.9 346.2 L209.3 346.2 L209.6 346.2 L209.9 346.2 L210.3 346.2 L210.6 346.2 L210.9 346.2 L211.3 346.2 L211.6 346.2 L212.0 346.2 L212.3 346.2 L212.6 346.2 L213.0 346.2 L213.3 346.2 L213.6 346.2 L214.0 346.2 L214.3 346.2 L214.6 346.2 L215.0 346.2 L215.3 346.2 L215.6 346.2 L216.0 346.2 L216.3 346.2 L216.6 346.2 L217.0 346.2 L217.3 346.2 L217.6 346.2 L218.0 346.2 L218.3 346.2 L218.6 346.2 L219.0 346.2 L219.3 346.2 L219.6 346.2 L220.0 346.2 L220.3 346.2 L220.6 346.2 L221.0 346.2 L221.3 346.2 L221.6 346.2 L222.0 346.2 L222.3 346.2 L222.6 346.2 L223.0 346.2 L223.3 346.2 L223.6 346.2 L224.0 346.2 L224.3 346.2 L224.6 346.2 L225.0 346.2 L225.3 346.2 L225.6 346.2 L226.0 346.2 L226.3 346.2 L226.6 346.2 L227.0 346.2 L227.3 346.2 L227.6 346.2 L228.0 346.2 L228.3 346.2 L228.6 346.2 L229.0 346.2 L229.3 346.2 L229.6 346.2 L230.0 346.2 L230.3 346.2 L230.7 346.2 L231.0 346.2 L231.3 346.2 L231.7 346.2 L232.0 346.2 L232.3 346.2 L232.7 346.2 L233.0 346.2 L233.3 346.2 L233.7 346.2 L234.0 346.2 L234.3 346.2 L234.7 346.2 L235.0 346.2 L235.3 346.2 L235.7 346.2 L236.0 346.2 L236.3 346.2 L236.7 346.2 L237.0 346.2 L237.3 346.2 L237.7 346.2 L238.0 346.2 L238.3 346.2 L238.7 346.2 L239.0 346.2 L239.3 346.2 L239.7 346.2 L240.0 346.2 L240.3 346.2 L240.7 346.2 L241.0 346.2 L241.3 346.2 L241.7 346.2 L242.0 346.2 L242.3 346.2 L242.7 346.2 L243.0 346.2 L243.3 346.2 L243.7 346.2 L244.0 346.2 L244.3 346.2 L244.7 346.2 L245.0 346.2 L245.3 346.2 L245.7 346.2 L246.0 346.2 L246.3 346.1 L246.7 346.1 L247.0 346.1 L247.3 346.1 L247.7 346.1 L248.0 346.1 L248.3 346.1 L248.7 346.1 L249.0 346.1 L249.3 346.1 L249.7 346.1 L250.0 346.1 L250.3 346.1 L250.7 346.1 L251.0 346.1 L251.3 346.0 L251.7 346.0 L252.0 346.0 L252.3 346.0 L252.7 346.0 L253.0 346.0 L253.3 346.0 L253.7 346.0 L254.0 346.0 L254.3 346.0 L254.7 346.0 L255.0 345.9 L255.3 345.9 L255.7 345.9 L256.0 345.9 L256.3 345.9 L256.7 345.9 L257.0 345.9 L257.3 345.9 L257.7 345.9 L258.0 345.9 L258.3 345.9 L258.7 345.9 L259.0 345.8 L259.3 345.8 L259.7 345.8 L260.0 345.8 L260.3 345.8 L260.7 345.8 L261.0 345.8 L261.3 345.8 L261.7 345.8 L262.0 345.8 L262.3 345.8 L262.7 345.8 L263.0 345.8 L263.3 345.8 L263.7 345.8 L264.0 345.7 L264.3 345.7 L264.7 345.7 L265.0 345.7 L265.3 345.7 L265.7 345.7 L266.0 345.7 L266.3 345.7 L266.7 345.7 L267.0 345.7 L267.3 345.7 L267.7 345.7 L268.0 345.7 L268.3 345.7 L268.7 345.7 L269.0 345.7 L269.3 345.7 L269.7 345.7 L270.0 345.7 L270.3 345.7 L270.7 345.7 L271.0 345.7 L271.3 345.7 L271.7 345.6 L272.0 345.6 L272.3 345.6 L272.7 345.6 L273.0 345.5 L273.3 345.5 L273.7 345.4 L274.0 345.4 L274.3 345.3 L274.7 345.3 L275.0 345.2 L275.3 345.2 L275.7 345.2 L276.0 345.1 L276.3 345.1 L276.7 345.0 L277.0 345.0 L277.3 344.9 L277.7 344.9 L278.0 344.9 L278.3 344.9 L278.7 344.8 L279.0 344.8 L279.3 344.8 L279.7 344.8 L280.0 344.8 L280.3 344.8 L280.7 344.8 L281.0 344.8 L281.3 344.8 L281.7 344.8 L282.0 344.8 L282.3 344.8 L282.7 344.8 L283.0 344.8 L283.3 344.8 L283.7 344.8 L284.0 344.8 L284.3 344.8 L284.7 344.8 L285.0 344.8 L285.3 344.8 L285.7 344.8 L286.0 344.8 L286.3 344.8 L286.7 344.8 L287.0 344.8 L287.3 344.8 L287.7 344.7 L288.0 344.7 L288.3 344.7 L288.7 344.7 L289.0 344.7 L289.3 344.7 L289.7 344.7 L290.0 344.7 L290.3 344.7 L290.7 344.7 L291.0 344.7 L291.3 344.7 L291.7 344.7 L292.0 344.7 L292.3 344.7 L292.7 344.7 L293.0 344.7 L293.3 344.7 L293.7 344.6 L294.0 344.6 L294.3 344.6 L294.7 344.6 L295.0 344.6 L295.3 344.6 L295.7 344.6 L296.0 344.6 L296.3 344.6 L296.7 344.6 L297.0 344.6 L297.3 344.6 L297.7 344.6 L298.0 344.5 L298.3 344.5 L298.7 344.5 L299.0 344.5 L299.3 344.5 L299.7 344.5 L300.0 344.5 L300.3 344.5 L300.7 344.5 L301.0 344.5 L301.3 344.5 L301.7 344.5 L302.0 344.5 L302.3 344.4 L302.7 344.4 L303.0 344.4 L303.3 344.4 L303.7 344.4 L304.0 344.4 L304.3 344.4 L304.7 344.4 L305.0 344.4 L305.3 344.4 L305.7 344.4 L306.0 344.4 L306.3 344.4 L306.7 344.4 L307.0 344.3 L307.3 344.3 L307.7 344.3 L308.0 344.3 L308.3 344.3 L308.7 344.3 L309.0 344.3 L309.3 344.3 L309.7 344.3 L310.0 344.3 L310.3 344.3 L310.7 344.3 L311.0 344.3 L311.3 344.3 L311.7 344.3 L312.0 344.3 L312.3 344.3 L312.7 344.2 L313.0 344.2 L313.3 344.2 L313.7 344.2 L314.0 344.2 L314.3 344.2 L314.7 344.2 L315.0 344.2 L315.3 344.2 L315.7 344.2 L316.0 344.2 L316.3 344.2 L316.7 344.2 L317.0 344.2 L317.3 344.2 L317.7 344.2 L318.0 344.2 L318.3 344.2 L318.7 344.2 L319.0 344.2 L319.3 344.2 L319.7 344.2 L320.0 344.2 L320.3 344.2 L320.7 344.2 L321.0 344.2 L321.3 344.2 L321.7 344.2 L322.0 344.2 L322.3 344.1 L322.7 344.1 L323.0 344.1 L323.3 344.1 L323.7 344.1 L324.0 344.1 L324.3 344.1 L324.7 344.1 L325.0 344.0 L325.3 344.0 L325.7 344.0 L326.0 344.0 L326.3 344.0 L326.7 344.0 L327.0 344.0 L327.3 344.1 L327.7 344.2 L328.0 344.4 L328.3 344.6 L328.7 344.7 L329.0 344.8 L329.3 344.8 L329.7 344.7 L330.0 344.7 L330.3 344.6 L330.7 344.5 L331.0 344.4 L331.3 344.3 L331.7 344.2 L332.0 344.1 L332.3 344.1 L332.7 344.0 L333.0 344.0 L333.3 344.0 L333.7 344.0 L334.0 344.0 L334.3 344.0 L334.7 344.0 L335.0 344.0 L335.3 344.0 L335.7 344.0 L336.0 344.0 L336.3 344.0 L336.7 344.0 L337.0 344.0 L337.3 344.0 L337.7 344.0 L338.0 344.0 L338.3 344.0 L338.7 344.0 L339.0 344.0 L339.3 344.0 L339.7 344.0 L340.0 344.0 L340.3 344.0 L340.7 344.0 L341.0 344.0 L341.3 344.0 L341.7 344.0 L342.0 344.0 L342.3 344.0 L342.7 344.0 L343.0 344.0 L343.3 344.0 L343.7 344.0 L344.0 344.0 L344.3 344.0 L344.7 344.0 L345.0 344.0 L345.3 344.0 L345.7 344.0 L346.0 344.0 L346.3 344.0 L346.7 344.0 L347.0 344.0 L347.3 344.0 L347.7 344.0 L348.0 344.0 L348.3 344.0 L348.7 344.0 L349.0 344.0 L349.3 344.0 L349.7 344.0 L350.0 344.0 L350.3 344.0 L350.7 344.0 L351.0 344.0 L351.3 344.0 L351.7 344.0 L352.0 344.0 L352.3 344.0 L352.7 344.0 L353.0 344.0 L353.3 344.0 L353.7 344.0 L354.0 344.0 L354.3 344.0 L354.7 344.0 L355.0 344.0 L355.3 344.0 L355.7 344.0 L356.0 344.0 L356.3 344.0 L356.7 344.2 L357.0 344.3 L357.3 344.5 L357.7 344.7 L358.0 344.7 L358.3 344.7 L358.7 344.6 L359.0 344.5 L359.3 344.4 L359.7 344.3 L360.0 344.2 L360.3 344.1 L360.7 344.0 L361.0 344.0 L361.3 344.0 L361.7 344.0 L362.0 344.0 L362.3 344.0 L362.7 344.0 L363.0 344.0 L363.3 344.0 L363.7 344.0 L364.0 344.0 L364.3 344.0 L364.7 344.0 L365.0 344.0 L365.3 344.0 L365.7 344.0 L366.0 344.0 L366.3 344.0 L366.7 344.0 L367.0 344.0 L367.3 344.0 L367.7 344.0 L368.0 344.0 L368.3 344.0 L368.7 344.0 L369.0 344.1 L369.3 344.1 L369.7 344.1 L370.0 344.1 L370.3 344.1 L370.7 344.1 L371.0 344.1 L371.3 344.1 L371.7 344.1 L372.0 344.1 L372.3 344.1 L372.7 344.1 L373.0 344.1 L373.3 344.1 L373.7 344.1 L374.0 344.1 L374.3 344.1 L374.7 344.1 L375.0 344.1 L375.3 344.1 L375.7 344.1 L376.0 344.1 L376.3 344.1 L376.7 344.1 L377.0 344.1 L377.3 344.2 L377.7 344.2 L378.0 344.2 L378.3 344.2 L378.7 344.2 L379.0 344.2 L379.3 344.2 L379.7 344.2 L380.0 344.2 L380.3 344.2 L380.7 344.2 L381.0 344.2 L381.3 344.2 L381.7 344.2 L382.0 344.2 L382.3 344.2 L382.7 344.2 L383.0 344.2 L383.3 344.2 L383.7 344.2 L384.0 344.2 L384.3 344.2 L384.7 344.2 L385.0 344.2 L385.3 344.2 L385.7 344.3 L386.0 344.5 L386.3 344.6 L386.7 344.8 L387.0 344.8 L387.3 344.8 L387.7 344.7 L388.0 344.6 L388.3 344.5 L388.7 344.3 L389.0 344.2 L389.3 344.1 L389.7 344.0 L390.0 344.0 L390.3 344.0 L390.7 344.0 L391.0 344.0 L391.3 344.0 L391.7 344.0 L392.0 344.0 L392.3 344.0 L392.7 344.0 L393.0 344.0 L393.3 344.0 L393.7 344.0 L394.0 344.0 L394.3 344.0 L394.7 344.0 L395.0 344.0 L395.3 344.0 L395.7 344.0 L396.0 344.0 L396.3 344.0 L396.7 344.0 L397.0 344.0 L397.3 344.0 L397.7 344.1 L398.0 344.1 L398.3 344.1 L398.7 344.1 L399.0 344.1 L399.3 344.1 L399.7 344.1 L400.0 344.1 L400.3 344.1 L400.7 344.1 L401.0 344.1 L401.3 344.1 L401.7 344.1 L402.0 344.1 L402.3 344.1 L402.7 344.1 L403.0 344.1 L403.3 344.1 L403.7 344.1 L404.0 344.1 L404.3 344.1 L404.7 344.1 L405.0 344.1 L405.3 344.1 L405.7 344.2 L406.0 344.2 L406.3 344.2 L406.7 344.2 L407.0 344.2 L407.3 344.2 L407.7 344.2 L408.0 344.2 L408.3 344.2 L408.7 344.2 L409.0 344.2 L409.3 344.2 L409.7 344.2 L410.0 344.2 L410.3 344.2 L410.7 344.2 L411.0 344.2 L411.3 344.2 L411.7 344.2 L412.0 344.2 L412.3 344.2 L412.7 344.2 L413.0 344.2 L413.4 344.2 L413.7 344.3 L414.1 344.4 L414.4 344.6 L414.8 344.7 L415.1 344.8 L415.5 344.8 L415.9 344.7 L416.2 344.6 L416.6 344.4 L416.9 344.1 L417.3 343.9 L417.6 343.8 L418.0 343.7 L418.3 343.7 L418.7 343.7 L419.0 343.7 L419.3 343.7 L419.7 343.7 L420.0 343.7 L420.3 343.8 L420.7 343.8 L421.0 343.8 L421.3 343.8 L421.7 343.8 L422.0 343.8 L422.3 343.8 L422.7 343.8 L423.0 343.9 L423.3 343.9 L423.7 343.9 L424.0 343.9 L424.3 343.9 L424.7 343.9 L425.0 343.9 L425.3 343.9 L425.7 343.9 L426.0 343.9 L426.3 343.9 L426.7 344.0 L427.0 344.0 L427.3 344.0 L427.7 344.1 L428.0 344.1 L428.3 344.1 L428.7 344.2 L429.0 344.2 L429.3 344.2 L429.7 344.2 L430.0 344.2 L430.3 344.2 L430.7 344.2 L431.0 344.2 L431.3 344.2 L431.7 344.2 L432.0 344.2 L432.3 344.2 L432.7 344.2 L433.0 344.2 L433.3 344.2 L433.7 344.2 L434.0 344.2 L434.3 344.2 L434.7 344.2 L435.0 344.2 L435.3 344.2 L435.7 344.2 L436.0 344.2 L436.3 344.2 L436.7 344.2 L437.0 344.2 L437.3 344.2 L437.7 344.2 L438.0 344.2 L438.3 344.2 L438.7 344.2 L439.0 344.2 L439.3 344.2 L439.7 344.2 L440.0 344.2 L440.3 344.2 L440.7 344.2 L441.0 344.2 L441.3 344.2 L441.7 344.2 L442.0 344.2 L442.3 344.2 L442.7 344.2 L443.0 344.2 L443.3 344.2 L443.7 344.3 L444.0 344.3 L444.3 344.3 L444.7 344.3 L445.0 344.3 L445.3 344.3 L445.7 344.2 L446.0 344.2 L446.3 344.1 L446.7 344.0 L447.0 343.9 L447.3 343.7 L447.7 343.6 L448.0 343.4 L448.3 343.3 L448.7 343.2 L449.0 343.1 L449.3 343.1 L449.7 343.0 L450.0 343.0 L450.3 343.0 L450.7 343.0 L451.0 343.0 L451.3 343.1 L451.7 343.1 L452.0 343.2 L452.3 343.2 L452.7 343.3 L453.0 343.3 L453.3 343.4 L453.7 343.4 L454.0 343.5 L454.3 343.5 L454.7 343.5 L455.0 343.5 L455.3 343.5 L455.7 343.5 L456.0 343.6 L456.3 343.7 L456.7 343.8 L457.0 343.8 L457.3 343.9 L457.7 344.1 L458.0 344.2 L458.3 344.2 L458.7 344.3 L459.0 344.4 L459.3 344.5 L459.7 344.5 L460.0 344.5 L460.3 344.5 L460.7 344.5 L461.0 344.5 L461.3 344.5 L461.7 344.6 L462.0 344.6 L462.3 344.6 L462.7 344.7 L463.0 344.7 L463.3 344.7 L463.7 344.8 L464.0 344.8 L464.3 344.8 L464.7 344.8 L465.0 344.8 L465.3 344.8 L465.7 344.8 L466.0 344.8 L466.3 344.8 L466.7 344.8 L467.0 344.7 L467.3 344.7 L467.7 344.7 L468.0 344.7 L468.3 344.7 L468.7 344.6 L469.0 344.6 L469.3 344.6 L469.7 344.6 L470.0 344.6 L470.3 344.5 L470.7 344.5 L471.0 344.5 L471.3 344.5 L471.7 344.5 L472.0 344.5 L472.3 344.3 L472.7 343.9 L473.0 343.2 L473.3 342.6 L473.7 342.2 L474.0 342.0 L474.3 341.6 L474.7 340.9 L475.0 340.5 L475.4 340.6 L475.8 341.0 L476.1 341.4 L476.5 341.5 L476.8 341.0 L477.2 340.0 L477.5 339.5 L477.9 339.9 L478.2 340.8 L478.6 341.6 L479.0 342.0 L479.4 341.7 L479.8 341.0 L480.1 340.3 L480.5 340.0 L480.9 339.9 L481.2 339.8 L481.6 339.6 L482.0 339.5 L482.4 339.8 L482.8 340.5 L483.1 341.2 L483.5 341.5 L483.9 341.6 L484.2 341.8 L484.6 341.9 L485.0 342.0 L485.3 342.0 L485.7 342.0 L486.0 342.1 L486.3 342.2 L486.7 342.2 L487.0 342.3 L487.3 342.4 L487.7 342.6 L488.0 342.7 L488.3 342.8 L488.7 342.8 L489.0 342.9 L489.3 343.0 L489.7 343.0 L490.0 343.0 L490.3 343.0 L490.7 343.0 L491.0 343.0 L491.3 343.0 L491.7 343.1 L492.0 343.1 L492.3 343.1 L492.7 343.1 L493.0 343.1 L493.3 343.1 L493.7 343.2 L494.0 343.2 L494.3 343.2 L494.7 343.2 L495.0 343.2 L495.3 343.2 L495.7 343.2 L496.0 343.1 L496.3 343.1 L496.7 343.0 L497.0 343.0 L497.3 342.9 L497.7 342.8 L498.0 342.7 L498.3 342.7 L498.7 342.6 L499.0 342.6 L499.3 342.5 L499.7 342.5 L500.0 342.5 L500.3 342.5 L500.7 342.5 L501.0 342.6 L501.3 342.6 L501.7 342.6 L502.0 342.6 L502.4 341.9 L502.8 340.1 L503.1 338.2 L503.5 337.5 L503.9 337.8 L504.2 338.5 L504.6 339.2 L505.0 339.5 L505.4 338.0 L505.8 336.5 L506.2 337.1 L506.6 338.4 L507.0 339.0 L507.3 339.1 L507.7 339.4 L508.0 339.5 L508.3 338.8 L508.7 337.2 L509.0 336.5 L509.3 336.8 L509.7 337.2 L510.0 337.5 L510.4 336.7 L510.8 335.8 L511.2 336.6 L511.6 338.2 L512.0 339.0 L512.3 338.6 L512.7 337.9 L513.0 337.5 L513.3 338.0 L513.7 339.0 L514.0 339.5 L514.4 339.3 L514.8 338.8 L515.1 338.2 L515.5 338.0 L515.9 338.2 L516.2 338.8 L516.6 339.3 L517.0 339.5 L517.3 339.5 L517.7 339.6 L518.0 339.6 L518.3 339.7 L518.7 339.8 L519.0 339.9 L519.3 339.9 L519.7 340.0 L520.0 340.0 L520.3 340.0 L520.7 340.0 L521.0 340.0 L521.3 340.0 L521.7 340.0 L522.0 340.0 L522.3 340.1 L522.7 340.1 L523.0 340.1 L523.3 340.1 L523.7 340.1 L524.0 340.1 L524.3 340.2 L524.7 340.2 L525.0 340.2 L525.3 340.2 L525.7 340.3 L526.0 340.3 L526.3 340.3 L526.7 340.3 L527.0 340.4 L527.3 340.4 L527.7 340.4 L528.0 340.4 L528.3 340.4 L528.7 340.4 L529.0 340.5 L529.3 340.5 L529.7 340.5 L530.0 340.5 L530.3 340.5 L530.7 340.5 L531.0 340.5 L531.4 339.9 L531.7 338.4 L532.1 336.6 L532.4 335.1 L532.8 334.5 L533.2 334.9 L533.6 335.6 L534.0 336.0 L534.3 335.4 L534.7 334.4 L535.0 333.8 L535.4 334.5 L535.8 336.1 L536.1 337.8 L536.5 338.5 L536.9 337.4 L537.4 335.1 L537.8 334.0 L538.2 333.8 L538.6 333.2 L539.0 333.0 L539.4 334.8 L539.8 336.5 L540.1 335.5 L540.5 333.5 L540.8 332.5 L541.2 333.6 L541.6 335.9 L542.0 337.0 L542.4 336.6 L542.8 335.8 L543.1 334.9 L543.5 334.5 L543.8 335.0 L544.2 336.0 L544.5 336.5 L544.8 336.1 L545.2 335.4 L545.5 335.0 L545.9 335.4 L546.2 336.2 L546.6 337.1 L547.0 337.5 L547.4 337.4 L547.8 337.0 L548.1 336.6 L548.5 336.5 L548.9 336.7 L549.2 337.2 L549.6 337.8 L550.0 338.0 L550.3 338.0 L550.7 338.0 L551.0 338.0 L551.3 338.0 L551.7 338.0 L552.0 338.0 L552.3 338.0 L552.7 338.0 L553.0 338.0 L553.3 338.0 L553.7 337.9 L554.0 337.9 L554.3 337.8 L554.7 337.7 L555.0 337.6 L555.3 337.6 L555.7 337.5 L556.0 337.5 L556.3 337.5 L556.7 337.4 L557.0 337.4 L557.3 337.3 L557.7 337.2 L558.0 337.1 L558.3 337.0 L558.7 336.9 L559.0 336.8 L559.3 336.8 L559.7 336.7 L560.0 336.7 L560.4 336.3 L560.7 335.1 L561.1 333.6 L561.4 332.4 L561.8 332.0 L562.2 332.4 L562.6 333.1 L563.0 333.5 L563.3 332.9 L563.7 331.6 L564.0 331.0 L564.3 331.1 L564.7 331.4 L565.0 331.5 L565.4 332.8 L565.8 335.2 L566.2 336.5 L566.6 335.0 L567.1 332.0 L567.5 330.5 L567.8 330.9 L568.2 331.6 L568.5 332.0 L568.8 331.4 L569.2 330.1 L569.5 329.5 L569.8 330.2 L570.2 332.1 L570.5 334.4 L570.9 336.3 L571.2 337.0 L571.6 336.0 L572.1 334.0 L572.5 333.0 L572.8 333.2 L573.2 333.8 L573.5 334.0" stroke="#00A9AD"/>
<path d="M69.7 346.4 L70.0 346.4 L70.4 346.4 L70.7 346.4 L71.0 346.4 L71.4 346.4 L71.7 346.4 L72.0 346.4 L72.4 346.4 L72.7 346.4 L73.0 346.4 L73.4 346.4 L73.7 346.4 L74.0 346.4 L74.4 346.4 L74.7 346.4 L75.0 346.4 L75.4 346.4 L75.7 346.4 L76.0 346.4 L76.4 346.4 L76.7 346.4 L77.0 346.4 L77.4 346.4 L77.7 346.4 L78.0 346.4 L78.4 346.4 L78.7 346.4 L79.0 346.4 L79.4 346.4 L79.7 346.4 L80.0 346.4 L80.4 346.4 L80.7 346.4 L81.0 346.4 L81.4 346.4 L81.7 346.4 L82.1 346.4 L82.4 346.4 L82.7 346.4 L83.1 346.4 L83.4 346.4 L83.7 346.4 L84.1 346.4 L84.4 346.4 L84.7 346.4 L85.1 346.4 L85.4 346.4 L85.7 346.4 L86.1 346.4 L86.4 346.4 L86.7 346.4 L87.1 346.4 L87.4 346.4 L87.7 346.4 L88.1 346.4 L88.4 346.4 L88.7 346.4 L89.1 346.4 L89.4 346.4 L89.7 346.4 L90.1 346.4 L90.4 346.4 L90.7 346.4 L91.1 346.4 L91.4 346.4 L91.7 346.4 L92.1 346.4 L92.4 346.4 L92.7 346.4 L93.1 346.4 L93.4 346.4 L93.7 346.4 L94.1 346.4 L94.4 346.4 L94.7 346.4 L95.1 346.4 L95.4 346.4 L95.7 346.4 L96.1 346.4 L96.4 346.4 L96.7 346.4 L97.1 346.4 L97.4 346.4 L97.7 346.4 L98.1 346.4 L98.4 346.4 L98.7 346.4 L99.1 346.4 L99.4 346.4 L99.7 346.4 L100.1 346.4 L100.4 346.4 L100.7 346.4 L101.1 346.4 L101.4 346.4 L101.7 346.4 L102.1 346.4 L102.4 346.4 L102.7 346.4 L103.1 346.4 L103.4 346.4 L103.7 346.4 L104.1 346.4 L104.4 346.4 L104.8 346.4 L105.1 346.4 L105.4 346.4 L105.8 346.4 L106.1 346.4 L106.4 346.4 L106.8 346.4 L107.1 346.4 L107.4 346.4 L107.8 346.4 L108.1 346.4 L108.4 346.4 L108.8 346.4 L109.1 346.4 L109.4 346.4 L109.8 346.4 L110.1 346.4 L110.4 346.4 L110.8 346.4 L111.1 346.4 L111.4 346.4 L111.8 346.4 L112.1 346.4 L112.4 346.4 L112.8 346.4 L113.1 346.4 L113.4 346.4 L113.8 346.4 L114.1 346.4 L114.4 346.4 L114.8 346.4 L115.1 346.4 L115.4 346.4 L115.8 346.4 L116.1 346.4 L116.4 346.4 L116.8 346.4 L117.1 346.4 L117.4 346.4 L117.8 346.4 L118.1 346.4 L118.4 346.4 L118.8 346.4 L119.1 346.4 L119.4 346.4 L119.8 346.4 L120.1 346.4 L120.4 346.4 L120.8 346.4 L121.1 346.4 L121.4 346.4 L121.8 346.4 L122.1 346.4 L122.4 346.4 L122.8 346.4 L123.1 346.4 L123.4 346.4 L123.8 346.4 L124.1 346.4 L124.4 346.4 L124.8 346.4 L125.1 346.4 L125.4 346.4 L125.8 346.4 L126.1 346.4 L126.4 346.4 L126.8 346.4 L127.1 346.4 L127.4 346.4 L127.8 346.4 L128.1 346.4 L128.5 346.4 L128.8 346.4 L129.1 346.4 L129.5 346.4 L129.8 346.4 L130.1 346.4 L130.5 346.4 L130.8 346.4 L131.1 346.4 L131.5 346.4 L131.8 346.4 L132.1 346.4 L132.5 346.4 L132.8 346.4 L133.1 346.4 L133.5 346.4 L133.8 346.4 L134.1 346.4 L134.5 346.4 L134.8 346.4 L135.1 346.4 L135.5 346.4 L135.8 346.4 L136.1 346.4 L136.5 346.4 L136.8 346.4 L137.1 346.4 L137.5 346.4 L137.8 346.4 L138.1 346.4 L138.5 346.4 L138.8 346.4 L139.1 346.4 L139.5 346.4 L139.8 346.4 L140.1 346.4 L140.5 346.4 L140.8 346.4 L141.1 346.4 L141.5 346.4 L141.8 346.4 L142.1 346.4 L142.5 346.4 L142.8 346.4 L143.1 346.4 L143.5 346.4 L143.8 346.4 L144.1 346.4 L144.5 346.4 L144.8 346.4 L145.1 346.4 L145.5 346.4 L145.8 346.4 L146.1 346.4 L146.5 346.4 L146.8 346.4 L147.1 346.4 L147.5 346.4 L147.8 346.4 L148.1 346.4 L148.5 346.4 L148.8 346.4 L149.1 346.4 L149.5 346.4 L149.8 346.4 L150.1 346.4 L150.5 346.4 L150.8 346.4 L151.2 346.4 L151.5 346.4 L151.8 346.4 L152.2 346.4 L152.5 346.4 L152.8 346.4 L153.2 346.4 L153.5 346.4 L153.8 346.4 L154.2 346.4 L154.5 346.4 L154.8 346.4 L155.2 346.4 L155.5 346.4 L155.8 346.4 L156.2 346.4 L156.5 346.4 L156.8 346.4 L157.2 346.4 L157.5 346.4 L157.8 346.4 L158.2 346.4 L158.5 346.4 L158.8 346.4 L159.2 346.4 L159.5 346.4 L159.8 346.4 L160.2 346.4 L160.5 346.4 L160.8 346.4 L161.2 346.4 L161.5 346.4 L161.8 346.4 L162.2 346.4 L162.5 346.4 L162.8 346.4 L163.2 346.4 L163.5 346.4 L163.8 346.4 L164.2 346.4 L164.5 346.4 L164.8 346.4 L165.2 346.4 L165.5 346.4 L165.8 346.4 L166.2 346.4 L166.5 346.4 L166.8 346.4 L167.2 346.4 L167.5 346.4 L167.8 346.4 L168.2 346.4 L168.5 346.4 L168.8 346.4 L169.2 346.4 L169.5 346.4 L169.8 346.4 L170.2 346.4 L170.5 346.4 L170.8 346.4 L171.2 346.4 L171.5 346.4 L171.8 346.4 L172.2 346.4 L172.5 346.4 L172.8 346.4 L173.2 346.4 L173.5 346.4 L173.9 346.4 L174.2 346.3 L174.5 346.3 L174.9 346.3 L175.2 346.3 L175.5 346.3 L175.9 346.3 L176.2 346.3 L176.5 346.3 L176.9 346.3 L177.2 346.3 L177.5 346.3 L177.9 346.3 L178.2 346.3 L178.5 346.3 L178.9 346.3 L179.2 346.3 L179.5 346.3 L179.9 346.3 L180.2 346.3 L180.5 346.3 L180.9 346.3 L181.2 346.3 L181.5 346.3 L181.9 346.3 L182.2 346.3 L182.5 346.3 L182.9 346.3 L183.2 346.3 L183.5 346.3 L183.9 346.3 L184.2 346.3 L184.5 346.3 L184.9 346.3 L185.2 346.3 L185.5 346.3 L185.9 346.3 L186.2 346.3 L186.5 346.3 L186.9 346.3 L187.2 346.3 L187.5 346.3 L187.9 346.3 L188.2 346.3 L188.5 346.3 L188.9 346.3 L189.2 346.3 L189.5 346.3 L189.9 346.3 L190.2 346.3 L190.5 346.3 L190.9 346.3 L191.2 346.3 L191.5 346.3 L191.9 346.3 L192.2 346.3 L192.5 346.3 L192.9 346.3 L193.2 346.3 L193.5 346.3 L193.9 346.3 L194.2 346.3 L194.5 346.3 L194.9 346.3 L195.2 346.3 L195.5 346.3 L195.9 346.3 L196.2 346.3 L196.5 346.3 L196.9 346.3 L197.2 346.3 L197.6 346.3 L197.9 346.3 L198.2 346.3 L198.6 346.3 L198.9 346.3 L199.2 346.3 L199.6 346.3 L199.9 346.3 L200.2 346.3 L200.6 346.3 L200.9 346.3 L201.2 346.3 L201.6 346.3 L201.9 346.3 L202.2 346.3 L202.6 346.3 L202.9 346.3 L203.2 346.3 L203.6 346.3 L203.9 346.3 L204.2 346.3 L204.6 346.3 L204.9 346.3 L205.2 346.3 L205.6 346.3 L205.9 346.3 L206.2 346.3 L206.6 346.3 L206.9 346.3 L207.2 346.3 L207.6 346.3 L207.9 346.3 L208.2 346.3 L208.6 346.3 L208.9 346.3 L209.2 346.3 L209.6 346.3 L209.9 346.3 L210.2 346.3 L210.6 346.3 L210.9 346.3 L211.2 346.3 L211.6 346.3 L211.9 346.3 L212.2 346.3 L212.6 346.3 L212.9 346.3 L213.2 346.3 L213.6 346.3 L213.9 346.3 L214.2 346.3 L214.6 346.3 L214.9 346.3 L215.2 346.3 L215.6 346.3 L215.9 346.3 L216.2 346.3 L216.6 346.3 L216.9 346.3 L217.2 346.3 L217.6 346.3 L217.9 346.3 L218.2 346.3 L218.6 346.3 L218.9 346.3 L219.2 346.3 L219.6 346.3 L219.9 346.3 L220.3 346.3 L220.6 346.3 L220.9 346.3 L221.3 346.3 L221.6 346.3 L221.9 346.3 L222.3 346.3 L222.6 346.3 L222.9 346.3 L223.3 346.3 L223.6 346.3 L223.9 346.3 L224.3 346.3 L224.6 346.3 L224.9 346.3 L225.3 346.3 L225.6 346.3 L225.9 346.3 L226.3 346.3 L226.6 346.3 L226.9 346.3 L227.3 346.3 L227.6 346.3 L227.9 346.3 L228.3 346.3 L228.6 346.3 L228.9 346.3 L229.3 346.3 L229.6 346.3 L229.9 346.3 L230.3 346.3 L230.6 346.3 L230.9 346.3 L231.3 346.3 L231.6 346.3 L231.9 346.3 L232.3 346.3 L232.6 346.3 L232.9 346.3 L233.3 346.3 L233.6 346.3 L233.9 346.3 L234.3 346.3 L234.6 346.3 L234.9 346.3 L235.3 346.3 L235.6 346.3 L235.9 346.3 L236.3 346.3 L236.6 346.3 L236.9 346.3 L237.3 346.3 L237.6 346.3 L237.9 346.3 L238.3 346.3 L238.6 346.3 L238.9 346.3 L239.3 346.3 L239.6 346.3 L239.9 346.3 L240.3 346.3 L240.6 346.3 L240.9 346.3 L241.3 346.3 L241.6 346.3 L241.9 346.3 L242.3 346.3 L242.6 346.3 L242.9 346.3 L243.3 346.3 L243.6 346.3 L244.0 346.3 L244.3 346.3 L244.6 346.3 L245.0 346.3 L245.3 346.3 L245.6 346.3 L246.0 346.3 L246.3 346.3 L246.6 346.3 L247.0 346.3 L247.3 346.3 L247.6 346.3 L248.0 346.3 L248.3 346.3 L248.6 346.3 L249.0 346.3 L249.3 346.3 L249.6 346.3 L250.0 346.3 L250.3 346.3 L250.6 346.3 L251.0 346.3 L251.3 346.3 L251.6 346.3 L252.0 346.3 L252.3 346.3 L252.6 346.3 L253.0 346.3 L253.3 346.3 L253.6 346.3 L254.0 346.3 L254.3 346.3 L254.6 346.3 L255.0 346.3 L255.3 346.3 L255.6 346.3 L256.0 346.3 L256.3 346.3 L256.6 346.3 L257.0 346.3 L257.3 346.3 L257.6 346.3 L258.0 346.3 L258.3 346.3 L258.6 346.3 L259.0 346.3 L259.3 346.3 L259.6 346.3 L260.0 346.3 L260.3 346.3 L260.6 346.3 L261.0 346.3 L261.3 346.3 L261.6 346.3 L262.0 346.3 L262.3 346.3 L262.6 346.3 L263.0 346.3 L263.3 346.3 L263.6 346.3 L264.0 346.3 L264.3 346.3 L264.6 346.3 L265.0 346.3 L265.3 346.3 L265.6 346.3 L266.0 346.3 L266.3 346.3 L266.7 346.3 L267.0 346.3 L267.3 346.3 L267.7 346.3 L268.0 346.3 L268.3 346.3 L268.7 346.3 L269.0 346.3 L269.3 346.3 L269.7 346.3 L270.0 346.3 L270.3 346.3 L270.7 346.3 L271.0 346.3 L271.3 346.3 L271.7 346.3 L272.0 346.3 L272.3 346.3 L272.7 346.3 L273.0 346.3 L273.3 346.3 L273.7 346.3 L274.0 346.3 L274.3 346.3 L274.7 346.3 L275.0 346.3 L275.3 346.3 L275.7 346.3 L276.0 346.3 L276.3 346.3 L276.7 346.3 L277.0 346.3 L277.3 346.3 L277.7 346.3 L278.0 346.3 L278.3 346.3 L278.7 346.3 L279.0 346.2 L279.3 346.2 L279.7 346.2 L280.0 346.1 L280.3 346.0 L280.7 346.0 L281.0 345.9 L281.3 345.9 L281.7 345.8 L282.0 345.8 L282.3 345.7 L282.7 345.7 L283.0 345.7 L283.3 345.7 L283.7 345.7 L284.0 345.7 L284.3 345.7 L284.7 345.7 L285.0 345.7 L285.3 345.7 L285.7 345.7 L286.0 345.7 L286.3 345.7 L286.7 345.7 L287.0 345.7 L287.3 345.7 L287.7 345.7 L288.0 345.7 L288.3 345.7 L288.7 345.7 L289.0 345.7 L289.3 345.7 L289.7 345.7 L290.0 345.7 L290.3 345.7 L290.7 345.7 L291.0 345.7 L291.3 345.7 L291.7 345.7 L292.0 345.7 L292.3 345.7 L292.7 345.7 L293.0 345.7 L293.3 345.7 L293.7 345.7 L294.0 345.7 L294.3 345.7 L294.7 345.7 L295.0 345.7 L295.3 345.7 L295.7 345.7 L296.0 345.7 L296.3 345.7 L296.7 345.7 L297.0 345.7 L297.3 345.7 L297.7 345.7 L298.0 345.7 L298.3 345.7 L298.7 345.7 L299.0 345.7 L299.3 345.7 L299.7 345.7 L300.0 345.7 L300.3 345.7 L300.7 345.7 L301.0 345.7 L301.3 345.7 L301.7 345.7 L302.0 345.7 L302.3 345.7 L302.7 345.7 L303.0 345.7 L303.3 345.7 L303.7 345.7 L304.0 345.7 L304.3 345.7 L304.7 345.7 L305.0 345.7 L305.3 345.6 L305.7 345.6 L306.0 345.6 L306.3 345.6 L306.7 345.6 L307.0 345.6 L307.3 345.6 L307.7 345.6 L308.0 345.6 L308.3 345.6 L308.7 345.6 L309.0 345.6 L309.3 345.6 L309.7 345.6 L310.0 345.6 L310.3 345.6 L310.7 345.6 L311.0 345.6 L311.3 345.6 L311.7 345.6 L312.0 345.6 L312.3 345.6 L312.7 345.6 L313.0 345.6 L313.3 345.6 L313.7 345.6 L314.0 345.6 L314.3 345.6 L314.7 345.6 L315.0 345.6 L315.3 345.6 L315.7 345.6 L316.0 345.6 L316.3 345.6 L316.7 345.6 L317.0 345.6 L317.3 345.6 L317.7 345.6 L318.0 345.6 L318.3 345.6 L318.7 345.6 L319.0 345.6 L319.3 345.6 L319.7 345.6 L320.0 345.6 L320.3 345.6 L320.7 345.6 L321.0 345.6 L321.3 345.6 L321.7 345.6 L322.0 345.6 L322.3 345.6 L322.7 345.6 L323.0 345.6 L323.3 345.6 L323.7 345.6 L324.0 345.6 L324.3 345.6 L324.7 345.6 L325.0 345.6 L325.3 345.6 L325.7 345.6 L326.0 345.6 L326.3 345.6 L326.7 345.6 L327.0 345.6 L327.3 345.6 L327.7 345.7 L328.0 345.8 L328.3 345.9 L328.7 346.0 L329.0 346.0 L329.3 346.0 L329.7 345.9 L330.0 345.9 L330.3 345.8 L330.7 345.7 L331.0 345.6 L331.3 345.6 L331.7 345.5 L332.0 345.5 L332.3 345.5 L332.7 345.5 L333.0 345.5 L333.3 345.5 L333.7 345.5 L334.0 345.5 L334.3 345.5 L334.7 345.5 L335.0 345.5 L335.3 345.5 L335.7 345.5 L336.0 345.5 L336.3 345.5 L336.7 345.5 L337.0 345.5 L337.3 345.5 L337.7 345.5 L338.0 345.5 L338.3 345.5 L338.7 345.5 L339.0 345.5 L339.3 345.5 L339.7 345.5 L340.0 345.5 L340.3 345.5 L340.7 345.5 L341.0 345.5 L341.3 345.5 L341.7 345.5 L342.0 345.5 L342.3 345.5 L342.7 345.5 L343.0 345.5 L343.3 345.5 L343.7 345.5 L344.0 345.5 L344.3 345.5 L344.7 345.5 L345.0 345.5 L345.3 345.5 L345.7 345.5 L346.0 345.5 L346.3 345.5 L346.7 345.5 L347.0 345.5 L347.3 345.5 L347.7 345.5 L348.0 345.5 L348.3 345.5 L348.7 345.5 L349.0 345.5 L349.3 345.5 L349.7 345.5 L350.0 345.5 L350.3 345.5 L350.7 345.5 L351.0 345.5 L351.3 345.5 L351.7 345.5 L352.0 345.5 L352.3 345.5 L352.7 345.5 L353.0 345.5 L353.3 345.5 L353.7 345.5 L354.0 345.5 L354.3 345.5 L354.7 345.5 L355.0 345.5 L355.3 345.5 L355.7 345.5 L356.0 345.5 L356.3 345.5 L356.7 345.6 L357.0 345.8 L357.3 345.9 L357.7 346.0 L358.0 346.0 L358.3 346.0 L358.7 345.9 L359.0 345.9 L359.3 345.8 L359.7 345.6 L360.0 345.6 L360.3 345.5 L360.7 345.4 L361.0 345.4 L361.3 345.4 L361.7 345.4 L362.0 345.4 L362.3 345.4 L362.7 345.4 L363.0 345.4 L363.3 345.4 L363.7 345.4 L364.0 345.4 L364.3 345.4 L364.7 345.4 L365.0 345.4 L365.3 345.4 L365.7 345.3 L366.0 345.3 L366.3 345.3 L366.7 345.3 L367.0 345.3 L367.3 345.3 L367.7 345.3 L368.0 345.3 L368.3 345.3 L368.7 345.3 L369.0 345.2 L369.3 345.2 L369.7 345.2 L370.0 345.2 L370.3 345.2 L370.7 345.2 L371.0 345.2 L371.3 345.2 L371.7 345.2 L372.0 345.1 L372.3 345.1 L372.7 345.1 L373.0 345.1 L373.3 345.1 L373.7 345.1 L374.0 345.1 L374.3 345.0 L374.7 345.0 L375.0 345.0 L375.3 345.0 L375.7 345.0 L376.0 345.0 L376.3 345.0 L376.7 345.0 L377.0 344.9 L377.3 344.9 L377.7 344.9 L378.0 344.9 L378.3 344.9 L378.7 344.9 L379.0 344.9 L379.3 344.9 L379.7 344.9 L380.0 344.9 L380.3 344.9 L380.7 344.8 L381.0 344.8 L381.3 344.8 L381.7 344.8 L382.0 344.8 L382.3 344.8 L382.7 344.8 L383.0 344.8 L383.3 344.8 L383.7 344.8 L384.0 344.8 L384.3 344.8 L384.7 344.8 L385.0 344.8 L385.3 344.8 L385.7 344.9 L386.0 345.1 L386.3 345.2 L386.7 345.4 L387.0 345.4 L387.3 345.4 L387.7 345.3 L388.0 345.2 L388.3 345.0 L388.7 344.9 L389.0 344.7 L389.3 344.6 L389.7 344.5 L390.0 344.5 L390.3 344.5 L390.7 344.5 L391.0 344.5 L391.3 344.5 L391.7 344.5 L392.0 344.5 L392.3 344.5 L392.7 344.5 L393.0 344.5 L393.3 344.5 L393.7 344.5 L394.0 344.5 L394.3 344.5 L394.7 344.5 L395.0 344.5 L395.3 344.5 L395.7 344.5 L396.0 344.5 L396.3 344.5 L396.7 344.5 L397.0 344.5 L397.3 344.5 L397.7 344.5 L398.0 344.5 L398.3 344.5 L398.7 344.5 L399.0 344.5 L399.3 344.5 L399.7 344.5 L400.0 344.5 L400.3 344.5 L400.7 344.5 L401.0 344.5 L401.3 344.5 L401.7 344.5 L402.0 344.5 L402.3 344.5 L402.7 344.5 L403.0 344.5 L403.3 344.5 L403.7 344.5 L404.0 344.5 L404.3 344.5 L404.7 344.5 L405.0 344.5 L405.3 344.5 L405.7 344.5 L406.0 344.5 L406.3 344.5 L406.7 344.5 L407.0 344.5 L407.3 344.5 L407.7 344.5 L408.0 344.5 L408.3 344.5 L408.7 344.5 L409.0 344.5 L409.3 344.5 L409.7 344.5 L410.0 344.5 L410.3 344.5 L410.7 344.5 L411.0 344.5 L411.3 344.5 L411.7 344.5 L412.0 344.5 L412.3 344.5 L412.7 344.5 L413.0 344.5 L413.3 344.5 L413.7 344.6 L414.0 344.7 L414.3 344.8 L414.7 344.9 L415.0 345.0 L415.3 345.1 L415.7 345.2 L416.0 345.2 L416.3 345.2 L416.7 345.1 L417.0 344.9 L417.3 344.8 L417.7 344.6 L418.0 344.4 L418.3 344.3 L418.7 344.2 L419.0 344.2 L419.3 344.2 L419.7 344.2 L420.0 344.2 L420.3 344.2 L420.7 344.3 L421.0 344.3 L421.3 344.3 L421.7 344.3 L422.0 344.3 L422.3 344.4 L422.7 344.4 L423.0 344.4 L423.3 344.4 L423.7 344.5 L424.0 344.5 L424.3 344.5 L424.7 344.5 L425.0 344.5 L425.3 344.5 L425.7 344.5 L426.0 344.5 L426.3 344.5 L426.7 344.5 L427.0 344.5 L427.3 344.5 L427.7 344.5 L428.0 344.5 L428.3 344.5 L428.7 344.5 L429.0 344.5 L429.3 344.5 L429.7 344.5 L430.0 344.5 L430.3 344.5 L430.7 344.5 L431.0 344.5 L431.3 344.5 L431.7 344.5 L432.0 344.5 L432.3 344.5 L432.7 344.5 L433.0 344.5 L433.3 344.5 L433.7 344.5 L434.0 344.5 L434.3 344.5 L434.7 344.5 L435.0 344.5 L435.3 344.5 L435.7 344.5 L436.0 344.5 L436.3 344.5 L436.7 344.5 L437.0 344.5 L437.3 344.5 L437.7 344.5 L438.0 344.5 L438.3 344.5 L438.7 344.5 L439.0 344.5 L439.3 344.5 L439.7 344.5 L440.0 344.5 L440.3 344.5 L440.7 344.5 L441.0 344.4 L441.3 344.4 L441.7 344.3 L442.0 344.2 L442.3 344.1 L442.7 344.0 L443.0 343.9 L443.3 343.8 L443.7 343.7 L444.0 343.7 L444.3 343.6 L444.7 343.6 L445.0 343.6 L445.3 343.7 L445.7 343.9 L446.0 344.1 L446.3 344.4 L446.7 344.5 L447.0 344.6 L447.3 344.5 L447.7 344.2 L448.0 343.9 L448.3 343.6 L448.7 343.3 L449.0 343.2 L449.3 343.3 L449.7 343.4 L450.0 343.7 L450.3 343.9 L450.7 344.1 L451.0 344.2 L451.3 344.1 L451.7 343.9 L452.0 343.6 L452.3 343.2 L452.7 343.0 L453.0 342.9 L453.3 342.9 L453.7 342.9 L454.0 342.9 L454.3 342.8 L454.7 342.8 L455.0 342.8 L455.3 342.8 L455.7 342.8 L456.0 342.7 L456.3 342.7 L456.7 342.6 L457.0 342.5 L457.3 342.4 L457.7 342.4 L458.0 342.3 L458.3 342.2 L458.7 342.1 L459.0 342.1 L459.3 342.0 L459.7 342.0 L460.0 342.0 L460.3 342.0 L460.7 342.0 L461.0 342.0 L461.3 342.0 L461.7 342.0 L462.0 342.0 L462.3 342.0 L462.7 341.9 L463.0 341.9 L463.3 341.9 L463.7 341.9 L464.0 341.9 L464.3 341.9 L464.7 341.8 L465.0 341.8 L465.3 341.8 L465.7 341.8 L466.0 341.8 L466.3 341.7 L466.7 341.7 L467.0 341.7 L467.3 341.7 L467.7 341.6 L468.0 341.6 L468.3 341.6 L468.7 341.6 L469.0 341.6 L469.3 341.6 L469.7 341.5 L470.0 341.5 L470.3 341.5 L470.7 341.5 L471.0 341.5 L471.3 341.5 L471.7 341.5 L472.0 341.5 L472.3 341.6 L472.7 341.9 L473.0 342.2 L473.3 342.6 L473.7 342.9 L474.0 343.0 L474.3 342.9 L474.7 342.7 L475.0 342.4 L475.3 342.1 L475.7 341.9 L476.0 341.8 L476.3 341.9 L476.7 342.4 L477.0 342.9 L477.3 343.4 L477.7 343.9 L478.0 344.0 L478.3 343.9 L478.7 343.5 L479.0 343.0 L479.3 342.5 L479.7 342.1 L480.0 342.0 L480.3 342.1 L480.7 342.5 L481.0 343.0 L481.3 343.5 L481.7 343.9 L482.0 344.0 L482.3 343.8 L482.7 343.4 L483.0 342.8 L483.3 342.1 L483.7 341.7 L484.0 341.5 L484.3 341.5 L484.7 341.6 L485.0 341.6 L485.3 341.7 L485.7 341.8 L486.0 341.9 L486.3 341.9 L486.7 342.0 L487.0 342.0 L487.3 342.0 L487.7 341.8 L488.0 341.6 L488.3 341.4 L488.7 341.1 L489.0 340.9 L489.3 340.7 L489.7 340.5 L490.0 340.5 L490.3 340.5 L490.7 340.5 L491.0 340.4 L491.3 340.4 L491.7 340.3 L492.0 340.3 L492.3 340.2 L492.7 340.1 L493.0 340.0 L493.3 340.0 L493.7 339.9 L494.0 339.9 L494.3 339.8 L494.7 339.8 L495.0 339.8 L495.3 339.8 L495.7 339.8 L496.0 339.7 L496.3 339.7 L496.7 339.7 L497.0 339.6 L497.3 339.5 L497.7 339.5 L498.0 339.4 L498.3 339.4 L498.7 339.3 L499.0 339.3 L499.3 339.2 L499.7 339.2 L500.0 339.2 L500.3 339.2 L500.7 339.2 L501.0 339.2 L501.3 339.3 L501.7 339.3 L502.0 339.3 L502.4 339.6 L502.8 340.4 L503.1 341.2 L503.5 341.5 L503.8 341.5 L504.2 341.7 L504.5 341.8 L504.8 342.0 L505.2 342.2 L505.5 342.2 L505.8 342.3 L506.2 342.5 L506.5 342.8 L506.8 343.2 L507.2 343.4 L507.5 343.5 L507.9 343.2 L508.2 342.5 L508.6 341.8 L509.0 341.5 L509.3 341.7 L509.7 342.1 L510.0 342.8 L510.3 343.4 L510.7 343.8 L511.0 344.0 L511.3 343.8 L511.7 343.4 L512.0 342.8 L512.3 342.1 L512.7 341.7 L513.0 341.5 L513.3 341.5 L513.7 341.6 L514.0 341.6 L514.3 341.7 L514.7 341.8 L515.0 341.9 L515.3 341.9 L515.7 342.0 L516.0 342.0 L516.3 341.8 L516.7 341.4 L517.0 340.8 L517.3 340.1 L517.7 339.7 L518.0 339.5 L518.3 339.5 L518.7 339.5 L519.0 339.4 L519.3 339.4 L519.7 339.3 L520.0 339.2 L520.3 339.2 L520.7 339.1 L521.0 339.1 L521.3 339.0 L521.7 339.0 L522.0 339.0 L522.3 339.0 L522.7 339.0 L523.0 338.9 L523.3 338.9 L523.7 338.9 L524.0 338.8 L524.3 338.7 L524.7 338.7 L525.0 338.7 L525.3 338.6 L525.7 338.6 L526.0 338.6 L526.3 338.6 L526.7 338.5 L527.0 338.3 L527.3 338.1 L527.7 338.0 L528.0 337.8 L528.3 337.6 L528.7 337.5 L529.0 337.5 L529.3 337.5 L529.7 337.6 L530.0 337.8 L530.3 337.9 L530.7 338.0 L531.0 338.0 L531.4 338.6 L531.8 340.0 L532.1 341.4 L532.5 342.0 L532.8 341.9 L533.2 341.7 L533.5 341.4 L533.8 341.1 L534.2 340.9 L534.5 340.8 L534.8 341.0 L535.2 341.7 L535.5 342.6 L535.8 343.6 L536.2 344.3 L536.5 344.5 L536.9 344.1 L537.2 343.2 L537.6 342.4 L538.0 342.0 L538.4 342.1 L538.7 342.6 L539.1 343.2 L539.4 343.8 L539.8 344.4 L540.1 344.9 L540.5 345.0 L540.9 344.8 L541.2 344.2 L541.6 343.7 L542.0 343.5 L542.3 343.5 L542.7 343.3 L543.0 343.1 L543.3 342.9 L543.7 342.6 L544.0 342.4 L544.3 342.2 L544.7 342.0 L545.0 342.0 L545.3 341.9 L545.7 341.7 L546.0 341.4 L546.3 341.0 L546.7 340.5 L547.0 340.1 L547.3 339.8 L547.7 339.6 L548.0 339.5 L548.3 339.5 L548.7 339.4 L549.0 339.3 L549.3 339.2 L549.7 339.1 L550.0 338.9 L550.3 338.7 L550.7 338.6 L551.0 338.5 L551.3 338.4 L551.7 338.3 L552.0 338.3 L552.3 338.3 L552.7 338.3 L553.0 338.3 L553.3 338.3 L553.7 338.3 L554.0 338.3 L554.3 338.3 L554.7 338.4 L555.0 338.4 L555.3 338.4 L555.7 338.4 L556.0 338.4 L556.3 338.4 L556.7 338.4 L557.0 338.4 L557.3 338.4 L557.7 338.5 L558.0 338.5 L558.3 338.5 L558.7 338.5 L559.0 338.5 L559.3 338.5 L559.7 338.5 L560.0 338.5 L560.3 338.7 L560.7 339.4 L561.0 340.2 L561.3 341.1 L561.7 341.8 L562.0 342.0 L562.3 342.1 L562.7 342.2 L563.0 342.5 L563.3 342.8 L563.7 343.2 L564.0 343.5 L564.3 343.8 L564.7 343.9 L565.0 344.0 L565.4 344.0 L565.7 344.1 L566.1 344.2 L566.4 344.3 L566.8 344.4 L567.1 344.5 L567.5 344.5 L567.8 344.6 L568.2 344.8 L568.5 345.0 L568.8 345.2 L569.2 345.4 L569.5 345.5 L569.8 345.5 L570.2 345.4 L570.5 345.2 L570.8 345.0 L571.2 344.8 L571.5 344.5 L571.8 344.2 L572.2 344.0 L572.5 343.8 L572.8 343.6 L573.2 343.5 L573.5 343.5" stroke="#ED5E93"/>
</g>
<path d="M55.05 30.40 V356.10 M54.55 355.50 H588.70 M70.00 355.50 V350.50 M164.40 355.50 V350.50 M258.80 355.50 V350.50 M353.20 355.50 V350.50 M447.60 355.50 V350.50 M542.00 355.50 V350.50 M55.05 346.50 H60.05 M55.05 283.54 H60.05 M55.05 220.58 H60.05 M55.05 157.62 H60.05 M55.05 94.66 H60.05 M55.05 31.70 H60.05" stroke="#000" stroke-width="1.1" fill="none"/>
<g style="filter:grayscale(1)">
<text x="66.33" y="371.5" font-size="12.4" textLength="7.45" lengthAdjust="spacingAndGlyphs">0</text>
<text x="152.94" y="371.5" font-size="12.4" textLength="22.53" lengthAdjust="spacingAndGlyphs">100</text>
<text x="247.69" y="371.5" font-size="12.4" textLength="22.18" lengthAdjust="spacingAndGlyphs">200</text>
<text x="342.29" y="371.5" font-size="12.4" textLength="21.97" lengthAdjust="spacingAndGlyphs">300</text>
<text x="436.89" y="371.5" font-size="12.4" textLength="21.76" lengthAdjust="spacingAndGlyphs">400</text>
<text x="531.02" y="371.5" font-size="12.4" textLength="22.04" lengthAdjust="spacingAndGlyphs">500</text>
<text x="28.44" y="351.25" font-size="12.4" textLength="18.11" lengthAdjust="spacingAndGlyphs">0.0</text>
<text x="28.44" y="288.29" font-size="12.4" textLength="18.25" lengthAdjust="spacingAndGlyphs">0.1</text>
<text x="28.44" y="225.33" font-size="12.4" textLength="18.25" lengthAdjust="spacingAndGlyphs">0.2</text>
<text x="28.44" y="162.37" font-size="12.4" textLength="18.18" lengthAdjust="spacingAndGlyphs">0.3</text>
<text x="28.45" y="99.41" font-size="12.4" textLength="17.98" lengthAdjust="spacingAndGlyphs">0.4</text>
<text x="28.44" y="36.45" font-size="12.4" textLength="18.18" lengthAdjust="spacingAndGlyphs">0.5</text>
<text y="17.9" font-size="20.3"><tspan x="71.73" textLength="70.24" lengthAdjust="spacingAndGlyphs">Energy</tspan> <tspan x="150.75" textLength="48.27" lengthAdjust="spacingAndGlyphs">Over</tspan> <tspan x="207.05" textLength="49.36" lengthAdjust="spacingAndGlyphs">Time</tspan> <tspan x="265.26" textLength="27.52" lengthAdjust="spacingAndGlyphs">for</tspan> <tspan x="300.24" textLength="66.07" lengthAdjust="spacingAndGlyphs">Modes</tspan> <tspan x="373.10" textLength="21.16" lengthAdjust="spacingAndGlyphs">1,</tspan> <tspan x="399.90" textLength="20.26" lengthAdjust="spacingAndGlyphs">3,</tspan> <tspan x="426.54" textLength="20.11" lengthAdjust="spacingAndGlyphs">5,</tspan> <tspan x="452.54" textLength="20.10" lengthAdjust="spacingAndGlyphs">7,</tspan> <tspan x="479.18" textLength="20.73" lengthAdjust="spacingAndGlyphs">9,</tspan> <tspan x="505.58" textLength="33.61" lengthAdjust="spacingAndGlyphs">11,</tspan> <tspan x="545.59" textLength="25.38" lengthAdjust="spacingAndGlyphs">13</tspan></text>
<text x="321.6" y="391.7" font-size="16.3" text-anchor="middle" textLength="39.4" lengthAdjust="spacingAndGlyphs">Time</text>
<text transform="translate(16.6 193.9) rotate(-90)" font-size="16.3" text-anchor="middle" textLength="54" lengthAdjust="spacingAndGlyphs">Energy</text>
</g>
<rect x="468.1" y="41.6" width="102.3" height="103.6" fill="#fff" stroke="#000" stroke-width="1.1"/>
<path d="M473.6 54.55 H509.7" stroke="#009AFA" stroke-width="1.1" fill="none"/>
<path d="M473.6 67.51 H509.7" stroke="#E36F47" stroke-width="1.1" fill="none"/>
<path d="M473.6 80.47 H509.7" stroke="#3EA44E" stroke-width="1.1" fill="none"/>
<path d="M473.6 93.43 H509.7" stroke="#C371D2" stroke-width="1.1" fill="none"/>
<path d="M473.6 106.39 H509.7" stroke="#AC8E18" stroke-width="1.1" fill="none"/>
<path d="M473.6 119.35 H509.7" stroke="#00A9AD" stroke-width="1.1" fill="none"/>
<path d="M473.6 132.31 H509.7" stroke="#ED5E93" stroke-width="1.1" fill="none"/>
<g style="filter:grayscale(1)">
<text x="514.4" y="59.00" font-size="12.4" textLength="42.6" lengthAdjust="spacingAndGlyphs">Mode 1</text>
<text x="514.4" y="71.96" font-size="12.4" textLength="42.6" lengthAdjust="spacingAndGlyphs">Mode 3</text>
<text x="514.4" y="84.92" font-size="12.4" textLength="42.6" lengthAdjust="spacingAndGlyphs">Mode 5</text>
<text x="514.4" y="97.88" font-size="12.4" textLength="42.6" lengthAdjust="spacingAndGlyphs">Mode 7</text>
<text x="514.4" y="110.84" font-size="12.4" textLength="42.6" lengthAdjust="spacingAndGlyphs">Mode 9</text>
<text x="514.4" y="123.80" font-size="12.4" textLength="50.4" lengthAdjust="spacingAndGlyphs">Mode 11</text>
<text x="514.4" y="136.76" font-size="12.4" textLength="50.4" lengthAdjust="spacingAndGlyphs">Mode 13</text>
</g>
</svg></body></html>
